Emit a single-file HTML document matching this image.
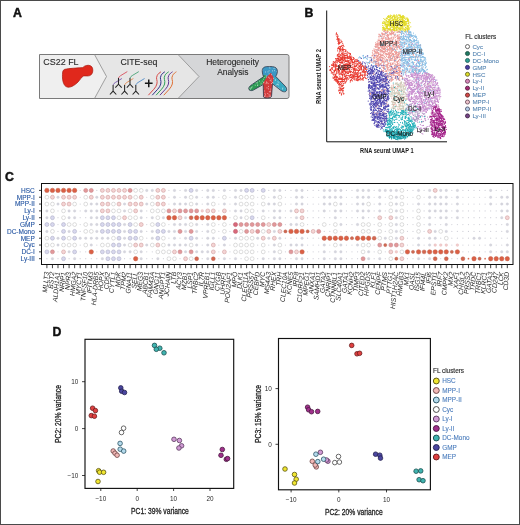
<!DOCTYPE html>
<html><head><meta charset="utf-8"><title>Figure</title>
<style>
html,body{margin:0;padding:0;background:#fff;}
body{width:520px;height:525px;overflow:hidden;}
svg{display:block;font-family:"Liberation Sans", sans-serif;filter:blur(0.3px);}
</style></head>
<body>
<svg width="520" height="525" viewBox="0 0 520 525">
<rect x="0.5" y="0.5" width="519" height="524" fill="none" stroke="#4a4a4a" stroke-width="1"/>
<text x="13.1" y="17" font-size="12.3" font-weight="bold" fill="#111" stroke="#111" stroke-width="0.45">A</text>
<text x="304.6" y="17.3" font-size="12.3" font-weight="bold" fill="#111" stroke="#111" stroke-width="0.45">B</text>
<text x="4.9" y="181.3" font-size="12.3" font-weight="bold" fill="#111" stroke="#111" stroke-width="0.45">C</text>
<text x="52.4" y="335.6" font-size="12.3" font-weight="bold" fill="#111" stroke="#111" stroke-width="0.45">D</text>
<path d="M39.5,54.5 L94.5,54.5 L106.5,76.5 L94.5,98.5 L39.5,98.5 Z" fill="#efefef" stroke="none"/>
<path d="M94.5,54.5 L178,54.5 L199,76.5 L178,98.5 L94.5,98.5 L106.5,76.5 Z" fill="#e6e6e6"/>
<path d="M178,54.5 L287,54.5 Q289,54.5 289,56.5 L289,96.5 Q289,98.5 287,98.5 L178,98.5 L199,76.5 Z" fill="#d5d6d8"/>
<path d="M39.5,54.5 L287,54.5 Q289,54.5 289,56.5 L289,96.5 Q289,98.5 287,98.5 L39.5,98.5 Z" fill="none" stroke="#7a7a7a" stroke-width="1"/>
<path d="M94.5,54.5 L106.5,76.5 L94.5,98.5 M178,54.5 L199,76.5 L178,98.5" fill="none" stroke="#8a8a8a" stroke-width="0.8"/>
<text x="43.3" y="65" font-size="8.95" fill="#2a2a2a" stroke="#2a2a2a" stroke-width="0.12">CS22 FL</text>
<text x="138.9" y="65.1" font-size="8.75" fill="#2a2a2a" stroke="#2a2a2a" stroke-width="0.12" text-anchor="middle">CITE-seq</text>
<text x="232.6" y="65.1" font-size="8.5" fill="#2a2a2a" stroke="#2a2a2a" stroke-width="0.12" text-anchor="middle">Heterogeneity</text>
<text x="232.8" y="75.3" font-size="8.4" fill="#2a2a2a" stroke="#2a2a2a" stroke-width="0.12" text-anchor="middle">Analysis</text>
<path d="M64.8,69.3 C69,68.4 77,68 82.7,67.6 C84,66.4 85,65.7 86.8,65.4 C89.5,64.9 92.3,66 92.7,68.8 C93.1,71.6 92.5,74.5 89.8,75.6 C87.5,76.4 85,75.6 83.5,76 C81.5,76.8 80.5,79.5 78,82 C75.5,84.5 71.5,87.5 68,87.2 C65,86.9 63.8,84.5 63,81.5 C62.3,78.5 62.3,75 62.7,72 C63,70.5 63.6,69.7 64.8,69.3 Z" fill="#e0281c" stroke="#a8180e" stroke-width="0.7"/>
<path d="M113.1,84.89999999999999 C113.69999999999999,83.69999999999999 114.3,83.1 115.3,82.5 L121.89999999999999,78.5" fill="none" stroke="#7050a8" stroke-width="0.95" opacity="0.9"/>
<path d="M109.89999999999999,94.5 L113.1,91.1 L116.3,94.5 M113.1,91.1 L113.1,84.89999999999999" fill="none" stroke="#262626" stroke-width="1.05"/>
<path d="M118.5,78.0 C119.1,76.8 119.7,76.2 120.7,75.60000000000001 L127.3,71.60000000000001" fill="none" stroke="#d84858" stroke-width="0.95" opacity="0.9"/>
<path d="M115.3,87.60000000000001 L118.5,84.2 L121.7,87.60000000000001 M118.5,84.2 L118.5,78.0" fill="none" stroke="#262626" stroke-width="1.05"/>
<path d="M124.6,84.89999999999999 C125.19999999999999,83.69999999999999 125.8,83.1 126.8,82.5 L133.4,78.5" fill="none" stroke="#e88848" stroke-width="0.95" opacity="0.9"/>
<path d="M121.39999999999999,94.5 L124.6,91.1 L127.8,94.5 M124.6,91.1 L124.6,84.89999999999999" fill="none" stroke="#262626" stroke-width="1.05"/>
<path d="M130,78.0 C130.6,76.8 131.2,76.2 132.2,75.60000000000001 L138.8,71.60000000000001" fill="none" stroke="#40a070" stroke-width="0.95" opacity="0.9"/>
<path d="M126.8,87.60000000000001 L130,84.2 L133.2,87.60000000000001 M130,84.2 L130,78.0" fill="none" stroke="#262626" stroke-width="1.05"/>
<path d="M135.8,84.89999999999999 C136.4,83.69999999999999 137.0,83.1 138.0,82.5 L144.60000000000002,78.5" fill="none" stroke="#4888c8" stroke-width="0.95" opacity="0.9"/>
<path d="M132.60000000000002,94.5 L135.8,91.1 L139.0,94.5 M135.8,91.1 L135.8,84.89999999999999" fill="none" stroke="#262626" stroke-width="1.05"/>
<path d="M144.9,83.3 L152.6,83.3 M148.75,79.6 L148.75,87.2" stroke="#161616" stroke-width="1.5"/>
<path d="M148.40,95.2 C152.40,90.5 155.90,88 156.90,84 C157.90,80 155.40,79 157.20,75.5 C158.20,73.5 159.90,72.5 161.00,71.8" fill="none" stroke="#d84a48" stroke-width="1.0"/>
<path d="M152.25,95.2 C156.25,90.5 159.75,88 160.75,84 C161.75,80 159.25,79 161.05,75.5 C162.05,73.5 163.75,72.5 164.85,71.8" fill="none" stroke="#32328a" stroke-width="1.0"/>
<path d="M156.10,95.2 C160.10,90.5 163.60,88 164.60,84 C165.60,80 163.10,79 164.90,75.5 C165.90,73.5 167.60,72.5 168.70,71.8" fill="none" stroke="#30a058" stroke-width="1.0"/>
<path d="M159.95,95.2 C163.95,90.5 167.45,88 168.45,84 C169.45,80 166.95,79 168.75,75.5 C169.75,73.5 171.45,72.5 172.55,71.8" fill="none" stroke="#603894" stroke-width="1.0"/>
<path d="M163.80,95.2 C167.80,90.5 171.30,88 172.30,84 C173.30,80 170.80,79 172.60,75.5 C173.60,73.5 175.30,72.5 176.40,71.8" fill="none" stroke="#e07034" stroke-width="1.0"/>
<clipPath id="ic"><path d="M262.3,72 C261.8,68 264,66.5 268,66.6 C272,66.4 276.5,66.4 277.2,70 C277.8,73 276.5,75 275.8,76.5 L285,86 C287.5,88.5 287,91.5 284.8,91.8 C283,92 281,90.8 279,89 L272.5,83.8 L271.5,96.5 C271,98.3 264,98.6 263.5,96.8 L263.2,84.5 L253.5,90 C250.5,91.5 248,90 249,87.5 C249.8,86 251,85.2 252.5,84.2 L263.5,76.8 C263,75.5 262.5,74 262.3,72 Z"/></clipPath>
<g clip-path="url(#ic)">
<rect x="246" y="64" width="44" height="36" fill="#3c98c4"/>
<path d="M246,78 L266,75 L268,84 L262,92 L246,96 Z" fill="#2c9a52"/>
<path d="M267,76.5 L271,72.8 L274,78.5 L272.8,84 L272.8,100 L262,100 L262.5,84 Z" fill="#d23a3a"/>
<path d="M274,77 L278,77 L290,88 L290,96 L272.8,84 Z" fill="#38a8c0"/>
<path d="M261.0,71.0h0M274.0,68.4h0M269.4,78.1h0M250.3,82.7h0M249.5,80.3h0M250.8,69.0h0M265.0,93.3h0M253.0,73.4h0M273.1,97.3h0M271.1,79.1h0M287.1,67.5h0M282.3,75.6h0M253.8,69.9h0M260.3,92.9h0M255.2,85.2h0M273.6,78.3h0M269.9,68.1h0M250.4,72.8h0M275.2,80.1h0M260.6,85.3h0M266.1,75.9h0M279.8,89.1h0M257.8,85.0h0M269.0,94.9h0M277.2,75.5h0M287.2,69.9h0M264.7,91.0h0M254.1,82.1h0M249.6,88.1h0M278.6,84.9h0M283.0,76.4h0M275.8,85.6h0M271.2,81.1h0M281.6,97.2h0M267.0,87.9h0M250.4,89.1h0M273.9,98.8h0M280.9,75.4h0M263.4,88.1h0M248.9,81.2h0M254.7,69.9h0M250.4,91.4h0M253.2,74.2h0M263.6,94.8h0M251.2,80.8h0M270.0,95.2h0M280.8,94.5h0M259.1,79.7h0M262.4,95.2h0M286.3,71.0h0M255.0,73.7h0M257.3,82.0h0M271.6,74.7h0M248.2,79.8h0M262.8,84.7h0M286.1,88.8h0M268.6,86.4h0M275.0,67.8h0M284.0,91.7h0M283.0,92.3h0M263.7,79.2h0M252.1,86.9h0M250.5,68.2h0M256.4,71.4h0M261.6,67.7h0M248.0,71.0h0M252.1,78.0h0M249.0,94.9h0M272.6,70.9h0M258.1,77.5h0M262.6,70.1h0M282.0,98.8h0M266.6,82.0h0M251.4,69.4h0M261.7,74.7h0M281.2,71.3h0M248.9,97.4h0M269.1,70.8h0M269.7,66.9h0M269.1,98.3h0M282.5,89.0h0M258.4,78.1h0M254.7,91.5h0M269.3,91.7h0M261.2,73.4h0M280.5,98.5h0M282.1,92.6h0M280.7,90.4h0M257.1,83.1h0M262.2,67.0h0M249.1,75.2h0M258.4,88.9h0M286.3,80.8h0M285.5,98.6h0M286.2,78.0h0M256.8,73.5h0M255.9,72.7h0M273.0,95.7h0M281.6,81.8h0M274.1,92.4h0M251.4,87.8h0M284.4,91.8h0M278.0,81.8h0M255.1,92.0h0M261.3,92.4h0M286.9,79.1h0M264.1,97.2h0M277.0,71.6h0M253.1,71.0h0M284.2,92.6h0M253.8,93.3h0M287.2,87.7h0M262.0,84.1h0M253.2,66.5h0M286.8,87.4h0M269.1,96.8h0M265.4,94.8h0M281.0,73.0h0M258.1,75.7h0M257.6,85.4h0M258.4,79.8h0M253.2,96.0h0M262.2,81.1h0M271.3,95.8h0M264.8,96.3h0M268.1,83.6h0M268.9,66.6h0M265.6,72.0h0M248.2,92.4h0M254.9,81.6h0M277.0,84.4h0M261.0,83.1h0M270.2,91.9h0M252.2,84.5h0M257.9,75.1h0M278.9,82.8h0M270.5,91.1h0M284.5,80.6h0M272.5,82.7h0M268.5,88.9h0M266.1,83.6h0M267.1,97.1h0M276.0,94.9h0M285.7,74.6h0M270.4,97.1h0M281.6,70.5h0M252.9,80.6h0M250.9,73.9h0M250.9,88.1h0M279.4,95.6h0M254.2,89.6h0M274.4,70.7h0M283.3,97.9h0M256.8,97.4h0M263.9,82.1h0M287.6,93.5h0M254.5,80.2h0M268.6,77.2h0M255.8,76.5h0M276.9,66.6h0M270.2,80.5h0M248.7,76.9h0M273.0,82.9h0M250.6,98.5h0M279.5,98.1h0M252.2,74.8h0M249.6,91.7h0M258.8,70.3h0M264.9,96.1h0M280.8,74.5h0M254.0,96.3h0M270.8,89.1h0M251.6,67.9h0M275.5,80.0h0M250.9,97.0h0M273.4,92.5h0M251.3,94.3h0M250.7,94.5h0M266.2,77.2h0M270.1,96.6h0M258.7,70.3h0M269.1,73.9h0M252.4,71.3h0M250.0,72.7h0M260.5,76.1h0M278.4,75.6h0M268.0,71.9h0M261.9,66.6h0M258.0,66.5h0M277.3,84.2h0M255.6,81.7h0M285.4,69.5h0M280.8,80.3h0M267.8,93.5h0M263.7,82.7h0M275.5,98.4h0M261.7,93.5h0M276.3,87.0h0M264.2,77.5h0M250.2,70.3h0M250.8,90.4h0M258.2,71.4h0M251.4,93.8h0M282.8,88.1h0M259.3,74.0h0M259.7,81.2h0M254.3,80.7h0M258.5,97.7h0M286.9,84.1h0M257.8,97.9h0M260.4,77.8h0M248.0,78.6h0M267.0,82.6h0M256.0,82.7h0M248.2,74.7h0M251.6,79.2h0M249.7,66.7h0M260.2,73.7h0M271.4,83.5h0M278.0,87.7h0" stroke="#ffffff" stroke-width="0.9" stroke-linecap="round" opacity="0.75"/>
</g>
<path d="M262.3,72 C261.8,68 264,66.5 268,66.6 C272,66.4 276.5,66.4 277.2,70 C277.8,73 276.5,75 275.8,76.5 L285,86 C287.5,88.5 287,91.5 284.8,91.8 C283,92 281,90.8 279,89 L272.5,83.8 L271.5,96.5 C271,98.3 264,98.6 263.5,96.8 L263.2,84.5 L253.5,90 C250.5,91.5 248,90 249,87.5 C249.8,86 251,85.2 252.5,84.2 L263.5,76.8 C263,75.5 262.5,74 262.3,72 Z" fill="none" stroke="#383c4c" stroke-width="0.8"/>
<path d="M326.7,10.5 L326.7,141.8 L447,141.8" fill="none" stroke="#111" stroke-width="1"/>
<text transform="translate(320.5,76.5) rotate(-90)" font-size="7.5" font-weight="bold" fill="#222" text-anchor="middle" textLength="55" lengthAdjust="spacingAndGlyphs">RNA seurat UMAP 2</text>
<text x="386.8" y="152.9" font-size="7.5" font-weight="bold" fill="#222" text-anchor="middle" textLength="53.5" lengthAdjust="spacingAndGlyphs">RNA seurat UMAP 1</text>
<path d="M344.9,53.7h0M363.1,71.2h0M334.0,65.9h0M350.1,71.7h0M358.9,79.9h0M358.4,71.5h0M344.8,57.9h0M340.7,92.0h0M357.3,60.5h0M351.0,58.3h0M337.0,39.4h0M353.9,77.0h0M348.1,75.6h0M344.0,54.1h0M339.6,78.4h0M364.3,72.8h0M340.3,62.5h0M343.7,49.4h0M337.4,80.4h0M351.1,56.2h0M335.7,76.9h0M341.2,93.4h0M343.5,45.3h0M352.0,67.2h0M361.4,67.3h0M340.0,89.7h0M336.5,71.2h0M342.8,52.5h0M342.1,78.8h0M340.3,73.2h0M339.7,46.6h0M352.6,74.9h0M362.4,72.0h0M339.6,92.5h0M345.2,57.8h0M357.8,74.0h0M355.0,80.1h0M359.4,69.9h0M343.3,45.1h0M357.7,61.3h0M344.6,81.8h0M354.1,62.9h0M359.5,76.1h0M365.8,66.2h0M359.6,66.7h0M345.4,77.2h0M339.1,79.2h0M343.7,72.0h0M340.3,49.4h0M338.5,81.9h0M338.5,42.1h0M354.6,73.1h0M337.1,60.9h0M363.6,67.5h0M363.7,70.3h0M363.3,70.8h0M342.8,69.5h0M346.3,68.6h0M352.2,75.6h0M339.7,79.4h0M334.0,72.4h0M361.8,63.4h0M338.6,67.2h0M352.5,80.8h0M339.2,41.2h0M336.4,62.1h0M360.8,72.6h0M360.5,62.8h0M338.3,47.5h0M361.3,66.8h0M344.6,70.4h0M341.2,78.3h0M349.0,66.4h0M348.3,64.9h0M344.9,58.9h0M337.3,55.0h0M349.9,60.2h0M346.6,67.0h0M344.9,69.9h0M356.9,69.8h0M344.1,68.3h0M348.9,61.5h0M352.1,63.8h0M349.0,65.0h0M347.0,72.2h0M345.0,83.3h0M361.2,69.5h0M351.7,59.3h0M346.4,72.1h0M339.0,57.2h0M349.7,57.5h0M349.0,68.2h0M343.8,74.0h0M342.3,48.3h0M341.5,57.9h0M357.6,77.7h0M354.4,61.9h0M340.7,67.2h0M341.4,83.7h0M335.7,74.4h0M337.8,71.8h0M340.5,60.7h0M337.0,39.4h0M366.0,71.7h0M355.0,72.1h0M351.4,58.3h0M365.9,68.1h0M339.7,56.7h0M335.7,80.6h0M337.7,60.5h0M347.0,69.7h0M330.2,69.5h0M340.1,65.3h0M353.3,73.2h0M357.2,64.6h0M341.4,94.9h0M347.8,73.5h0M334.9,79.3h0M365.3,72.9h0M335.9,79.4h0M338.7,82.4h0M335.5,61.0h0M343.7,64.0h0M344.1,57.6h0M353.4,69.1h0M360.1,64.0h0M338.9,90.0h0M359.7,65.9h0M354.8,61.5h0M337.9,69.0h0M342.2,48.2h0M345.4,73.1h0M357.5,63.8h0M340.1,50.2h0M361.4,67.9h0M336.9,36.6h0M349.4,58.6h0M355.0,75.8h0M344.3,74.0h0M333.4,61.6h0M352.6,67.2h0M340.4,88.5h0M343.0,56.4h0M348.2,62.9h0M366.0,74.9h0M354.7,78.3h0M360.7,75.4h0M343.3,69.4h0M352.3,62.3h0M342.8,85.5h0M335.7,76.2h0M361.1,66.4h0M354.5,68.4h0M363.2,78.5h0M351.2,59.5h0M358.8,76.6h0M356.4,76.7h0M335.5,65.2h0M342.4,61.0h0M345.2,57.3h0M353.7,75.8h0M349.2,64.6h0M354.2,69.8h0M352.9,78.1h0M336.5,79.1h0M337.5,77.6h0M352.0,76.8h0M337.9,69.9h0M363.7,66.9h0M348.2,73.6h0M334.2,70.5h0M347.1,57.4h0M343.6,54.0h0M339.8,59.1h0M341.0,58.2h0M344.3,79.2h0M339.1,56.2h0M343.9,55.6h0M347.4,77.8h0M341.5,59.5h0M352.7,61.7h0M355.0,77.1h0M353.5,71.2h0M337.2,81.5h0M361.4,69.7h0M340.0,77.6h0M338.6,59.5h0M337.6,50.8h0M333.8,64.8h0M347.0,73.2h0M363.3,69.2h0M339.5,56.6h0M357.3,79.8h0M349.8,62.7h0M338.0,54.9h0M363.1,80.2h0M344.5,55.8h0M338.4,79.2h0M342.6,79.7h0M345.4,65.4h0M356.4,78.8h0M360.2,76.1h0M350.6,58.7h0M343.8,79.5h0M343.8,57.6h0M344.5,74.6h0M345.0,49.5h0M334.3,80.1h0M340.8,40.0h0M347.1,61.5h0M336.7,64.8h0M360.0,75.3h0M354.4,68.1h0M347.7,64.3h0M338.9,43.6h0M332.0,65.2h0M344.6,76.3h0M334.1,67.1h0M333.3,64.7h0M351.2,79.1h0M343.4,79.4h0M334.0,77.8h0M343.8,87.7h0M365.6,69.3h0M340.5,57.3h0M348.2,79.5h0M342.7,53.3h0M338.2,81.3h0M359.1,79.2h0M339.7,62.4h0M340.8,90.2h0M346.0,57.9h0M350.5,57.2h0M342.7,53.7h0M337.5,82.8h0M344.4,79.1h0M348.4,72.1h0M362.2,65.9h0M350.8,71.2h0M339.3,60.6h0M337.1,70.0h0M337.5,35.0h0M350.9,74.2h0M332.3,73.0h0M351.5,79.7h0M340.4,62.9h0M346.1,53.6h0M361.3,63.6h0M353.8,72.1h0M355.2,74.4h0M335.7,79.5h0M344.4,64.8h0M346.4,81.2h0M350.7,59.4h0M338.7,68.4h0M341.2,69.6h0M341.9,78.0h0M338.7,38.8h0M339.5,48.3h0M345.8,50.7h0M344.4,58.7h0M348.0,78.3h0M333.3,62.2h0M336.1,76.9h0M334.3,71.5h0M342.5,71.1h0M334.1,78.0h0M335.6,69.3h0M365.3,68.2h0M352.7,62.5h0M345.0,67.4h0M342.7,43.6h0M341.2,74.7h0M356.8,76.0h0M333.8,75.1h0M338.8,81.3h0M350.3,77.3h0M336.6,60.3h0M334.5,71.5h0M347.8,61.8h0M342.8,58.6h0M365.0,73.0h0M340.1,64.7h0M343.3,81.7h0M353.8,77.2h0M332.2,67.4h0M336.7,81.8h0M339.7,73.8h0M346.3,78.5h0M351.3,61.9h0M358.9,68.4h0M337.5,77.7h0M343.2,93.1h0M346.8,80.5h0M356.2,78.5h0M349.5,65.3h0M362.6,75.7h0M342.9,58.0h0M344.2,61.0h0M342.1,71.4h0M342.4,57.3h0M339.2,52.1h0M348.2,62.7h0M340.9,86.0h0M358.7,65.9h0M341.7,58.7h0M341.9,41.5h0M350.5,57.3h0M346.5,68.8h0M355.4,72.3h0M344.6,64.8h0M342.9,77.2h0M350.5,61.9h0M354.7,68.0h0M357.2,75.5h0M344.0,71.4h0M349.6,55.1h0M340.2,84.5h0M357.6,74.5h0M336.3,58.6h0M340.4,82.5h0M338.9,60.7h0M332.4,72.8h0M341.5,46.5h0M339.9,76.3h0M353.0,68.2h0M339.8,90.6h0M334.6,77.4h0M342.3,54.7h0M360.9,72.7h0M345.5,51.2h0" stroke="#e8382e" stroke-width="1.2" stroke-linecap="round" fill="none"/>
<path d="M400.3,28.7h0M385.9,29.3h0M393.7,28.2h0M383.7,29.7h0M397.6,26.7h0M389.2,19.5h0M385.7,30.1h0M396.4,26.4h0M388.2,17.3h0M401.2,28.7h0M394.7,25.4h0M407.3,25.4h0M391.8,26.0h0M407.1,29.6h0M391.9,26.1h0M393.9,28.5h0M408.1,23.6h0M403.0,20.0h0M407.6,20.5h0M391.5,20.5h0M392.6,24.4h0M400.6,20.1h0M401.7,17.0h0M403.3,16.8h0M406.7,28.1h0M387.5,22.9h0M400.4,25.7h0M403.8,20.8h0M395.7,30.1h0M388.6,22.2h0M405.9,22.2h0M387.0,21.4h0M387.4,25.8h0M385.3,30.4h0M388.6,16.3h0M391.9,29.4h0M394.0,30.3h0M403.9,25.1h0M392.8,29.7h0M385.3,23.9h0M408.0,19.7h0M400.8,28.7h0M395.9,30.8h0M403.7,23.1h0M393.7,26.7h0M400.8,29.5h0M392.5,26.0h0M402.8,17.6h0M400.1,25.6h0M397.9,25.0h0M405.5,24.9h0M396.0,15.7h0M391.3,22.0h0M387.8,21.6h0M392.2,24.3h0M400.3,21.5h0M384.7,25.0h0M408.2,19.1h0M409.4,28.0h0M397.1,17.1h0M393.7,24.3h0M404.9,21.0h0M393.5,20.5h0M407.2,19.6h0M386.4,18.5h0M404.7,22.9h0M394.8,23.4h0M400.0,15.6h0M388.1,19.4h0M394.2,24.9h0M400.2,16.8h0M394.1,19.4h0M395.7,19.8h0M408.4,20.0h0M392.8,22.8h0M404.9,23.2h0M405.0,24.2h0M393.9,29.2h0M395.8,22.8h0M388.9,24.9h0M405.3,21.9h0M400.5,24.6h0M401.2,23.1h0M393.1,29.9h0M407.5,26.5h0M400.1,24.5h0M386.1,22.3h0M404.6,18.3h0M393.2,26.9h0M397.1,28.6h0M394.6,17.4h0M393.1,27.4h0M393.6,19.7h0M396.9,21.8h0M402.3,22.0h0M400.1,27.1h0M400.1,17.8h0M410.1,22.7h0M393.7,26.5h0M405.8,21.7h0M393.1,23.6h0M401.6,17.4h0M394.7,16.5h0M407.4,18.2h0M382.6,22.8h0M407.1,21.7h0M389.7,16.9h0M393.1,16.4h0M386.5,28.1h0M396.1,24.5h0M397.7,24.4h0M396.8,20.4h0M406.5,18.1h0M385.3,24.6h0M392.6,29.5h0M403.9,29.8h0M390.0,28.0h0M389.6,29.7h0M407.3,27.1h0M389.2,17.2h0M388.4,28.5h0M399.8,24.3h0M391.6,23.7h0M400.0,29.6h0M391.7,23.9h0M388.5,15.8h0M389.8,19.6h0M400.7,16.1h0M394.8,23.6h0M386.8,21.3h0M383.2,21.3h0M400.5,16.0h0M386.6,25.9h0M393.0,19.5h0M390.2,19.8h0M390.7,18.3h0M396.1,25.7h0M382.5,29.9h0M396.1,19.8h0M383.2,27.2h0M384.4,22.0h0M402.5,25.9h0M392.1,25.2h0M395.7,17.3h0M408.8,29.7h0M400.3,20.4h0M395.5,21.3h0M395.8,19.8h0M397.6,26.0h0M392.3,17.0h0M389.8,23.5h0M404.1,22.8h0M386.3,28.0h0M404.7,23.2h0M395.3,19.9h0M402.8,22.7h0M391.3,20.8h0M393.3,25.1h0M392.9,24.7h0M389.9,23.4h0M387.0,24.4h0M388.5,23.9h0M390.0,23.5h0M397.4,20.7h0M402.6,19.2h0M402.0,23.0h0M387.4,30.2h0M385.3,23.8h0M408.6,23.5h0M398.6,28.7h0M387.4,24.9h0M394.3,20.0h0M398.2,17.7h0M395.9,30.2h0M400.2,16.9h0M386.8,26.3h0M384.0,28.5h0M384.8,23.4h0M396.0,27.7h0" stroke="#e2da24" stroke-width="1.2" stroke-linecap="round" fill="none"/>
<path d="M397.9,73.1h0M375.4,46.8h0M389.5,61.1h0M400.7,65.7h0M397.8,78.0h0M378.1,65.4h0M390.4,66.4h0M390.0,59.0h0M385.8,37.6h0M404.9,66.9h0M406.4,47.1h0M416.1,36.4h0M410.8,65.0h0M419.7,65.1h0M408.7,58.5h0M400.4,48.8h0M415.6,69.7h0M407.5,50.5h0M420.7,45.1h0M416.8,65.5h0M402.1,58.0h0M407.2,54.9h0M403.1,42.9h0M423.2,64.4h0M409.6,69.0h0M409.5,50.6h0M406.2,32.8h0M401.5,34.4h0M408.9,31.9h0M412.8,38.6h0M411.6,59.0h0M424.4,70.3h0M408.6,38.3h0M418.5,47.5h0M409.1,36.7h0M400.3,55.7h0M407.8,41.7h0M422.5,50.0h0M405.3,54.2h0M418.2,51.5h0M400.7,70.9h0M406.6,34.1h0M401.2,63.8h0M426.7,69.9h0M425.7,72.3h0M409.3,65.6h0M413.7,45.1h0M409.0,45.7h0M413.1,72.6h0M405.3,51.0h0M414.6,60.3h0M413.9,39.5h0M407.9,53.4h0M408.0,72.0h0M422.1,61.5h0M409.6,47.6h0M410.1,39.4h0M408.4,53.6h0M415.9,36.7h0M419.9,63.2h0M408.8,54.1h0M425.5,65.2h0M405.6,54.9h0M420.5,47.6h0M425.1,64.4h0M410.3,32.0h0M413.4,53.2h0M405.7,42.8h0M412.3,36.3h0M411.9,44.4h0M424.6,65.1h0M413.2,71.4h0M401.7,36.5h0M405.0,60.0h0M401.8,65.9h0M416.7,65.9h0M421.2,59.6h0M401.5,30.8h0M406.7,43.3h0M413.6,57.3h0M405.4,31.9h0M409.1,59.5h0M401.8,60.9h0M406.6,38.9h0M407.9,63.8h0M415.1,65.2h0M416.9,42.0h0M401.4,44.7h0M404.6,44.6h0M407.0,43.0h0M413.3,71.6h0M409.5,36.9h0M402.2,31.4h0M409.4,71.8h0M407.1,39.9h0M420.2,57.8h0M401.3,42.7h0M408.5,48.5h0M403.2,73.1h0M402.8,58.7h0M418.7,71.6h0M408.8,60.5h0M402.6,44.1h0M421.8,54.0h0M399.9,48.9h0M413.7,40.6h0M417.8,59.4h0M418.5,70.8h0M410.8,53.2h0M421.6,68.0h0M406.6,67.6h0M414.8,68.3h0M408.0,40.8h0M403.1,71.2h0M401.0,38.0h0M406.4,53.0h0M402.8,42.4h0M404.4,55.3h0M411.6,40.5h0M402.5,38.6h0M417.8,47.6h0M401.3,51.9h0M404.3,63.2h0M411.7,53.0h0M416.5,39.9h0M416.5,56.1h0M414.3,41.5h0M411.7,46.1h0M409.0,55.7h0M412.2,56.5h0M402.1,31.4h0M407.9,54.0h0M407.7,61.5h0M415.9,47.8h0M399.5,44.4h0M418.9,62.0h0M422.2,63.0h0M409.4,70.9h0M417.0,38.6h0M411.1,49.1h0M423.0,53.4h0M416.1,45.5h0M408.7,34.7h0M405.3,60.5h0M407.4,62.0h0M423.4,54.1h0M410.3,47.7h0M404.5,42.4h0M418.3,66.0h0M408.6,45.8h0M412.3,71.5h0M419.2,55.8h0M419.7,70.6h0M414.8,60.3h0M405.0,69.8h0M420.1,71.8h0M425.3,68.0h0M404.5,52.2h0M420.6,46.8h0M401.6,37.1h0M406.3,63.9h0M419.8,50.5h0M410.7,56.1h0M410.3,49.3h0M416.1,42.9h0M406.2,41.5h0M412.9,68.3h0M412.0,50.0h0M421.1,54.9h0M403.4,62.6h0M418.1,45.3h0M403.0,38.5h0M401.6,52.3h0M403.8,64.6h0M409.0,45.5h0M424.8,71.0h0M408.4,37.4h0M406.9,68.0h0M418.7,56.6h0M412.0,54.5h0M413.9,72.3h0M401.4,51.8h0M424.0,59.1h0M417.0,40.5h0M420.6,60.9h0M422.9,70.2h0M409.5,65.7h0M416.4,56.1h0M421.9,67.7h0M406.5,54.6h0M423.4,61.1h0M410.0,31.6h0M410.5,39.6h0M419.3,45.7h0M423.0,56.8h0M418.7,73.6h0M419.5,64.4h0M408.2,64.8h0M403.3,70.1h0M420.3,59.7h0M420.5,44.7h0M419.1,54.3h0M421.8,61.9h0M413.3,45.8h0M409.1,39.4h0M401.3,60.7h0M420.2,61.7h0M401.8,52.6h0M406.4,44.0h0M420.2,48.6h0M408.5,62.6h0M415.7,40.6h0M401.9,33.5h0M404.9,69.5h0M425.4,71.9h0M414.7,53.4h0M414.1,36.2h0M410.6,57.6h0M413.5,64.1h0M406.2,31.3h0M410.1,57.6h0M405.3,59.1h0M402.2,32.7h0M408.3,66.5h0M417.0,60.6h0M409.0,45.9h0M417.6,48.1h0M399.3,31.6h0M421.9,57.2h0M419.4,71.3h0M401.6,72.1h0M402.6,60.8h0M413.9,44.8h0M399.6,31.7h0M403.9,37.9h0M422.4,54.5h0M405.4,36.4h0M412.1,65.3h0M413.1,67.5h0M400.4,59.8h0M401.0,43.6h0M404.1,70.3h0M426.2,62.5h0M418.3,56.1h0M401.2,32.0h0M417.8,61.9h0M407.4,61.2h0M406.6,39.6h0M418.8,56.7h0M407.0,57.6h0M407.5,69.8h0M409.0,43.5h0M404.0,51.3h0M410.8,57.2h0M419.6,66.2h0M417.2,69.2h0M406.6,36.8h0M425.5,63.8h0M402.9,48.0h0M402.1,55.3h0M418.6,45.6h0M401.6,54.0h0M403.6,38.1h0M421.1,48.3h0M427.1,72.4h0M431.1,106.1h0M406.4,90.0h0M420.7,108.2h0M430.6,90.5h0M416.4,79.0h0M438.5,87.6h0M429.8,87.5h0M430.9,91.1h0M429.4,74.4h0M431.5,101.3h0M418.7,79.8h0M419.7,80.6h0M426.5,96.8h0M415.2,73.6h0M406.3,78.7h0M432.2,76.8h0M360.6,57.7h0M364.7,67.0h0M373.4,59.0h0M360.3,57.4h0M358.8,57.9h0M363.3,55.7h0M361.5,64.0h0M371.5,64.6h0M375.8,63.3h0M366.1,62.0h0M368.8,62.7h0M368.8,69.2h0M373.4,62.0h0M365.1,57.5h0M361.0,63.9h0M367.1,66.9h0M367.5,64.1h0M373.7,66.0h0" stroke="#84bce4" stroke-width="1.2" stroke-linecap="round" fill="none"/>
<path d="M391.7,75.5h0M387.7,68.8h0M390.3,72.3h0M399.8,53.3h0M379.0,65.9h0M393.2,72.5h0M379.1,58.3h0M394.0,38.0h0M389.9,70.1h0M385.0,47.8h0M388.2,57.5h0M377.9,61.0h0M374.8,57.9h0M392.7,31.9h0M388.4,29.4h0M392.5,45.6h0M398.9,52.9h0M385.6,71.5h0M385.9,43.8h0M395.6,52.2h0M375.3,60.9h0M386.6,56.4h0M380.7,35.4h0M393.8,45.7h0M398.6,67.7h0M374.0,58.7h0M389.1,70.0h0M395.8,56.6h0M377.0,43.4h0M389.5,48.3h0M396.8,78.8h0M381.5,47.1h0M387.8,48.3h0M394.6,67.9h0M382.0,38.4h0M380.6,58.1h0M389.4,53.9h0M380.4,50.9h0M392.3,46.0h0M390.7,60.5h0M387.6,34.4h0M390.4,33.4h0M393.6,70.1h0M399.1,68.1h0M396.7,57.6h0M377.2,55.5h0M392.2,79.2h0M399.5,70.7h0M389.9,51.6h0M377.9,61.9h0M379.2,53.9h0M372.5,55.5h0M396.9,42.3h0M386.7,71.3h0M386.9,65.8h0M395.4,67.1h0M380.3,60.7h0M393.3,46.9h0M382.3,46.3h0M381.6,41.2h0M387.2,54.4h0M391.4,74.9h0M385.6,61.0h0M395.6,34.0h0M380.4,64.3h0M389.9,55.5h0M394.0,34.4h0M398.8,36.5h0M395.5,53.9h0M387.5,61.0h0M380.5,63.7h0M382.4,58.7h0M381.6,47.9h0M392.5,53.3h0M383.3,40.4h0M396.2,53.4h0M381.1,42.7h0M383.7,68.8h0M390.6,53.5h0M374.3,57.1h0M385.0,60.8h0M377.6,44.8h0M381.1,52.1h0M380.3,35.2h0M395.1,60.5h0M384.2,46.0h0M375.8,44.9h0M399.3,77.9h0M395.7,77.5h0M398.9,73.2h0M389.3,50.2h0M389.6,48.6h0M392.9,64.2h0M381.3,50.3h0M390.2,65.0h0M389.3,65.8h0M376.4,47.2h0M386.3,54.0h0M390.4,34.6h0M392.7,50.2h0M389.0,74.2h0M387.1,35.1h0M396.4,67.9h0M374.1,60.4h0M381.2,36.5h0M386.2,46.3h0M398.6,78.6h0M399.8,39.7h0M397.6,54.3h0M381.9,66.8h0M390.0,74.0h0M385.5,50.2h0M384.2,36.4h0M389.5,55.0h0M388.4,53.3h0M382.0,57.0h0M380.5,44.9h0M388.6,63.4h0M392.3,50.9h0M399.1,79.9h0M384.1,43.0h0M398.8,75.2h0M393.1,56.3h0M391.5,58.9h0M381.2,46.8h0M381.9,61.2h0M379.3,42.7h0M396.3,54.8h0M382.6,61.4h0M390.5,59.7h0M396.1,59.8h0M394.2,54.7h0M392.3,40.7h0M397.4,38.3h0M395.0,71.5h0M386.9,39.3h0M379.0,50.4h0M397.0,52.4h0M375.1,53.2h0M394.8,65.4h0M376.0,63.9h0M377.6,58.5h0M378.7,55.0h0M385.0,33.5h0M376.3,59.1h0M387.8,77.6h0M380.8,36.5h0M393.4,56.3h0M387.2,73.8h0M378.0,64.0h0M376.8,49.6h0M397.2,42.2h0M387.3,60.4h0M383.2,46.7h0M387.7,68.7h0M392.7,57.9h0M393.3,79.6h0M388.2,63.3h0M398.2,75.4h0M381.2,63.5h0M389.1,44.7h0M381.2,63.9h0M395.4,64.2h0M393.1,43.9h0M393.4,49.8h0M397.5,38.7h0M383.5,43.1h0M388.5,46.4h0M393.4,32.3h0M400.8,75.9h0M398.2,31.7h0M378.4,47.5h0M382.0,55.3h0M387.8,45.5h0M391.7,37.7h0M384.0,40.6h0M376.4,53.3h0M393.9,37.9h0M398.5,47.1h0M389.8,56.6h0M387.0,41.6h0M389.6,39.8h0M393.2,50.3h0M394.8,75.3h0M378.1,50.5h0M376.1,63.7h0M398.4,43.4h0M388.9,52.6h0M381.1,38.9h0M384.8,68.1h0M381.7,45.0h0M389.5,72.3h0M391.3,80.7h0M388.6,54.5h0M391.3,49.3h0M399.9,71.4h0M396.6,69.7h0M383.1,55.3h0M399.8,69.3h0M394.4,56.5h0M379.6,43.8h0M398.5,53.9h0M394.4,72.9h0M381.2,41.7h0M383.0,67.7h0M387.7,50.0h0M378.5,59.9h0M398.3,79.1h0M389.3,32.7h0M387.8,59.7h0M390.9,62.9h0M390.4,69.8h0M395.2,66.7h0M395.4,76.1h0M390.5,48.9h0M379.1,48.6h0M387.1,61.0h0M397.0,36.4h0M392.2,33.3h0M387.4,78.6h0M376.5,50.1h0M386.8,44.2h0M397.2,57.1h0M374.7,51.0h0M377.8,56.0h0M387.7,62.0h0M398.5,45.5h0M384.8,52.4h0M397.3,72.5h0M393.5,71.8h0M396.3,51.3h0M399.4,34.8h0M384.1,36.8h0M379.3,34.7h0M395.6,67.3h0M401.6,76.0h0M390.2,47.9h0M375.4,62.1h0M385.5,32.5h0M401.1,76.4h0M394.8,78.1h0M393.1,45.1h0M399.7,65.1h0M387.8,42.7h0M387.9,31.3h0M381.5,69.6h0M384.6,31.1h0M399.4,74.2h0M399.2,65.2h0M384.2,29.3h0M385.9,37.6h0M400.0,38.4h0M377.7,42.8h0M389.3,63.0h0M383.6,53.1h0M390.5,57.6h0M390.0,57.9h0M391.5,43.5h0M396.2,41.5h0M383.5,70.6h0M389.7,57.8h0M398.1,55.2h0M399.0,38.2h0M393.2,54.8h0M389.9,34.0h0M402.8,78.2h0M400.1,51.4h0M377.9,45.3h0M382.9,60.9h0M397.4,56.2h0M382.7,35.0h0M378.3,65.7h0M398.3,38.2h0M400.1,44.4h0M392.7,69.8h0M377.3,43.7h0M399.6,59.7h0M396.4,73.2h0M396.3,62.1h0M398.2,45.7h0M383.0,45.6h0M386.5,71.4h0M390.5,40.4h0M378.4,48.8h0M393.7,33.0h0M397.7,46.9h0M389.8,59.6h0M383.2,38.2h0M411.4,44.4h0M411.2,42.5h0M422.4,68.2h0M406.0,71.2h0M407.0,64.9h0M418.0,56.9h0M406.1,48.6h0M414.1,62.5h0M403.7,40.0h0M414.8,56.6h0M403.4,63.8h0M418.0,67.0h0M407.1,30.9h0M409.8,66.5h0M412.4,48.8h0M403.3,33.6h0M380.6,85.0h0M382.7,75.5h0M378.3,126.2h0M366.9,68.8h0M379.5,110.4h0M382.8,80.1h0M373.9,72.9h0M367.6,74.6h0M384.4,89.1h0M385.3,113.0h0M373.0,83.3h0M373.8,100.0h0M376.9,104.3h0M382.6,82.4h0M386.0,93.1h0M374.9,90.8h0M379.7,113.7h0M377.1,124.3h0M383.9,118.9h0M372.4,92.2h0M381.2,91.7h0M373.4,93.1h0M393.3,105.8h0M398.8,86.2h0M393.2,102.5h0M394.1,104.4h0M400.4,101.6h0M393.3,84.8h0M393.4,108.8h0M400.9,84.9h0M402.9,96.8h0M399.4,106.2h0M401.8,90.4h0M367.8,62.5h0M361.8,64.2h0M374.2,60.9h0" stroke="#ec9a96" stroke-width="1.2" stroke-linecap="round" fill="none"/>
<path d="M397.5,76.6h0M392.0,67.3h0M391.4,77.9h0M397.2,57.7h0M396.9,71.6h0M380.2,59.3h0M389.5,80.3h0M395.9,76.6h0M378.7,63.2h0M393.5,72.0h0M394.5,60.3h0M385.0,69.2h0M375.6,116.4h0M374.1,90.8h0M371.9,85.6h0M388.6,97.9h0M376.8,92.1h0M378.5,124.6h0M376.2,78.4h0M375.9,97.0h0M375.4,117.7h0M380.2,80.8h0M388.2,95.6h0M379.6,95.6h0M376.9,113.2h0M385.5,106.3h0M374.3,83.6h0M374.7,71.8h0M372.6,117.5h0M385.8,77.7h0M377.5,100.2h0M385.6,84.9h0M374.5,104.3h0M377.6,67.3h0M383.1,101.1h0M372.2,69.4h0M374.3,103.6h0M386.5,83.3h0M385.2,113.5h0M380.8,99.6h0M379.5,111.1h0M377.4,104.9h0M371.6,92.7h0M371.4,87.9h0M380.2,117.8h0M384.1,116.9h0M386.1,94.6h0M375.8,85.9h0M382.4,109.9h0M380.6,91.6h0M377.6,100.5h0M375.7,106.1h0M384.6,118.1h0M378.1,91.9h0M376.1,80.2h0M371.7,72.9h0M369.5,95.8h0M387.2,88.7h0M384.7,119.8h0M379.3,115.9h0M383.9,76.5h0M369.4,90.6h0M375.1,79.5h0M387.2,99.0h0M381.1,105.3h0M381.7,103.8h0M375.2,110.2h0M379.5,78.3h0M376.8,98.4h0M383.5,72.5h0M377.8,78.6h0M374.5,95.5h0M380.5,118.5h0M385.2,107.2h0M374.0,101.9h0M384.4,99.9h0M375.3,99.5h0M374.2,88.5h0M378.9,101.5h0M384.3,93.3h0M377.9,117.3h0M370.7,76.3h0M380.8,99.6h0M383.7,112.0h0M375.2,85.2h0M383.0,92.2h0M375.5,98.1h0M377.2,71.1h0M385.5,96.7h0M376.6,96.7h0M388.2,82.1h0M386.3,79.3h0M376.1,86.5h0M386.9,87.0h0M382.3,71.6h0M380.8,111.2h0M374.5,99.1h0M377.6,117.4h0M383.2,124.2h0M380.3,77.0h0M386.4,119.9h0M380.2,79.6h0M373.6,106.3h0M381.2,85.4h0M386.3,106.7h0M380.8,118.9h0M367.7,73.0h0M383.0,84.4h0M379.4,75.0h0M386.1,73.9h0M386.8,91.2h0M372.1,78.5h0M380.8,80.1h0M379.3,81.7h0M372.4,78.4h0M384.3,108.2h0M374.4,77.2h0M382.9,102.6h0M377.6,81.7h0M388.1,91.5h0M383.2,79.5h0M372.9,113.7h0M378.3,82.3h0M382.6,97.6h0M374.9,81.8h0M379.1,94.9h0M375.1,96.3h0M368.4,66.0h0M379.1,96.5h0M368.4,87.3h0M384.8,90.2h0M388.3,110.0h0M369.5,98.0h0M377.4,80.7h0M370.0,90.9h0M372.6,73.6h0M377.4,95.7h0M378.8,105.3h0M382.2,123.1h0M373.0,107.1h0M384.7,103.4h0M372.7,87.6h0M375.4,74.1h0M386.5,76.8h0M381.0,106.6h0M375.0,98.9h0M378.5,85.1h0M383.7,124.5h0M388.8,90.4h0M385.4,84.9h0M379.8,86.4h0M375.4,106.8h0M371.0,99.2h0M384.3,79.6h0M369.5,93.5h0M380.1,81.6h0M383.6,115.7h0M372.9,94.9h0M386.5,76.6h0M388.9,85.5h0M380.9,115.5h0M372.9,72.0h0M374.4,82.4h0M370.5,97.1h0M374.1,123.8h0M371.5,79.6h0M375.8,118.1h0M377.7,102.9h0M371.8,98.0h0M373.8,80.1h0M373.8,95.1h0M381.1,121.7h0M384.8,101.0h0M388.3,88.6h0M380.1,98.2h0M371.8,94.8h0M377.3,75.7h0M373.9,101.3h0M382.8,80.7h0M374.8,94.4h0M386.3,106.0h0M379.3,97.5h0M371.8,86.9h0M374.4,80.2h0M376.6,110.4h0M374.7,85.3h0M371.7,112.7h0M371.6,98.7h0M376.5,125.8h0M381.6,121.6h0M376.5,72.5h0M378.5,105.2h0M383.3,75.3h0M373.8,95.8h0M382.0,113.5h0M373.8,120.2h0M373.1,102.0h0M373.3,84.5h0M379.6,113.5h0M370.9,107.5h0M371.9,91.1h0M374.3,93.1h0M372.2,115.6h0M380.9,79.9h0M378.1,113.2h0M379.4,70.8h0M377.9,81.8h0M382.7,93.8h0M373.0,81.1h0M380.8,96.1h0M377.9,70.8h0M379.6,92.2h0M373.6,75.5h0M379.7,85.8h0M374.1,84.3h0M374.5,83.5h0M381.2,120.2h0M372.9,117.7h0M371.2,107.6h0M379.5,99.4h0M368.2,101.1h0M371.2,116.9h0M371.5,96.6h0M380.4,111.0h0M387.9,93.0h0M380.8,121.0h0M373.8,110.3h0M373.5,104.3h0M376.0,93.4h0M385.2,98.3h0M376.9,92.9h0M368.6,84.9h0M381.2,79.9h0M371.3,87.4h0M378.5,95.7h0M373.0,92.7h0M369.9,104.8h0M380.1,86.4h0M384.9,75.9h0M376.5,79.8h0M377.0,103.3h0M384.2,106.3h0M371.3,65.4h0M387.7,89.4h0M367.5,72.1h0M379.3,89.1h0M369.6,98.3h0M383.8,102.1h0M377.6,92.6h0M372.9,103.6h0M377.5,116.6h0M381.5,121.6h0M376.6,96.1h0M374.4,103.6h0M375.0,105.4h0M374.1,119.3h0M379.8,77.6h0M387.6,94.3h0M376.4,115.1h0M381.1,125.1h0M373.1,105.2h0M388.0,85.5h0M379.3,98.6h0M372.7,70.8h0M382.3,127.9h0M379.7,108.3h0M379.7,84.4h0M370.2,103.3h0M384.2,113.0h0M375.6,79.4h0M376.3,69.0h0M375.6,96.6h0M383.0,89.3h0M369.0,87.5h0M380.5,98.3h0M381.3,86.8h0M384.1,125.0h0M381.4,121.9h0M383.5,114.1h0M370.4,72.6h0M372.0,95.2h0M379.4,100.4h0M375.0,91.6h0M381.5,109.8h0M387.9,91.5h0M380.4,121.2h0M372.5,89.7h0M386.4,77.6h0M385.3,76.1h0M380.0,84.3h0M385.1,93.0h0M383.5,107.4h0M372.7,120.1h0M384.5,126.3h0M382.4,94.3h0M375.5,97.8h0M374.8,74.6h0M381.6,71.9h0M370.0,85.9h0M381.9,102.7h0M378.0,126.0h0M381.9,87.0h0M379.4,123.0h0M373.4,114.2h0M377.2,95.1h0M386.3,78.2h0M381.7,117.8h0M377.8,126.7h0M382.6,112.3h0M385.9,85.2h0M374.6,77.1h0M382.6,84.4h0M372.3,101.3h0M371.0,81.0h0M374.5,107.9h0M373.7,91.0h0M381.0,117.5h0M379.5,78.1h0M377.0,84.7h0M376.2,116.6h0M380.7,123.9h0M371.9,89.7h0M372.9,77.1h0M380.3,87.3h0M374.3,77.3h0M377.7,119.2h0M379.0,117.7h0M369.2,94.5h0M381.2,80.9h0M375.5,97.3h0M369.5,85.0h0M376.8,82.4h0M376.6,87.1h0M376.2,73.2h0M371.5,82.0h0M381.6,122.1h0M373.7,115.0h0M384.7,102.7h0M371.7,78.6h0M387.1,84.9h0M371.0,97.2h0M375.2,88.7h0M373.4,119.2h0M369.2,85.8h0M378.2,92.0h0M373.2,116.8h0M369.9,92.9h0M381.3,104.4h0M386.9,88.3h0M366.4,67.4h0M384.5,122.3h0M380.5,73.6h0M381.6,109.9h0M387.9,92.7h0M375.5,113.9h0M379.5,116.1h0M384.3,93.9h0M378.1,125.0h0M381.4,111.6h0M373.7,85.9h0M380.0,92.0h0M370.3,82.0h0M372.6,70.0h0M388.4,91.6h0M382.6,118.6h0M378.4,116.9h0M375.9,82.5h0M384.7,86.8h0M369.9,87.2h0M372.3,66.8h0M376.2,65.7h0M362.4,63.2h0M365.5,63.8h0M361.3,58.4h0" stroke="#4e46b0" stroke-width="1.2" stroke-linecap="round" fill="none"/>
<path d="M419.1,69.4h0M404.3,57.1h0M411.4,48.6h0M419.8,55.3h0M418.5,52.0h0M407.1,70.2h0M421.7,76.2h0M424.8,91.8h0M432.8,94.1h0M412.3,76.6h0M430.4,93.4h0M429.8,76.1h0M417.4,78.0h0M411.9,94.4h0M413.8,74.1h0M424.5,109.0h0M422.0,98.3h0M418.6,93.5h0M419.0,85.5h0M411.2,89.6h0M422.5,102.5h0M421.5,99.0h0M439.3,93.2h0M408.5,95.9h0M430.6,106.2h0M429.0,101.1h0M415.5,71.7h0M418.3,81.1h0M420.9,90.6h0M433.8,89.5h0M415.6,105.5h0M435.1,96.1h0M426.1,103.7h0M411.8,75.6h0M428.3,98.4h0M434.7,77.1h0M439.4,96.2h0M421.5,83.0h0M427.2,109.3h0M411.3,97.7h0M415.6,103.6h0M425.1,100.8h0M425.8,77.5h0M435.7,105.5h0M428.7,92.1h0M429.8,101.2h0M431.8,90.9h0M430.4,85.5h0M420.0,96.5h0M410.0,99.9h0M428.7,73.5h0M427.0,74.9h0M417.8,87.9h0M410.1,82.3h0M420.8,96.4h0M408.4,76.8h0M429.3,101.3h0M436.0,93.4h0M439.2,90.2h0M417.3,91.5h0M431.2,101.4h0M415.8,89.3h0M417.0,82.1h0M423.6,107.4h0M422.9,111.1h0M423.4,80.4h0M425.0,77.2h0M434.3,100.6h0M424.7,94.9h0M427.0,94.3h0M428.3,93.1h0M420.7,83.0h0M429.9,79.8h0M405.8,78.4h0M424.5,93.6h0M419.7,101.7h0M422.0,95.6h0M410.8,91.6h0M414.6,94.0h0M434.6,79.5h0M426.7,99.6h0M422.6,105.1h0M426.2,75.8h0M418.8,77.9h0M429.6,89.0h0M407.1,94.9h0M429.8,96.1h0M419.2,106.2h0M422.9,75.4h0M429.3,74.6h0M421.2,98.7h0M410.3,92.9h0M431.1,108.3h0M423.6,99.9h0M413.9,91.8h0M412.7,103.4h0M424.5,83.5h0M431.7,75.4h0M432.6,98.4h0M411.0,85.0h0M430.2,86.2h0M405.7,78.6h0M438.5,102.4h0M426.3,112.5h0M434.2,87.7h0M433.9,90.9h0M420.4,108.2h0M418.7,93.0h0M409.3,95.6h0M427.7,81.6h0M434.2,98.3h0M412.8,101.3h0M431.3,105.8h0M414.3,78.3h0M410.2,99.9h0M439.2,94.9h0M418.6,98.4h0M414.3,102.2h0M423.8,78.1h0M415.8,100.5h0M427.8,78.1h0M432.0,87.6h0M411.3,97.5h0M412.6,76.1h0M421.9,93.2h0M422.8,80.4h0M435.3,94.1h0M418.1,77.0h0M413.7,97.1h0M425.7,92.0h0M422.8,105.6h0M407.5,79.9h0M434.0,78.8h0M412.2,99.0h0M420.2,102.2h0M435.2,89.7h0M426.8,88.2h0M427.9,94.6h0M420.2,89.1h0M411.5,94.1h0M413.6,87.6h0M427.1,105.5h0M417.7,92.1h0M439.1,89.8h0M416.2,83.9h0M428.3,86.4h0M405.3,83.9h0M422.8,89.4h0M426.0,98.3h0M427.8,77.2h0M405.5,74.1h0M425.1,93.1h0M416.0,83.6h0M440.7,96.4h0M418.2,83.1h0M425.3,73.2h0M424.5,106.1h0M429.8,90.0h0M418.9,87.5h0M425.8,80.0h0M431.5,75.4h0M428.0,91.3h0M430.0,81.4h0M420.0,92.5h0M433.4,94.3h0M423.8,81.3h0M414.8,93.8h0M409.0,94.4h0M424.6,97.1h0M415.6,93.1h0M419.0,92.6h0M416.7,82.9h0M429.5,105.9h0M427.8,92.6h0M428.7,98.0h0M422.1,87.8h0M424.2,72.3h0M421.5,76.8h0M423.7,106.8h0M428.3,83.2h0M426.8,99.0h0M416.7,95.9h0M435.0,100.0h0M420.0,85.6h0M428.7,89.5h0M424.8,109.4h0M437.2,99.8h0M419.4,101.0h0M426.4,76.4h0M428.5,94.8h0M428.0,74.0h0M406.2,79.4h0M414.9,89.0h0M422.6,106.7h0M416.1,75.1h0M425.9,99.5h0M438.2,87.0h0M410.7,74.6h0M433.7,91.4h0M420.4,75.3h0M406.9,94.5h0M422.8,103.7h0M418.4,73.2h0M417.6,98.0h0M417.3,106.4h0M419.5,95.7h0M435.0,93.5h0M421.3,93.1h0M412.9,80.8h0M418.4,82.4h0M418.0,88.1h0M416.8,88.1h0M426.9,75.0h0M426.1,77.5h0M426.3,91.9h0M429.3,102.1h0M431.8,98.6h0M411.9,97.5h0M424.3,106.0h0M412.6,84.5h0M431.9,92.0h0M416.6,78.0h0M437.7,93.4h0M424.0,92.0h0M416.3,101.5h0M414.5,103.9h0M436.8,95.4h0M415.0,89.7h0M434.6,87.7h0M413.8,89.6h0M433.0,78.6h0M423.5,110.9h0M421.1,78.8h0M423.6,106.5h0M429.7,85.1h0M433.5,97.9h0M431.9,102.6h0M404.6,78.1h0M411.5,74.7h0M414.2,73.0h0M418.4,91.5h0M427.0,73.6h0M419.6,106.2h0M424.8,85.0h0M414.2,75.4h0M422.7,82.7h0M419.2,108.1h0M428.7,77.1h0M409.9,84.7h0M417.9,91.6h0M419.2,104.4h0M419.0,77.2h0M413.5,101.3h0M406.5,84.9h0M418.4,104.6h0M430.4,96.2h0M420.3,97.5h0M430.6,77.0h0M416.4,80.9h0M428.3,104.2h0M434.1,90.9h0M413.7,91.2h0M415.2,97.4h0M410.6,89.2h0M426.7,78.6h0M421.7,109.1h0M420.4,72.8h0M407.6,90.8h0M424.7,94.0h0M416.3,76.8h0M419.9,107.1h0M418.3,81.5h0M434.4,97.4h0M412.4,98.2h0M423.3,90.7h0M432.0,76.2h0M426.2,97.9h0M408.1,92.0h0M408.0,98.3h0M425.2,81.4h0M412.2,92.3h0M404.9,82.3h0M421.3,109.8h0M434.9,84.9h0M426.1,90.2h0M430.2,99.9h0M425.3,80.1h0M415.3,75.2h0M417.1,74.9h0M411.2,83.3h0M421.4,82.7h0M418.0,83.9h0M418.7,79.5h0M428.6,75.8h0M437.7,96.9h0M421.2,90.7h0M428.5,102.3h0M415.9,79.1h0M423.4,76.8h0M427.7,73.5h0M439.3,99.2h0M407.5,82.6h0M428.2,98.9h0M426.5,98.6h0M437.5,101.7h0M415.7,77.1h0M428.6,84.1h0M417.2,106.5h0M418.7,93.3h0M411.2,91.1h0M426.7,86.3h0M414.6,99.9h0M409.5,100.7h0M417.0,73.5h0M412.4,74.8h0M436.7,90.2h0M427.3,79.6h0M409.2,99.7h0M419.2,95.7h0M411.8,111.0h0M408.1,109.5h0M413.9,109.4h0M420.4,111.4h0M411.2,110.5h0M418.4,115.9h0M417.7,115.7h0M412.7,117.8h0M422.8,116.6h0M418.9,113.8h0M419.9,109.4h0M412.0,119.8h0M412.8,114.2h0M419.6,115.7h0M413.6,109.7h0M417.8,132.1h0M422.9,134.0h0M421.5,130.7h0" stroke="#c88cce" stroke-width="1.2" stroke-linecap="round" fill="none"/>
<path d="M404.2,97.2h0M402.8,102.3h0M397.4,95.4h0M399.1,104.0h0M392.1,102.0h0M403.2,94.3h0M401.2,96.7h0M393.4,99.0h0M402.4,90.7h0M405.1,96.4h0M403.9,98.5h0M396.8,83.7h0M394.8,102.8h0M403.3,99.9h0M399.0,88.1h0M403.9,94.6h0M404.6,92.0h0M405.2,108.1h0M401.6,91.6h0M399.6,85.1h0M397.0,89.0h0M401.9,106.2h0M402.0,88.1h0M405.7,87.4h0M396.7,92.9h0M395.2,102.5h0M394.3,98.8h0M400.0,89.9h0M399.3,95.2h0M404.6,85.9h0M403.3,96.8h0M395.6,103.1h0M401.1,95.9h0M401.1,98.6h0M393.4,90.4h0M396.7,88.1h0M392.9,93.6h0M391.1,94.5h0M403.6,106.8h0M398.0,99.2h0M399.6,92.3h0M391.7,90.0h0M404.0,94.3h0M399.5,105.8h0M400.2,108.3h0M403.5,86.7h0M404.4,97.0h0M392.0,104.6h0M393.6,86.4h0M396.5,106.5h0M401.4,96.7h0M393.5,84.8h0M391.9,88.4h0M395.6,92.9h0M395.9,100.5h0M391.8,87.9h0M394.4,91.6h0M395.1,93.7h0M392.9,106.9h0M405.2,105.2h0M397.1,89.5h0M391.5,93.0h0M405.2,89.4h0M401.5,86.1h0M404.2,92.6h0M398.2,106.9h0M397.7,93.4h0M399.3,99.8h0M393.8,98.5h0M403.7,91.3h0M394.0,96.4h0M395.0,107.1h0M403.7,93.0h0M390.8,93.9h0M393.9,99.1h0M400.7,94.4h0M403.2,98.9h0M403.8,106.2h0M401.0,100.6h0M400.8,87.5h0M402.7,85.0h0M395.6,97.3h0M392.9,103.4h0M394.0,97.2h0M391.1,87.7h0M402.9,86.7h0M407.0,93.9h0M401.5,83.2h0M399.7,93.7h0M401.4,108.9h0M405.5,88.5h0M398.4,94.3h0M403.1,101.9h0M397.8,92.0h0M395.8,106.2h0M402.8,100.6h0M425.2,96.0h0M408.1,89.3h0M421.5,89.5h0M433.0,87.1h0M432.5,76.7h0M422.0,90.6h0M432.9,96.6h0M415.1,73.2h0M416.4,86.5h0M427.6,74.5h0M422.3,91.3h0M426.2,80.7h0M432.2,89.7h0M414.7,96.3h0M420.3,91.6h0M426.2,75.8h0M388.9,117.3h0M412.4,128.7h0M392.0,135.2h0M407.0,122.4h0M391.8,122.0h0M398.6,132.9h0M402.8,114.9h0M388.4,113.8h0M403.9,114.9h0M405.1,125.5h0M396.2,139.4h0" stroke="#d0cab8" stroke-width="1.2" stroke-linecap="round" fill="none"/>
<path d="M395.2,106.4h0M405.7,100.2h0M402.0,94.1h0M396.4,100.4h0M394.2,95.5h0M398.3,84.8h0M401.2,91.2h0M407.2,110.1h0M408.6,105.3h0M420.5,116.7h0M419.6,122.0h0M409.9,111.7h0M416.6,117.3h0M395.4,115.8h0M404.1,136.2h0M398.1,136.8h0M393.8,128.5h0M391.6,118.7h0M386.6,127.6h0M401.4,132.3h0M401.8,128.4h0M388.8,127.0h0M390.3,112.4h0M406.5,133.5h0M409.0,130.1h0M411.8,129.5h0M394.4,116.3h0M389.3,137.2h0M405.7,129.9h0M403.2,126.6h0M399.5,133.3h0M405.7,110.9h0M392.5,120.1h0M409.4,127.0h0M402.4,110.6h0M392.5,124.5h0M412.4,123.7h0M399.6,116.2h0M398.0,112.2h0M387.7,124.6h0M398.6,138.5h0M405.4,112.8h0M386.8,129.7h0M405.3,130.0h0M410.7,129.1h0M403.7,112.6h0M409.7,129.1h0M398.5,112.7h0M404.1,120.5h0M398.5,126.9h0M390.2,127.1h0M409.9,120.2h0M394.3,120.4h0M406.1,112.9h0M392.7,112.4h0M401.8,132.9h0M396.5,131.1h0M407.9,127.2h0M387.7,127.8h0M391.2,136.6h0M391.7,128.6h0M388.3,120.6h0M393.9,115.6h0M392.5,124.1h0M407.7,120.5h0M396.1,115.8h0M389.7,126.4h0M414.1,125.9h0M394.0,136.4h0M391.0,135.0h0M410.1,120.4h0M394.5,131.9h0M388.2,131.1h0M405.4,137.7h0M409.3,132.5h0M391.5,133.9h0M387.6,122.6h0M403.6,137.7h0M406.8,117.3h0M397.3,130.0h0M401.5,132.8h0M407.1,125.9h0M413.8,129.3h0M396.1,139.1h0M392.8,112.8h0M409.6,126.9h0M391.4,137.5h0M400.2,131.4h0M411.8,126.7h0M386.2,131.8h0M391.7,129.9h0M390.8,118.6h0M411.0,121.0h0M384.0,131.6h0M386.8,131.4h0M385.9,131.1h0M394.3,132.9h0M397.0,128.3h0M391.5,137.1h0M390.4,124.5h0M405.3,132.5h0M389.3,133.0h0M398.9,132.9h0M392.6,118.4h0M394.1,126.3h0M403.8,129.3h0M398.4,115.4h0M396.7,126.7h0M389.1,112.3h0M411.8,130.3h0M393.7,127.1h0M406.6,108.4h0M405.5,131.6h0M410.4,121.4h0M402.6,110.4h0M394.5,130.4h0M387.9,132.7h0M397.8,137.9h0M389.9,137.4h0M397.5,129.6h0M410.4,131.4h0M408.7,122.2h0M396.3,114.8h0M394.1,136.7h0M389.5,117.0h0M390.2,111.7h0M389.1,133.5h0M404.3,130.1h0M395.2,119.5h0M415.2,124.9h0M409.1,121.3h0M410.0,129.7h0M388.0,120.8h0M404.0,113.0h0M392.4,127.9h0M399.3,137.9h0M412.6,121.2h0M394.8,114.2h0M393.7,138.1h0M394.7,134.3h0M391.0,122.8h0M400.9,118.0h0M393.2,114.4h0M408.5,122.5h0M411.6,131.5h0M408.4,127.0h0M394.5,137.8h0M412.8,125.2h0M396.6,134.8h0M401.2,119.2h0M400.1,137.8h0M406.2,123.9h0M409.7,118.9h0M392.3,123.9h0M411.8,129.1h0M388.3,123.7h0M406.0,130.6h0M386.5,132.2h0M408.8,127.7h0M404.4,134.9h0M411.4,120.7h0M388.0,119.8h0M394.1,132.4h0M389.8,123.7h0M412.0,127.1h0M388.8,113.7h0M397.6,130.5h0M403.8,110.9h0M395.0,116.1h0M389.6,115.4h0M386.9,115.7h0M407.0,123.2h0M385.1,130.8h0M398.1,136.7h0M394.2,130.2h0M393.7,137.6h0M395.0,137.0h0M406.8,128.4h0M390.8,125.6h0M405.4,118.3h0M404.2,111.7h0M396.1,117.5h0M405.2,133.2h0M408.8,127.7h0M413.2,128.5h0M395.4,115.3h0M397.9,112.6h0M411.4,129.1h0M393.8,137.3h0M408.8,130.6h0M388.7,109.2h0M407.5,129.7h0M409.3,123.3h0M407.3,133.2h0M408.7,127.6h0M391.4,135.8h0M404.6,121.5h0M405.6,109.6h0M390.6,111.9h0M402.8,130.4h0M407.0,137.6h0M407.5,114.6h0M397.3,122.6h0M389.8,129.0h0M393.6,127.9h0M409.5,133.5h0M389.0,137.1h0M394.6,122.3h0M405.5,118.1h0M405.2,125.6h0" stroke="#22b0ba" stroke-width="1.2" stroke-linecap="round" fill="none"/>
<path d="M412.3,111.7h0M419.2,109.2h0M415.6,111.6h0M416.0,112.6h0M415.8,119.3h0M408.8,112.7h0M421.0,115.9h0M415.8,112.5h0M413.7,118.1h0M409.6,104.8h0M418.1,118.4h0M418.5,108.9h0M416.3,110.1h0M427.5,117.0h0M415.6,107.6h0M419.8,110.6h0M422.4,113.2h0M424.7,113.6h0M411.6,105.5h0M414.2,106.9h0M412.6,110.6h0M415.0,116.5h0M417.7,111.9h0M416.7,118.3h0M420.8,109.2h0M417.7,116.8h0M413.4,115.4h0M425.7,120.6h0M419.3,113.1h0M410.9,110.6h0" stroke="#a898c0" stroke-width="1.2" stroke-linecap="round" fill="none"/>
<path d="M387.5,130.7h0M392.3,131.9h0M400.8,137.4h0M403.7,137.6h0M405.8,135.4h0M399.1,133.7h0M399.9,136.2h0M386.4,131.4h0M399.6,137.6h0M386.6,135.0h0M400.1,136.0h0M390.7,132.4h0M386.5,131.6h0M399.5,138.8h0M400.9,134.4h0M398.0,133.4h0M405.0,136.9h0M394.6,135.4h0M395.7,132.8h0M396.7,133.7h0M397.2,136.7h0M388.0,131.7h0M393.0,134.2h0M397.7,139.0h0M410.5,133.9h0M403.2,134.4h0M408.4,135.7h0M399.6,133.9h0M385.8,130.6h0M408.4,134.4h0M388.7,132.4h0M396.5,136.3h0M394.4,137.1h0M388.5,132.4h0M401.4,135.8h0M402.0,133.8h0M398.1,134.5h0M396.6,133.8h0M392.8,134.5h0M400.4,134.6h0M402.5,133.0h0M391.4,131.8h0M389.4,135.5h0M405.9,136.4h0M394.2,134.5h0M393.2,137.7h0M397.3,134.6h0" stroke="#0e939c" stroke-width="1.2" stroke-linecap="round" fill="none"/>
<path d="M417.1,127.1h0M419.3,128.4h0M425.4,129.4h0M420.7,128.2h0M426.2,127.4h0" stroke="#b878c4" stroke-width="1.2" stroke-linecap="round" fill="none"/>
<path d="M438.0,118.4h0M434.5,130.6h0M443.1,122.0h0M440.1,117.4h0M443.0,126.9h0M441.8,121.3h0M437.1,117.8h0M442.0,125.5h0M440.4,135.1h0M433.5,116.4h0M434.0,135.7h0M438.0,114.8h0M436.4,110.6h0M439.3,133.7h0M436.6,120.2h0M437.1,127.2h0M441.2,130.0h0M435.4,125.8h0M442.0,123.6h0M437.0,116.6h0M441.8,115.0h0M435.5,108.2h0M436.1,122.8h0M441.9,130.4h0M442.3,134.2h0M441.8,117.0h0M435.0,109.2h0M441.0,131.7h0M437.9,125.7h0M436.3,110.3h0M438.8,124.9h0M442.4,131.1h0M438.0,127.3h0M441.0,129.6h0M440.4,120.9h0M435.0,107.4h0M436.2,125.8h0M438.0,129.2h0M439.0,123.8h0M441.3,123.4h0M442.5,125.0h0M445.2,123.2h0M435.5,126.7h0M441.7,116.7h0M437.8,136.9h0M439.4,116.4h0M431.2,127.7h0M431.3,131.1h0M441.4,127.2h0M437.2,110.1h0M435.2,134.4h0M432.4,121.0h0M434.4,129.1h0M438.0,137.6h0M433.2,120.3h0M439.6,120.8h0M437.9,115.7h0M430.7,123.9h0M434.3,123.7h0M435.7,126.7h0M430.7,121.9h0M444.2,134.7h0M433.3,109.1h0M432.5,112.3h0M437.8,137.1h0M436.7,134.8h0M438.1,110.4h0M433.7,120.7h0M438.9,115.1h0M438.2,131.1h0M444.3,127.3h0M441.0,125.6h0M437.1,135.0h0M438.6,111.0h0M437.0,119.7h0M434.8,114.4h0M440.8,133.8h0M430.1,116.2h0M433.3,130.7h0M435.4,136.5h0M433.8,107.8h0M432.0,119.0h0M436.6,119.4h0M436.6,106.6h0M433.1,114.8h0M440.2,118.1h0M442.6,121.0h0M430.5,122.3h0M438.3,109.2h0M439.7,113.2h0M438.1,105.0h0M436.2,111.4h0M437.2,120.4h0M435.1,130.0h0M437.9,131.4h0M439.5,113.6h0M433.9,114.0h0M434.6,125.8h0M432.4,133.8h0M438.8,136.9h0M431.6,121.2h0M434.3,120.1h0M434.4,120.5h0M440.1,131.6h0M443.3,128.4h0M440.8,131.3h0M436.3,124.4h0M440.4,122.1h0M436.1,110.6h0M434.5,117.8h0M433.8,107.0h0M438.5,123.1h0M436.3,118.7h0M431.9,117.2h0M434.1,122.1h0M444.0,133.3h0M436.2,122.3h0M432.6,129.5h0M441.3,111.4h0M435.6,110.7h0M434.8,122.6h0M433.0,132.9h0M432.0,110.8h0M435.3,128.4h0M436.9,117.9h0M437.2,118.8h0M435.4,128.2h0M440.7,124.0h0M434.9,112.8h0M431.2,124.4h0M438.1,113.7h0M440.8,116.0h0M431.6,129.5h0M433.1,134.6h0M439.6,112.6h0M444.5,124.1h0M445.4,131.7h0M443.1,133.5h0M438.1,118.9h0M431.6,121.0h0M440.4,138.6h0M438.1,118.6h0M443.7,119.6h0M438.1,135.1h0M434.5,124.5h0M432.9,122.7h0M431.0,120.2h0M436.3,123.2h0M430.5,116.4h0M445.3,132.9h0M433.2,134.6h0M431.5,116.4h0M444.5,128.4h0M440.9,118.7h0M442.2,134.0h0M444.9,130.1h0M430.8,125.0h0M441.8,134.9h0M435.9,130.2h0M436.2,106.2h0M434.4,134.1h0M437.3,128.2h0M444.3,128.7h0M436.9,129.1h0" stroke="#a4228a" stroke-width="1.2" stroke-linecap="round" fill="none"/>
<path d="M347.4,57.3h0M354.8,75.9h0M348.9,62.4h0M338.4,70.2h0M361.4,64.4h0M343.4,60.2h0M365.0,67.3h0M347.3,55.8h0M349.1,72.2h0M348.2,68.0h0M349.2,69.9h0M339.7,48.6h0M359.3,79.3h0M337.8,82.2h0M337.5,58.0h0M340.8,55.2h0M340.0,49.8h0M366.9,69.4h0M352.4,72.5h0M329.6,66.6h0M334.6,62.3h0M339.0,40.7h0M363.9,71.6h0M337.5,58.2h0M331.5,68.2h0M344.8,70.1h0M349.3,53.4h0M333.9,65.9h0M353.6,57.5h0M343.1,81.1h0M351.8,74.7h0M351.6,60.2h0M354.3,64.1h0M339.8,43.3h0M345.9,50.0h0M350.5,54.7h0M360.5,77.9h0M355.5,71.8h0M331.7,71.0h0M340.2,78.3h0M345.7,82.3h0M356.8,65.0h0M338.9,53.7h0M351.0,80.2h0M353.6,62.5h0M336.9,73.4h0M332.0,68.1h0M359.4,73.0h0M347.1,51.6h0M343.7,49.4h0M347.1,64.1h0M346.8,67.3h0M341.6,94.3h0M356.1,73.4h0M342.1,54.0h0M354.9,61.6h0M339.5,93.2h0M342.3,79.8h0M343.1,73.0h0M345.5,81.9h0M342.9,75.1h0M337.9,79.8h0M353.5,59.3h0M340.7,54.5h0M338.1,36.2h0M340.2,59.5h0M335.7,65.2h0M336.6,80.8h0M352.6,64.7h0M353.2,76.6h0M347.4,66.2h0M339.6,84.2h0M362.8,78.1h0M335.5,68.6h0M333.5,65.2h0M338.9,59.2h0M346.5,64.8h0M365.4,71.5h0M351.6,74.8h0M350.3,65.8h0M341.2,81.6h0M342.2,74.5h0M360.6,64.5h0M351.6,58.1h0M352.0,57.2h0M335.2,69.0h0M342.4,71.6h0M352.3,72.5h0M348.1,57.9h0M343.3,49.2h0M336.2,77.5h0M342.0,79.4h0M343.4,64.8h0M341.8,57.2h0M361.2,68.4h0M346.2,76.0h0M362.3,71.3h0M346.3,65.1h0M341.3,41.0h0M338.2,48.4h0M343.9,46.5h0M341.8,62.9h0M342.9,68.6h0M351.6,71.5h0M339.9,74.5h0M342.0,59.6h0M364.2,68.3h0M334.0,65.2h0M362.2,65.8h0M364.6,76.8h0M346.4,60.9h0M341.1,51.8h0M342.1,82.1h0M337.7,66.1h0M364.7,68.5h0M349.2,69.7h0M336.1,34.8h0M331.0,69.3h0M357.7,75.3h0M335.4,75.4h0M343.7,81.5h0M335.2,79.3h0M338.0,39.8h0M353.6,68.1h0M349.5,63.4h0M363.8,66.2h0M337.8,58.9h0M346.4,55.7h0M330.3,70.4h0M355.5,66.7h0M359.0,68.8h0M345.4,75.8h0M340.5,47.6h0M364.9,66.7h0M342.4,62.4h0M353.0,62.3h0M334.2,74.2h0M342.9,85.2h0M335.5,66.7h0M337.5,58.9h0M339.4,70.6h0M353.3,75.8h0M339.0,78.7h0M333.2,78.3h0M345.5,64.3h0M340.0,55.8h0M343.1,74.0h0M344.3,79.4h0M340.6,48.9h0M357.1,76.2h0M343.0,57.3h0M340.5,84.7h0M334.6,76.3h0M342.6,69.9h0M361.3,67.0h0M342.3,45.6h0M356.9,73.2h0M336.7,72.7h0M353.9,79.5h0M366.8,78.6h0M337.0,66.0h0M346.5,77.9h0M342.5,79.9h0M360.6,67.2h0M341.2,73.0h0M348.3,73.4h0M336.2,59.7h0M357.8,80.7h0M365.2,72.9h0M352.2,76.8h0M335.2,63.9h0M354.4,69.5h0M339.1,83.5h0M358.9,67.2h0M346.6,75.7h0M338.7,61.3h0M349.6,69.4h0M355.0,68.5h0M336.9,76.7h0M342.2,66.5h0M353.2,77.8h0M365.0,68.4h0M333.9,70.8h0M356.8,66.0h0M336.3,66.1h0M336.0,81.2h0M350.4,53.8h0M342.1,72.3h0M330.4,70.6h0M349.7,76.2h0M364.0,66.4h0M356.8,80.4h0M337.3,68.7h0M342.5,81.5h0M342.1,65.5h0M344.5,55.7h0M345.2,51.7h0M347.0,65.3h0M343.9,66.1h0M358.7,77.3h0M356.7,72.8h0M335.9,69.8h0M346.2,58.2h0M364.4,68.6h0M345.5,76.4h0M341.8,81.4h0M364.9,71.3h0M354.0,66.0h0M335.4,75.7h0M350.3,80.5h0M335.9,69.5h0M342.9,72.6h0M366.8,71.8h0M356.2,68.8h0M339.7,42.6h0M337.3,38.1h0M332.8,74.0h0M363.6,77.5h0M362.1,74.4h0M354.8,60.1h0M338.4,58.5h0M354.0,75.9h0M344.4,75.1h0M358.9,76.4h0M345.7,61.2h0M341.5,73.0h0M338.7,71.0h0M337.8,80.9h0M341.9,86.5h0M365.5,75.1h0M336.3,73.0h0M348.7,52.9h0M354.5,66.6h0M356.0,66.2h0M341.5,89.8h0M356.2,61.6h0M340.7,79.3h0M339.0,46.8h0M350.1,64.8h0M354.2,58.6h0M336.7,79.2h0M353.1,64.0h0M338.6,84.7h0M339.3,39.0h0M353.8,68.4h0M355.8,69.4h0M359.1,63.5h0M336.0,79.2h0M333.0,77.1h0M359.1,76.3h0M335.7,67.6h0M354.5,70.1h0M355.1,74.1h0M346.6,61.6h0M350.5,53.5h0M361.1,69.8h0M362.5,76.2h0M348.6,58.4h0M336.8,66.6h0M340.9,50.5h0M342.7,50.3h0M347.1,68.3h0M364.8,72.7h0M337.3,80.3h0M332.0,65.3h0M351.6,67.4h0M365.4,75.0h0M349.9,70.1h0M357.7,70.2h0M339.2,66.8h0M339.2,66.2h0M359.1,62.4h0M358.8,79.2h0M343.2,83.5h0M338.6,42.0h0M348.9,64.6h0M341.5,79.5h0M337.7,39.1h0M353.4,70.0h0M340.6,62.5h0M352.0,61.1h0M338.0,54.5h0M336.0,79.5h0M339.3,70.9h0M347.9,56.7h0M349.2,76.1h0M353.9,76.3h0M335.4,70.5h0M343.7,67.5h0M343.3,90.3h0M341.6,53.3h0M359.4,66.0h0M350.3,81.9h0M358.8,76.7h0M354.5,61.0h0M356.9,63.5h0M340.4,79.2h0M342.3,90.3h0M343.8,70.6h0M336.5,32.9h0M342.1,63.5h0M334.8,70.7h0M335.6,61.8h0M341.4,62.1h0M364.9,75.0h0M360.6,74.8h0M344.3,55.9h0M356.2,65.2h0M345.0,78.4h0M357.6,72.7h0M339.9,67.1h0" stroke="#e8382e" stroke-width="1.2" stroke-linecap="round" fill="none"/>
<path d="M384.0,23.5h0M382.5,23.2h0M399.5,28.2h0M397.7,27.3h0M402.2,19.2h0M392.1,25.5h0M404.5,21.7h0M392.4,17.2h0M386.0,19.8h0M402.2,30.0h0M392.2,27.3h0M387.9,30.8h0M396.5,14.8h0M395.5,21.1h0M391.0,27.6h0M383.6,23.0h0M402.6,18.6h0M402.7,20.6h0M402.0,28.3h0M400.3,17.8h0M391.4,17.9h0M402.8,26.6h0M404.8,22.8h0M398.6,20.4h0M385.9,28.4h0M390.2,22.7h0M384.2,28.9h0M394.3,15.5h0M392.9,18.6h0M382.8,25.4h0M396.8,20.5h0M405.7,19.3h0M394.6,26.4h0M382.6,27.6h0M387.0,24.8h0M397.3,21.7h0M403.3,28.2h0M385.0,21.7h0M407.7,19.4h0M393.9,29.7h0M386.5,20.4h0M401.3,16.6h0M396.3,22.9h0M405.1,29.2h0M395.6,22.6h0M398.2,24.4h0M402.8,21.9h0M401.7,21.8h0M395.3,23.2h0M383.3,23.1h0M404.3,22.9h0M403.1,19.5h0M406.5,24.8h0M392.8,20.2h0M403.6,22.7h0M392.7,17.1h0M406.7,23.4h0M390.1,24.9h0M389.6,24.6h0M387.4,26.8h0M386.5,24.3h0M398.3,25.0h0M404.3,24.4h0M404.2,24.2h0M390.9,21.8h0M390.5,16.4h0M404.7,23.6h0M394.2,27.3h0M385.9,24.6h0M387.9,25.0h0M408.8,21.6h0M405.5,29.4h0M394.5,29.2h0M396.9,25.6h0M398.0,25.8h0M387.2,26.2h0M392.0,20.6h0M402.3,29.6h0M407.5,29.9h0M385.8,23.3h0M403.7,17.9h0M403.3,17.4h0M400.0,19.8h0M407.7,29.6h0M387.4,18.3h0M389.9,26.3h0M385.5,24.7h0M385.8,26.2h0M393.2,19.6h0M383.0,28.1h0M394.5,21.7h0M392.3,24.5h0M397.8,18.7h0M398.8,27.9h0M404.9,23.4h0M396.7,29.7h0M394.3,22.6h0M397.0,16.4h0M390.3,29.6h0M398.8,28.6h0M404.3,23.2h0M394.6,18.3h0M387.4,27.3h0M384.0,23.4h0M386.3,18.2h0M400.9,19.9h0M408.7,22.6h0M396.8,27.4h0M392.2,17.6h0M394.8,24.3h0M391.3,15.7h0M390.1,24.2h0M389.3,28.4h0M389.2,24.6h0M400.7,22.1h0M394.3,29.2h0M408.8,27.3h0M400.8,26.3h0M398.9,24.2h0M396.3,28.6h0M389.0,15.6h0M404.2,20.4h0M407.4,26.0h0M397.9,18.7h0M399.5,19.4h0M403.9,30.2h0M408.5,20.7h0M388.5,21.2h0M388.7,22.1h0M388.8,25.7h0M402.5,15.8h0M399.2,29.6h0M408.0,26.8h0M387.9,24.4h0M407.0,21.4h0M393.4,21.0h0M402.0,19.7h0M394.5,30.7h0M387.8,16.9h0M385.8,22.8h0M392.1,24.4h0M390.4,16.9h0M409.0,28.9h0M406.0,24.8h0M404.7,31.4h0M383.8,18.5h0M394.9,25.5h0M398.0,15.7h0M389.8,18.1h0M402.4,17.7h0M408.0,28.3h0M407.3,28.7h0M386.3,27.6h0M393.9,25.7h0M391.0,31.2h0M396.9,23.3h0M404.2,23.2h0M395.2,28.1h0M405.7,24.8h0M386.5,18.0h0M385.2,20.0h0M399.9,15.7h0" stroke="#e2da24" stroke-width="1.2" stroke-linecap="round" fill="none"/>
<path d="M391.4,55.7h0M391.3,34.9h0M395.0,49.7h0M386.9,32.9h0M391.1,55.4h0M383.4,48.6h0M393.0,77.0h0M387.8,62.8h0M394.9,49.3h0M385.0,53.8h0M390.3,53.6h0M396.9,47.0h0M395.4,60.6h0M385.5,50.0h0M385.7,33.1h0M384.0,31.3h0M393.0,50.4h0M381.9,62.4h0M391.4,51.7h0M385.7,38.3h0M387.9,34.8h0M384.8,44.2h0M387.7,36.8h0M390.5,70.4h0M396.9,41.3h0M374.3,50.2h0M387.6,64.8h0M397.0,32.2h0M395.9,53.8h0M375.7,46.1h0M396.9,46.6h0M378.4,64.4h0M391.0,55.9h0M386.4,33.2h0M382.7,57.6h0M384.8,48.5h0M393.6,56.1h0M397.9,52.7h0M384.4,62.0h0M382.2,47.0h0M400.4,37.1h0M393.6,49.4h0M400.5,72.3h0M383.7,49.1h0M388.9,53.0h0M398.4,42.3h0M386.9,35.9h0M386.2,61.0h0M392.3,42.7h0M397.1,56.4h0M388.2,71.0h0M381.8,57.3h0M371.9,55.8h0M398.9,46.7h0M392.2,54.4h0M378.7,59.2h0M402.9,78.7h0M397.5,37.8h0M390.0,81.1h0M375.7,49.3h0M388.1,77.0h0M377.9,53.6h0M385.2,32.3h0M401.0,45.9h0M392.2,77.9h0M388.6,46.1h0M392.3,50.8h0M390.4,40.0h0M387.8,75.5h0M398.5,60.6h0M387.0,38.9h0M391.4,30.7h0M391.2,71.9h0M383.3,65.0h0M389.1,34.8h0M395.6,61.1h0M391.5,32.9h0M386.0,39.1h0M386.4,43.9h0M386.1,51.6h0M391.0,58.8h0M375.8,55.3h0M390.5,56.5h0M398.1,47.1h0M377.6,65.5h0M397.2,49.2h0M388.3,38.8h0M379.3,64.8h0M386.1,70.4h0M388.7,67.5h0M376.7,44.8h0M387.4,60.6h0M381.0,49.3h0M379.6,44.3h0M389.7,45.8h0M390.4,41.7h0M376.9,51.1h0M382.3,50.4h0M377.2,41.3h0M382.6,71.1h0M395.4,40.7h0M396.2,55.3h0M374.1,51.1h0M396.2,56.8h0M399.6,48.3h0M388.5,35.1h0M390.8,53.0h0M392.0,39.2h0M392.3,68.3h0M394.4,46.0h0M378.8,62.8h0M378.9,48.1h0M398.8,42.4h0M373.2,55.0h0M382.6,52.0h0M387.6,66.8h0M380.3,49.6h0M382.6,48.8h0M381.7,33.2h0M374.7,62.0h0M374.0,61.5h0M398.9,68.5h0M388.3,37.9h0M385.0,51.0h0M397.4,73.4h0M397.9,63.8h0M386.3,46.5h0M397.9,67.8h0M398.8,37.4h0M383.4,53.8h0M392.3,74.5h0M398.4,75.1h0M382.3,60.1h0M389.7,73.6h0M395.7,50.9h0M390.2,49.9h0M378.4,44.1h0M396.9,57.3h0M381.2,40.9h0M373.5,57.3h0M391.7,42.0h0M388.3,39.7h0M395.3,43.1h0M390.6,56.7h0M388.4,49.7h0M394.4,61.4h0M383.2,62.2h0M394.1,69.9h0M383.6,44.3h0M388.6,55.9h0M389.5,46.8h0M378.5,54.2h0M395.1,42.2h0M397.2,41.6h0M377.2,49.6h0M377.0,61.6h0M385.2,34.9h0M394.9,52.2h0M391.7,60.5h0M392.7,64.2h0M377.4,52.2h0M390.4,63.4h0M385.1,43.1h0M392.2,70.5h0M382.7,47.1h0M388.4,37.9h0M383.7,64.6h0M398.8,67.8h0M396.9,65.2h0M391.5,69.3h0M394.1,49.1h0M392.8,41.1h0M388.1,68.0h0M398.0,56.7h0M398.4,72.6h0M371.7,58.2h0M397.4,35.9h0M383.1,48.9h0M377.9,55.8h0M390.9,47.7h0M373.8,61.2h0M391.5,34.8h0M376.3,52.4h0M376.3,57.4h0M381.6,45.5h0M378.9,36.5h0M399.9,32.4h0M390.9,72.4h0M387.2,59.7h0M389.0,40.0h0M396.3,30.5h0M384.1,34.8h0M384.5,56.7h0M380.0,49.9h0M387.8,53.0h0M396.0,43.6h0M376.6,44.1h0M377.8,46.4h0M389.1,79.2h0M387.6,36.5h0M381.5,55.4h0M395.5,39.8h0M390.2,41.0h0M393.4,60.0h0M398.6,65.3h0M397.1,58.5h0M380.5,60.2h0M392.1,58.5h0M370.2,60.3h0M391.0,38.4h0M375.9,61.4h0M389.7,55.7h0M391.3,68.0h0M395.9,77.4h0M384.5,42.1h0M398.3,35.1h0M379.8,54.5h0M378.7,40.2h0M399.4,72.7h0M380.7,36.4h0M378.4,52.6h0M397.1,47.2h0M374.0,48.9h0M383.5,68.5h0M385.7,32.7h0M397.3,44.0h0M393.0,63.0h0M375.6,42.8h0M379.6,40.2h0M396.9,64.5h0M376.0,56.6h0M391.1,64.4h0M394.4,51.6h0M390.8,43.3h0M393.5,32.7h0M399.5,47.7h0M389.3,60.5h0M395.0,72.1h0M394.2,71.1h0M398.8,38.4h0M399.7,54.2h0M381.0,51.5h0M396.2,46.7h0M387.6,46.1h0M399.4,75.9h0M385.6,48.5h0M394.1,36.2h0M382.0,36.3h0M381.4,50.6h0M394.7,57.3h0M390.0,33.4h0M390.2,65.3h0M398.2,41.9h0M398.5,57.5h0M381.7,41.7h0M376.9,63.6h0M381.1,46.7h0M391.8,67.8h0M382.8,47.7h0M379.6,60.1h0M399.7,67.6h0M375.0,46.3h0M398.5,60.4h0M398.5,65.4h0M381.9,54.5h0M384.9,51.6h0M397.1,40.1h0M382.5,45.4h0M387.5,54.4h0M389.4,38.6h0M380.7,43.4h0M401.2,49.6h0M380.5,46.5h0M399.2,52.2h0M397.6,65.1h0M386.4,76.0h0M377.2,57.1h0M394.8,60.6h0M375.2,52.3h0M399.7,57.1h0M395.1,43.6h0M393.3,62.9h0M391.4,50.9h0M391.3,65.1h0M399.9,65.3h0M382.2,70.6h0M399.2,46.3h0M377.8,59.0h0M375.4,64.8h0M391.6,48.6h0M401.7,73.3h0M379.3,40.6h0M399.7,40.4h0M377.3,56.6h0M376.9,59.1h0M375.6,64.3h0M382.9,40.6h0M393.8,46.2h0M380.3,56.3h0M397.6,62.7h0M393.9,42.8h0M380.6,55.7h0M402.6,77.6h0M397.4,35.0h0M384.8,51.7h0M400.6,49.6h0M414.0,49.4h0M402.4,69.6h0M421.6,65.1h0M422.3,62.0h0M417.1,57.5h0M418.2,70.2h0M415.1,68.1h0M406.4,51.6h0M407.3,53.6h0M416.6,72.4h0M415.9,68.2h0M411.5,45.4h0M381.9,122.9h0M381.0,113.5h0M383.0,101.4h0M387.1,82.3h0M374.1,93.6h0M377.5,94.8h0M381.1,90.1h0M377.7,105.6h0M384.2,94.1h0M381.1,91.0h0M382.3,93.9h0M377.1,113.0h0M370.6,94.1h0M372.3,114.0h0M376.8,87.8h0M369.0,81.4h0M386.9,102.3h0M381.4,93.2h0M397.5,90.7h0M400.8,103.3h0M391.9,85.9h0M397.6,86.3h0M397.0,97.4h0M403.7,99.3h0M395.4,88.6h0M399.6,98.4h0M397.9,108.8h0M396.5,105.0h0" stroke="#ec9a96" stroke-width="1.2" stroke-linecap="round" fill="none"/>
<path d="M392.2,72.9h0M383.4,67.8h0M374.8,55.7h0M402.4,79.0h0M381.2,60.6h0M401.4,73.6h0M395.0,72.6h0M395.8,69.0h0M393.8,71.5h0M389.1,76.1h0M396.7,71.2h0M393.0,68.5h0M371.6,101.5h0M377.8,94.5h0M369.5,70.3h0M376.8,77.3h0M368.4,79.7h0M376.2,106.7h0M383.2,98.7h0M388.2,104.9h0M377.4,76.4h0M369.0,76.8h0M378.6,72.1h0M377.7,88.2h0M374.5,69.4h0M383.1,81.2h0M372.2,101.5h0M385.9,121.7h0M380.6,71.6h0M371.1,101.1h0M385.0,92.6h0M373.8,93.1h0M389.0,93.8h0M386.5,83.2h0M380.0,76.0h0M385.1,123.4h0M373.5,107.0h0M381.4,72.8h0M376.3,100.5h0M382.8,95.5h0M366.5,67.1h0M381.4,102.6h0M384.9,90.8h0M381.7,109.6h0M388.3,96.6h0M377.4,123.0h0M388.9,105.9h0M386.7,79.7h0M385.7,82.0h0M373.7,78.0h0M378.8,117.6h0M382.1,86.3h0M373.1,97.8h0M384.7,110.2h0M381.3,93.4h0M372.4,85.1h0M379.7,86.6h0M371.0,74.0h0M388.8,85.9h0M371.0,77.6h0M374.9,121.4h0M384.0,120.4h0M380.0,83.5h0M371.9,103.2h0M383.2,86.1h0M371.2,109.2h0M381.5,104.1h0M373.5,85.9h0M382.0,89.7h0M375.7,75.9h0M379.6,71.3h0M375.7,117.8h0M378.4,78.8h0M381.3,111.4h0M381.3,84.8h0M384.7,104.5h0M387.5,97.7h0M384.7,122.7h0M385.7,106.0h0M373.1,76.0h0M371.4,69.3h0M386.7,100.5h0M382.6,76.0h0M372.1,113.7h0M372.5,96.5h0M379.5,118.6h0M374.8,105.6h0M386.0,81.1h0M387.4,105.9h0M378.8,119.3h0M380.1,126.3h0M385.6,124.2h0M380.2,74.4h0M373.8,114.7h0M376.6,79.7h0M386.1,103.3h0M370.9,104.6h0M387.9,99.2h0M384.9,94.6h0M388.7,111.0h0M376.5,102.1h0M386.1,118.7h0M386.4,88.2h0M376.5,67.3h0M386.6,121.0h0M376.1,126.1h0M387.0,99.5h0M370.7,79.1h0M376.0,77.2h0M371.4,79.3h0M383.3,113.7h0M371.7,82.4h0M370.3,77.4h0M370.9,69.4h0M380.7,71.9h0M371.9,110.1h0M377.8,121.7h0M369.4,104.0h0M375.3,87.2h0M386.2,116.5h0M366.5,70.5h0M368.6,70.7h0M382.5,114.7h0M387.2,96.7h0M376.5,85.0h0M378.5,116.2h0M382.7,102.2h0M374.5,85.4h0M383.9,118.2h0M383.6,114.4h0M386.3,93.2h0M370.8,71.3h0M379.2,80.4h0M377.0,113.8h0M380.2,101.2h0M371.9,71.2h0M368.8,73.4h0M388.1,104.3h0M388.2,96.1h0M372.3,67.5h0M375.5,100.1h0M376.9,117.5h0M373.0,79.6h0M375.1,83.6h0M383.9,97.3h0M374.6,99.7h0M370.2,88.1h0M379.8,108.7h0M382.8,79.0h0M379.3,122.6h0M380.1,119.0h0M380.2,76.0h0M375.1,89.6h0M382.3,73.1h0M383.6,96.8h0M379.6,82.1h0M382.5,85.3h0M377.7,99.0h0M387.2,120.3h0M371.3,98.3h0M375.9,116.6h0M373.7,66.9h0M370.2,78.8h0M368.5,79.7h0M381.2,92.5h0M375.1,100.1h0M384.0,96.3h0M381.8,123.5h0M369.4,84.4h0M368.8,87.1h0M380.3,100.1h0M383.7,107.8h0M382.6,87.1h0M385.3,116.6h0M378.1,73.5h0M386.2,104.0h0M384.0,84.2h0M378.6,121.3h0M372.3,86.8h0M384.9,122.7h0M387.4,97.4h0M380.9,114.8h0M372.9,111.5h0M386.5,115.2h0M388.4,81.6h0M376.9,97.9h0M375.0,88.2h0M379.5,68.6h0M380.4,104.0h0M386.0,77.6h0M378.1,78.3h0M377.9,77.0h0M379.1,77.1h0M380.0,75.1h0M374.1,118.5h0M371.9,69.9h0M388.3,106.3h0M383.2,86.6h0M372.6,93.7h0M374.5,86.7h0M388.6,93.3h0M383.9,81.8h0M377.5,125.4h0M373.4,83.4h0M377.9,124.9h0M376.5,73.4h0M373.1,93.3h0M384.3,99.5h0M374.4,88.6h0M385.0,114.0h0M384.7,108.4h0M376.0,95.5h0M388.6,99.8h0M371.4,106.7h0M379.6,77.3h0M377.3,108.5h0M386.9,76.2h0M370.2,108.1h0M369.6,92.0h0M372.7,76.4h0M382.2,121.3h0M388.7,85.1h0M381.0,100.1h0M377.3,75.1h0M376.7,126.7h0M386.7,117.1h0M370.9,99.8h0M376.7,105.0h0M377.0,101.9h0M373.2,120.4h0M379.5,118.9h0M378.4,108.4h0M378.5,88.4h0M378.8,122.2h0M378.2,108.4h0M377.0,118.8h0M372.7,83.0h0M369.4,86.1h0M370.7,95.8h0M375.1,110.3h0M380.2,68.2h0M385.0,92.4h0M380.4,101.9h0M382.4,94.0h0M383.0,91.5h0M378.1,88.4h0M368.6,87.0h0M383.8,87.4h0M383.0,124.2h0M385.0,81.2h0M378.9,111.8h0M381.4,85.4h0M373.8,103.8h0M380.4,117.2h0M381.0,73.8h0M389.0,82.7h0M377.0,72.3h0M374.9,125.5h0M368.7,85.8h0M374.5,104.3h0M373.5,71.1h0M371.4,86.7h0M372.2,86.5h0M369.5,84.6h0M379.5,76.0h0M381.8,92.3h0M386.8,100.4h0M382.8,76.1h0M374.7,116.4h0M377.8,108.1h0M377.6,118.5h0M387.9,109.2h0M378.4,99.5h0M370.6,105.1h0M387.8,90.0h0M380.2,77.8h0M367.7,77.2h0M372.4,105.3h0M380.4,72.1h0M379.5,117.0h0M373.2,73.2h0M388.2,112.2h0M382.5,94.6h0M381.4,74.6h0M378.7,70.6h0M381.5,106.1h0M388.0,97.7h0M373.0,89.4h0M373.2,83.1h0M382.6,115.0h0M381.1,72.3h0M373.8,114.1h0M375.4,116.3h0M369.9,72.0h0M373.0,112.2h0M369.9,85.3h0M388.3,85.1h0M381.2,106.3h0M379.9,115.1h0M375.5,85.6h0M384.3,93.4h0M373.8,76.5h0M383.8,78.7h0M373.4,110.5h0M387.7,106.3h0M375.6,90.8h0M385.0,77.9h0M373.4,104.5h0M374.1,93.8h0M385.9,81.2h0M385.9,87.0h0M384.2,119.1h0M378.5,96.7h0M379.4,122.5h0M382.2,101.2h0M378.9,125.2h0M370.8,92.0h0M373.2,78.4h0M387.0,118.3h0M384.1,74.2h0M381.6,94.7h0M384.4,76.3h0M379.3,102.2h0M371.9,96.2h0M371.3,101.9h0M375.3,86.7h0M378.2,102.9h0M369.4,74.8h0M379.5,77.8h0M382.5,109.7h0M381.0,85.1h0M375.7,109.2h0M377.8,81.8h0M365.1,65.8h0M370.1,57.6h0" stroke="#4e46b0" stroke-width="1.2" stroke-linecap="round" fill="none"/>
<path d="M392.3,41.9h0M393.5,75.1h0M394.1,49.4h0M391.9,70.6h0M395.1,34.5h0M389.6,72.4h0M380.4,35.3h0M396.5,67.6h0M399.4,80.3h0M386.7,49.5h0M395.3,60.4h0M384.8,68.4h0M393.1,41.4h0M385.4,66.2h0M384.3,62.8h0M381.5,37.0h0M396.6,65.4h0M390.3,79.8h0M385.8,33.5h0M422.0,69.9h0M403.6,74.8h0M416.7,71.2h0M412.1,44.2h0M415.4,35.0h0M412.2,71.9h0M415.7,54.6h0M415.5,70.1h0M404.1,58.7h0M405.1,31.9h0M418.2,62.9h0M411.1,35.6h0M404.6,60.1h0M414.6,51.5h0M423.4,69.3h0M414.4,51.4h0M409.4,61.1h0M422.6,69.3h0M424.1,70.5h0M411.3,67.8h0M414.1,40.3h0M413.2,63.1h0M420.9,68.8h0M413.4,64.1h0M421.9,65.9h0M412.6,69.9h0M406.9,61.8h0M400.6,44.9h0M421.8,57.6h0M420.6,57.2h0M419.3,63.8h0M401.6,65.9h0M421.6,52.6h0M402.6,31.3h0M416.6,63.4h0M415.3,57.7h0M405.9,60.2h0M404.3,57.3h0M402.1,52.9h0M419.2,55.5h0M406.9,53.8h0M417.3,42.1h0M422.5,73.4h0M402.4,55.8h0M414.9,43.1h0M402.1,72.1h0M417.4,45.6h0M407.7,34.5h0M414.2,48.8h0M403.6,36.5h0M406.1,72.9h0M409.5,44.4h0M423.6,71.6h0M416.0,66.8h0M404.4,38.4h0M414.6,36.2h0M422.8,52.5h0M422.7,61.3h0M410.6,73.0h0M411.9,54.3h0M419.5,66.2h0M410.8,36.9h0M414.8,47.1h0M403.4,37.3h0M422.8,56.4h0M408.3,48.0h0M402.2,45.5h0M417.4,46.5h0M421.3,53.1h0M403.9,55.5h0M410.9,52.1h0M409.0,39.8h0M408.9,57.8h0M420.3,53.6h0M416.7,63.8h0M404.7,39.6h0M402.8,31.5h0M410.9,63.0h0M423.7,70.0h0M406.2,37.1h0M406.5,61.9h0M413.0,59.3h0M423.6,57.1h0M409.7,41.2h0M413.5,71.0h0M411.3,34.1h0M420.1,47.8h0M411.8,36.3h0M418.7,69.8h0M420.4,52.5h0M408.3,30.8h0M418.7,42.6h0M404.9,41.9h0M404.7,59.7h0M401.4,59.2h0M407.2,47.8h0M409.8,61.5h0M409.3,36.4h0M412.4,70.3h0M419.4,45.2h0M422.5,63.2h0M417.5,59.8h0M402.5,63.9h0M405.9,44.0h0M413.7,57.2h0M418.6,66.5h0M408.6,33.5h0M413.0,62.2h0M410.5,32.0h0M407.8,37.3h0M411.7,46.2h0M407.7,70.2h0M409.1,35.6h0M409.3,53.7h0M403.1,43.1h0M409.6,47.6h0M405.5,49.4h0M416.0,56.7h0M410.6,34.4h0M416.2,47.4h0M409.2,63.7h0M402.4,67.0h0M410.3,52.9h0M401.5,33.7h0M411.8,48.1h0M409.2,72.0h0M418.6,62.3h0M407.9,47.9h0M402.0,59.6h0M417.8,58.9h0M408.1,54.9h0M401.2,31.1h0M411.7,35.1h0M401.6,39.4h0M412.2,56.7h0M408.5,44.5h0M415.7,70.6h0M410.9,35.5h0M414.8,52.9h0M424.0,62.5h0M402.6,55.3h0M414.6,48.7h0M402.5,70.7h0M423.0,61.2h0M409.7,57.6h0M408.8,41.9h0M416.8,70.5h0M412.9,67.5h0M404.5,34.0h0M407.7,53.7h0M407.2,63.5h0M404.6,68.2h0M416.1,55.3h0M425.8,59.8h0M410.2,50.1h0M407.1,62.7h0M411.1,68.5h0M403.2,37.2h0M405.6,39.8h0M404.9,71.0h0M404.7,59.5h0M409.8,51.8h0M410.1,45.6h0M411.1,46.8h0M406.1,57.5h0M414.6,46.0h0M417.0,45.3h0M413.8,69.1h0M406.8,63.5h0M404.3,55.4h0M410.8,68.1h0M421.5,70.8h0M403.5,35.3h0M405.4,44.0h0M415.7,37.2h0M424.5,71.3h0M407.5,52.2h0M415.3,51.5h0M415.0,59.7h0M405.8,40.0h0M410.5,53.3h0M412.9,57.2h0M407.3,69.3h0M404.5,53.2h0M405.6,60.1h0M409.0,64.0h0M414.4,39.5h0M412.2,50.6h0M419.7,63.6h0M403.0,60.1h0M415.0,40.6h0M404.3,46.5h0M417.0,69.1h0M410.2,46.8h0M418.5,41.1h0M411.9,57.1h0M416.1,66.7h0M406.6,52.3h0M400.6,32.7h0M409.4,41.1h0M405.0,65.8h0M420.1,70.7h0M405.1,48.6h0M409.4,54.8h0M408.4,38.5h0M409.7,49.5h0M414.5,70.3h0M416.2,50.9h0M401.1,52.2h0M415.1,59.7h0M411.5,44.1h0M409.7,54.6h0M419.2,70.7h0M410.6,66.2h0M407.0,40.6h0M400.7,41.5h0M402.4,39.9h0M402.2,64.0h0M420.7,59.2h0M416.0,55.0h0M418.2,72.3h0M420.2,71.7h0M402.1,50.8h0M398.7,32.1h0M415.2,50.0h0M425.4,57.9h0M403.5,50.1h0M403.9,62.9h0M403.6,65.1h0M404.4,65.3h0M414.2,40.9h0M415.7,67.1h0M409.1,34.7h0M409.0,32.3h0M413.4,64.5h0M408.6,50.6h0M416.3,40.4h0M403.1,49.5h0M411.4,46.5h0M422.6,69.4h0M425.0,58.5h0M415.9,59.6h0M426.2,63.5h0M413.9,52.4h0M409.0,34.8h0M401.8,66.3h0M411.9,62.5h0M417.3,52.1h0M406.7,59.6h0M410.2,39.9h0M417.2,91.6h0M425.9,109.4h0M413.9,89.3h0M418.8,89.0h0M412.2,89.8h0M421.9,93.0h0M414.9,86.6h0M407.4,88.3h0M418.5,78.1h0M419.6,84.6h0M417.3,103.6h0M430.4,99.6h0M408.6,85.0h0M429.5,78.4h0M432.8,90.2h0M417.7,78.8h0M435.5,85.8h0M363.8,57.5h0M374.6,65.6h0M362.5,64.7h0M359.5,56.9h0M367.0,62.7h0M363.6,58.5h0M363.1,56.1h0M369.7,61.5h0M373.9,63.1h0M368.0,57.3h0M367.2,55.8h0" stroke="#84bce4" stroke-width="1.2" stroke-linecap="round" fill="none"/>
<path d="M403.1,52.5h0M421.3,54.1h0M408.1,59.6h0M416.2,64.4h0M408.5,52.4h0M416.6,60.6h0M416.7,44.0h0M418.8,61.2h0M416.9,44.3h0M413.6,66.8h0M407.6,49.0h0M419.9,98.2h0M408.6,94.4h0M407.8,83.6h0M413.7,89.7h0M430.3,76.6h0M436.7,90.4h0M434.2,102.0h0M408.9,96.4h0M432.4,79.1h0M419.0,96.9h0M421.9,96.6h0M424.0,104.4h0M409.6,93.8h0M424.6,103.5h0M418.0,107.9h0M415.5,96.6h0M433.9,79.0h0M409.4,91.7h0M435.2,95.2h0M410.8,76.5h0M416.1,96.7h0M412.9,77.3h0M424.3,92.2h0M418.0,83.9h0M411.4,99.6h0M412.8,92.5h0M428.4,97.5h0M415.9,102.2h0M432.8,108.5h0M425.5,103.3h0M422.6,93.4h0M436.3,96.4h0M428.3,99.2h0M422.0,85.5h0M412.0,74.0h0M416.8,79.3h0M432.6,104.4h0M427.1,84.8h0M425.7,73.6h0M426.8,87.5h0M417.7,85.3h0M414.4,99.3h0M421.5,103.4h0M431.2,90.6h0M413.4,102.1h0M429.9,95.5h0M427.1,81.0h0M419.9,94.6h0M418.3,92.2h0M425.2,75.9h0M435.4,103.0h0M409.1,81.0h0M407.3,78.7h0M421.0,100.4h0M429.0,107.1h0M427.2,97.3h0M434.4,87.8h0M427.6,90.6h0M435.5,104.5h0M440.5,92.1h0M433.0,89.8h0M405.8,92.8h0M426.5,108.5h0M424.3,95.2h0M420.7,92.6h0M424.9,76.1h0M424.3,109.6h0M439.4,90.5h0M424.4,74.9h0M426.9,104.7h0M426.1,98.8h0M436.9,90.0h0M415.4,103.2h0M419.9,77.1h0M427.1,108.5h0M410.8,80.2h0M430.9,80.3h0M438.2,93.2h0M429.3,97.8h0M427.5,101.5h0M428.3,99.2h0M424.8,94.8h0M421.8,77.3h0M426.2,109.3h0M430.1,98.2h0M421.0,89.0h0M433.0,75.8h0M435.6,82.0h0M416.5,95.5h0M423.1,78.6h0M439.1,87.8h0M424.1,93.3h0M433.1,92.6h0M429.3,103.8h0M429.7,97.8h0M425.6,109.2h0M430.2,107.0h0M421.4,79.2h0M425.9,87.5h0M425.8,89.2h0M418.7,84.2h0M417.5,74.9h0M427.7,77.1h0M425.8,109.4h0M430.8,80.9h0M417.9,106.9h0M413.4,92.1h0M418.3,81.6h0M411.7,76.5h0M433.9,92.9h0M431.6,108.8h0M407.7,96.0h0M430.0,104.5h0M407.7,88.9h0M420.0,87.8h0M417.0,74.5h0M424.7,96.6h0M413.9,75.3h0M423.0,102.3h0M438.6,90.0h0M438.0,93.2h0M426.9,96.8h0M428.1,100.0h0M421.2,83.7h0M418.0,77.0h0M429.7,96.7h0M437.5,100.2h0M409.6,99.4h0M424.6,105.9h0M415.0,85.1h0M421.2,108.1h0M434.9,101.7h0M414.0,90.2h0M422.7,101.9h0M429.7,104.2h0M426.6,73.4h0M407.0,84.7h0M414.5,85.2h0M422.5,74.9h0M425.8,106.7h0M406.7,76.7h0M437.5,91.4h0M431.2,81.2h0M412.1,89.6h0M418.0,87.4h0M423.6,108.5h0M436.1,105.9h0M418.9,93.8h0M425.3,103.2h0M426.0,73.7h0M427.9,107.7h0M430.9,98.3h0M434.6,90.3h0M425.8,81.9h0M428.8,99.5h0M431.7,79.1h0M419.1,74.0h0M424.8,71.0h0M422.8,102.3h0M412.7,93.8h0M424.7,110.9h0M431.5,107.0h0M433.6,103.6h0M411.6,90.1h0M422.4,105.1h0M426.3,77.1h0M424.2,101.7h0M414.9,81.6h0M431.4,109.4h0M413.1,87.3h0M428.2,102.2h0M436.7,101.6h0M435.9,80.2h0M419.1,80.1h0M431.9,98.6h0M408.4,93.0h0M433.4,80.1h0M420.1,77.8h0M412.7,91.5h0M408.2,97.2h0M429.0,75.5h0M420.0,104.5h0M435.8,82.5h0M411.4,97.5h0M406.1,75.0h0M433.1,80.9h0M409.7,93.0h0M425.2,103.3h0M418.4,84.4h0M409.6,83.2h0M409.4,85.1h0M414.6,103.4h0M423.1,102.5h0M418.9,106.6h0M423.9,79.1h0M419.3,92.9h0M415.1,86.0h0M437.1,88.2h0M425.5,108.5h0M437.4,90.4h0M434.5,77.1h0M418.1,79.2h0M414.2,82.7h0M428.4,74.0h0M419.9,107.4h0M417.7,99.6h0M430.9,100.0h0M431.7,98.1h0M427.4,87.7h0M412.8,83.4h0M421.4,88.0h0M417.7,88.2h0M435.1,90.8h0M426.0,77.1h0M434.5,96.6h0M432.4,101.0h0M415.4,103.6h0M426.9,76.9h0M429.2,82.0h0M419.8,73.3h0M429.3,94.2h0M417.4,92.3h0M437.6,82.7h0M431.3,102.0h0M429.6,79.3h0M416.8,86.0h0M424.0,105.1h0M431.8,92.9h0M419.8,105.0h0M422.8,89.6h0M416.5,73.5h0M432.7,100.9h0M416.8,99.0h0M417.4,75.9h0M408.7,98.0h0M434.5,105.5h0M435.4,101.7h0M431.2,87.5h0M414.3,99.5h0M438.5,88.1h0M437.7,90.9h0M426.0,72.9h0M409.0,83.6h0M419.9,93.0h0M427.6,83.6h0M431.6,105.6h0M431.0,83.2h0M411.7,97.4h0M426.3,79.2h0M433.7,77.5h0M437.7,101.1h0M409.1,95.5h0M429.9,101.1h0M416.1,93.3h0M428.5,86.4h0M425.3,100.3h0M436.0,98.2h0M421.0,95.4h0M412.0,88.0h0M427.5,95.5h0M429.9,78.2h0M428.0,77.7h0M419.9,108.1h0M430.9,85.1h0M427.2,110.5h0M430.6,86.8h0M406.1,85.9h0M429.6,82.4h0M411.2,72.9h0M412.9,90.9h0M411.1,83.5h0M436.4,84.2h0M419.8,85.0h0M430.6,89.7h0M429.9,81.7h0M421.8,93.1h0M429.0,86.7h0M413.3,81.6h0M438.1,89.2h0M414.6,72.6h0M437.1,99.3h0M416.3,98.0h0M416.2,88.7h0M408.9,98.3h0M428.8,104.9h0M426.0,112.2h0M420.7,88.5h0M428.2,105.6h0M437.6,83.4h0M421.4,104.2h0M416.0,79.9h0M439.2,91.9h0M432.2,98.7h0M439.0,88.4h0M410.6,101.4h0M420.8,102.2h0M435.7,87.8h0M409.3,88.5h0M428.1,87.8h0M404.5,80.4h0M428.8,85.5h0M410.8,85.4h0M409.9,87.0h0M419.8,106.5h0M408.9,86.9h0M419.0,108.0h0M429.4,83.0h0M428.7,108.8h0M419.3,96.1h0M425.6,107.5h0M429.1,90.6h0M411.6,93.1h0M428.0,108.1h0M434.1,91.1h0M406.1,81.8h0M418.9,90.8h0M421.3,119.3h0M418.7,115.5h0M422.0,121.4h0M410.1,112.6h0M418.4,116.9h0M411.3,104.8h0M408.2,114.3h0M406.8,109.5h0M412.4,112.8h0M411.5,112.1h0M424.8,115.0h0M418.4,118.7h0M414.0,104.9h0M410.9,106.3h0M413.8,118.1h0M411.8,109.2h0M417.0,121.5h0M415.2,119.4h0M422.0,111.0h0M423.1,113.6h0M420.4,111.3h0M424.6,130.7h0M420.0,131.5h0" stroke="#c88cce" stroke-width="1.2" stroke-linecap="round" fill="none"/>
<path d="M399.0,83.9h0M399.3,86.2h0M398.7,106.0h0M406.7,103.3h0M394.9,103.2h0M397.1,88.2h0M404.5,97.9h0M397.8,102.1h0M400.7,105.9h0M392.2,90.4h0M395.4,86.8h0M399.9,106.8h0M404.5,88.9h0M391.5,94.8h0M403.7,91.2h0M393.6,107.1h0M403.9,89.2h0M393.3,100.7h0M399.5,85.8h0M400.4,101.0h0M401.6,81.8h0M397.1,106.7h0M403.3,101.1h0M396.3,101.4h0M397.8,84.7h0M405.7,93.5h0M406.2,96.2h0M406.9,98.0h0M399.3,96.4h0M402.2,98.6h0M403.6,98.6h0M391.1,89.1h0M403.4,109.6h0M401.2,99.7h0M407.3,98.9h0M397.3,82.9h0M393.2,88.9h0M401.5,101.2h0M402.6,94.9h0M401.6,102.7h0M395.4,99.5h0M396.4,92.1h0M393.8,98.1h0M399.8,108.3h0M395.2,87.8h0M401.6,82.4h0M404.7,103.2h0M402.2,101.3h0M401.7,100.5h0M396.0,96.3h0M400.1,86.8h0M394.2,108.3h0M400.7,83.7h0M401.4,89.7h0M392.9,101.5h0M402.0,89.6h0M395.4,109.5h0M400.9,82.2h0M401.2,96.7h0M402.7,101.0h0M400.7,105.3h0M392.7,102.0h0M397.1,110.0h0M394.5,102.3h0M399.0,104.0h0M403.3,107.5h0M400.2,86.4h0M396.0,82.9h0M397.6,95.3h0M406.4,99.7h0M404.0,99.1h0M400.5,95.7h0M392.8,94.3h0M401.8,108.6h0M403.3,108.4h0M394.7,93.3h0M394.7,92.3h0M392.7,92.6h0M398.8,104.1h0M401.3,102.2h0M402.9,84.7h0M393.0,102.5h0M392.9,96.1h0M402.8,100.0h0M403.0,109.8h0M397.4,84.4h0M392.1,87.9h0M393.3,104.5h0M403.6,82.9h0M402.8,108.1h0M391.4,89.2h0M399.3,99.2h0M400.8,88.2h0M400.0,102.1h0M395.1,106.9h0M401.5,102.5h0M400.0,90.8h0M393.1,95.2h0M398.7,87.0h0M403.3,85.8h0M394.0,88.0h0M404.2,90.9h0M399.1,93.1h0M404.4,98.7h0M400.4,101.7h0M400.0,90.4h0M396.2,92.2h0M396.0,93.6h0M403.6,91.9h0M402.9,107.0h0M401.1,86.2h0M393.3,99.4h0M397.5,97.9h0M434.4,102.4h0M429.0,83.7h0M421.9,81.2h0M425.9,87.8h0M434.0,92.6h0M405.2,80.7h0M408.7,77.0h0M426.3,107.4h0M388.2,115.0h0M402.9,135.5h0M406.4,111.0h0M407.7,128.2h0M405.1,126.2h0M405.3,125.5h0M404.8,121.7h0M402.8,129.2h0M405.4,109.5h0M404.7,129.7h0M387.0,134.8h0M393.6,138.5h0" stroke="#d0cab8" stroke-width="1.2" stroke-linecap="round" fill="none"/>
<path d="M393.7,108.5h0M402.4,98.6h0M390.7,91.7h0M403.2,106.3h0M420.3,117.0h0M412.8,111.6h0M415.8,106.1h0M416.2,116.8h0M417.4,108.7h0M421.6,121.7h0M412.8,111.4h0M414.1,119.7h0M389.8,116.9h0M400.3,129.4h0M398.5,134.4h0M406.1,113.6h0M408.4,120.0h0M409.8,129.5h0M404.7,122.3h0M391.0,112.3h0M409.8,134.9h0M411.8,123.0h0M397.1,128.0h0M389.7,114.8h0M407.5,131.1h0M412.0,119.6h0M391.1,126.5h0M405.5,136.3h0M399.4,134.3h0M414.2,127.6h0M393.7,137.5h0M392.9,133.5h0M388.4,127.6h0M394.8,113.4h0M410.1,133.5h0M389.2,119.8h0M412.0,130.3h0M404.6,122.2h0M389.5,121.6h0M409.5,126.4h0M391.1,120.9h0M387.8,118.5h0M392.5,117.4h0M392.7,124.5h0M395.7,115.2h0M399.3,115.5h0M395.5,110.4h0M405.3,112.4h0M405.2,136.0h0M405.3,117.8h0M402.5,122.3h0M406.4,126.1h0M413.7,123.0h0M410.7,126.8h0M392.2,130.8h0M401.7,133.9h0M416.4,127.8h0M396.8,113.9h0M389.2,118.6h0M409.0,117.2h0M404.0,138.1h0M397.3,115.0h0M405.9,129.7h0M392.9,136.7h0M388.6,130.5h0M414.1,125.8h0M387.7,127.5h0M392.7,122.9h0M389.9,120.4h0M402.9,129.6h0M394.8,122.5h0M404.9,114.1h0M401.7,110.4h0M388.3,135.6h0M389.7,115.2h0M402.7,123.5h0M389.7,127.6h0M401.4,119.7h0M393.2,117.1h0M407.0,120.4h0M408.7,118.3h0M410.1,130.4h0M390.0,114.1h0M388.0,124.7h0M397.0,113.8h0M391.7,133.9h0M401.8,112.9h0M405.3,121.8h0M392.4,134.3h0M399.3,131.4h0M396.8,134.0h0M390.4,126.8h0M397.1,138.9h0M407.1,136.1h0M403.5,114.4h0M404.7,122.0h0M387.7,122.5h0M385.3,129.9h0M400.6,114.7h0M388.8,130.8h0M395.0,126.9h0M408.0,124.3h0M383.3,129.9h0M392.9,136.7h0M410.4,124.6h0M402.3,111.9h0M386.8,129.9h0M407.0,112.2h0M399.1,115.5h0M394.0,138.6h0M391.5,109.9h0M400.5,122.6h0M406.5,134.5h0M413.1,123.7h0M410.3,120.3h0M401.0,135.8h0M408.2,118.0h0M412.2,128.0h0M401.4,113.4h0M411.6,127.1h0M388.1,120.4h0M391.0,118.5h0M413.0,126.6h0M395.9,131.1h0M399.8,138.2h0M410.0,133.9h0M396.3,130.9h0M388.5,130.7h0M415.1,127.8h0M415.3,125.7h0M393.9,111.6h0M399.7,124.8h0M394.1,122.5h0M389.0,136.8h0M405.9,109.0h0M401.4,134.5h0M391.9,118.4h0M394.9,136.5h0M409.7,126.6h0M395.7,127.7h0M385.8,127.6h0M390.6,136.9h0M397.7,130.4h0M409.0,131.4h0M404.7,121.0h0M391.5,122.9h0M401.5,130.6h0M397.3,138.8h0M401.1,127.4h0M405.1,114.4h0M413.2,123.5h0M406.3,127.2h0M412.9,130.2h0M394.8,117.4h0M413.5,126.3h0M403.9,133.6h0M386.7,130.0h0M402.5,135.6h0M407.5,129.5h0M402.4,126.6h0M390.7,118.5h0M405.6,130.2h0M393.0,117.2h0M413.0,132.8h0M413.0,125.0h0M408.8,124.4h0M390.7,130.2h0M397.7,130.3h0M400.6,130.2h0M390.2,130.1h0M409.8,128.2h0M407.0,123.0h0M411.7,121.8h0M387.1,133.9h0M403.4,132.4h0M403.6,126.3h0M409.9,133.3h0M385.6,131.3h0M399.1,120.5h0M399.2,128.5h0M388.1,122.1h0M405.8,138.1h0M397.6,138.3h0M407.4,125.4h0M389.5,128.0h0M406.7,126.7h0M414.0,124.6h0M402.4,117.9h0M405.6,136.0h0M401.7,136.4h0M396.4,112.2h0M406.8,123.4h0M390.1,121.8h0M392.1,130.5h0M391.9,114.5h0M411.8,121.8h0M403.0,132.1h0M408.1,118.6h0M403.2,112.6h0M413.8,124.8h0M398.5,124.0h0M397.0,119.0h0M408.5,134.5h0M402.6,114.0h0M391.5,125.5h0M386.6,134.6h0M406.1,122.1h0M389.8,113.2h0M390.5,123.0h0M405.7,126.3h0M386.0,127.7h0M400.0,132.2h0" stroke="#22b0ba" stroke-width="1.2" stroke-linecap="round" fill="none"/>
<path d="M415.8,120.6h0M409.4,115.5h0M411.3,105.1h0M420.9,112.0h0M415.4,107.3h0M414.1,111.9h0M415.6,109.3h0M417.8,122.3h0M410.3,104.2h0M416.4,117.3h0M415.0,115.1h0M417.8,115.9h0M425.2,116.3h0M417.0,118.0h0M419.0,119.6h0M417.8,112.9h0M407.9,105.7h0M425.0,118.3h0M418.1,113.9h0M409.6,104.9h0M415.0,114.0h0M416.9,118.7h0M414.5,110.0h0M412.2,112.8h0M421.7,122.6h0M406.5,108.3h0M416.1,105.9h0M416.4,119.2h0M423.5,121.4h0M410.8,113.5h0M415.0,120.0h0M415.9,110.2h0M411.1,106.1h0M417.5,114.3h0M416.8,117.7h0M418.2,110.9h0M422.9,121.7h0" stroke="#a898c0" stroke-width="1.2" stroke-linecap="round" fill="none"/>
<path d="M399.9,132.5h0M410.6,132.3h0M406.4,132.3h0M397.9,139.7h0M389.7,136.3h0M387.5,131.4h0M388.9,130.7h0M391.7,137.3h0M388.4,135.4h0M398.9,137.0h0M401.5,138.3h0M394.9,133.7h0M386.4,132.3h0M390.5,132.2h0M389.6,138.2h0M405.5,134.1h0M406.1,132.9h0M391.9,134.4h0M410.7,130.6h0M409.9,133.5h0M400.6,138.6h0M398.8,133.9h0M398.9,137.4h0M390.6,133.3h0M397.6,136.9h0M393.4,134.8h0M395.0,134.2h0M398.8,136.1h0M393.9,135.1h0M408.7,135.1h0M402.9,136.2h0M391.0,136.3h0M397.0,134.2h0M387.8,133.2h0M399.8,133.6h0M407.5,136.4h0M397.6,132.6h0M391.2,132.3h0M402.4,136.1h0M397.9,136.5h0M393.5,135.3h0M391.0,134.5h0M393.7,137.1h0M412.1,131.4h0M389.6,137.4h0M403.2,137.0h0" stroke="#0e939c" stroke-width="1.2" stroke-linecap="round" fill="none"/>
<path d="M420.3,124.6h0M423.4,128.4h0M429.1,126.3h0M422.2,125.6h0M418.2,126.6h0" stroke="#b878c4" stroke-width="1.2" stroke-linecap="round" fill="none"/>
<path d="M444.8,131.9h0M444.3,132.7h0M436.3,129.7h0M440.8,117.0h0M435.8,136.4h0M441.5,119.8h0M432.6,128.8h0M431.4,124.8h0M437.2,133.2h0M441.4,121.7h0M433.5,123.0h0M434.4,115.9h0M445.6,127.1h0M433.9,122.7h0M431.5,134.0h0M433.4,116.1h0M432.1,134.8h0M442.4,127.2h0M439.2,136.3h0M445.5,125.7h0M440.3,117.2h0M438.7,124.6h0M434.4,106.9h0M434.0,125.9h0M440.8,125.6h0M436.7,119.4h0M434.5,133.9h0M443.5,132.3h0M432.2,126.0h0M442.5,136.4h0M442.5,130.3h0M445.0,130.6h0M441.6,119.6h0M432.4,125.6h0M431.7,125.8h0M436.6,104.9h0M440.7,129.8h0M441.3,118.5h0M436.8,106.8h0M441.1,124.8h0M441.5,115.8h0M440.9,114.6h0M444.7,128.7h0M444.0,122.0h0M442.3,135.1h0M433.5,108.6h0M436.6,134.5h0M439.7,130.9h0M435.9,109.6h0M437.9,135.6h0M439.6,117.5h0M432.3,112.5h0M442.5,120.6h0M434.6,125.6h0M432.6,130.7h0M439.9,135.4h0M434.5,132.3h0M433.6,133.9h0M440.4,121.7h0M431.1,119.5h0M440.5,115.0h0M436.0,130.0h0M445.5,122.4h0M436.1,128.9h0M437.8,112.1h0M439.4,117.7h0M441.9,136.3h0M434.1,129.0h0M444.3,131.8h0M436.3,115.2h0M445.2,126.3h0M438.0,109.4h0M440.1,121.0h0M435.1,116.4h0M433.2,125.0h0M445.2,126.4h0M432.2,112.2h0M437.4,118.6h0M442.7,124.5h0M435.7,122.3h0M438.7,118.0h0M440.1,118.5h0M437.1,132.6h0M443.1,116.3h0M439.3,109.7h0M442.8,122.9h0M442.7,117.5h0M436.9,122.2h0M442.7,123.9h0M435.2,124.0h0M435.6,111.0h0M436.0,133.8h0M438.6,121.3h0M431.9,116.4h0M432.3,130.8h0M434.2,122.6h0M433.2,116.4h0M431.8,131.7h0M438.6,126.9h0M437.2,133.5h0M441.8,118.6h0M438.6,133.1h0M438.6,134.1h0M437.3,132.2h0M438.8,109.1h0M436.7,122.2h0M440.6,114.8h0M433.5,109.0h0M438.7,121.3h0M436.0,116.2h0M442.4,135.5h0M444.3,135.9h0M441.2,123.9h0M437.0,131.0h0M434.1,137.5h0M431.0,116.9h0M441.4,133.8h0M431.8,127.3h0M439.5,129.6h0M441.7,136.4h0M443.1,126.5h0M445.1,127.8h0M432.8,124.5h0M436.9,130.8h0M439.1,119.6h0M439.3,117.2h0M440.1,134.3h0M441.5,115.3h0M437.4,110.7h0M438.5,123.4h0M436.4,133.1h0M440.5,137.4h0M432.7,110.4h0M432.9,136.5h0M444.4,127.7h0M439.7,110.8h0M443.7,133.1h0M432.9,124.5h0M437.3,109.9h0M435.4,107.8h0M440.6,123.9h0M442.2,115.6h0M443.2,121.9h0M439.5,111.6h0M438.4,116.1h0M440.9,134.4h0M431.4,119.5h0M440.2,121.5h0M441.2,117.3h0M441.9,131.0h0M440.1,111.7h0M438.8,110.5h0M437.0,121.7h0M438.5,114.7h0M430.2,122.1h0M438.3,110.0h0M443.0,118.7h0M440.4,124.3h0M436.9,113.6h0M445.3,121.3h0M435.3,106.7h0" stroke="#a4228a" stroke-width="1.2" stroke-linecap="round" fill="none"/>
<path d="M358.2,73.7h0M355.5,76.6h0M347.2,52.7h0M342.9,85.6h0M365.0,77.4h0M337.7,48.9h0M345.0,66.4h0M339.5,49.3h0M350.5,75.4h0M342.2,61.8h0M342.4,59.2h0M343.6,83.8h0M337.3,56.0h0M343.5,50.1h0M360.4,78.3h0M342.0,55.7h0M330.4,69.4h0M333.4,63.7h0M338.0,58.7h0M360.5,74.0h0M340.0,81.6h0M339.3,70.3h0M341.9,45.3h0M344.6,67.4h0M344.8,57.7h0M332.8,72.6h0M347.6,60.8h0M349.1,56.8h0M338.0,69.4h0M357.8,61.6h0M338.4,40.2h0M350.8,59.8h0M345.8,78.2h0M339.2,72.8h0M342.4,59.8h0M336.2,65.2h0M362.6,65.5h0M337.6,61.9h0M345.7,79.1h0M358.8,77.4h0M345.3,61.3h0M349.3,77.9h0M337.0,76.6h0M340.9,58.3h0M337.8,83.5h0M345.6,72.5h0M336.3,76.2h0M344.2,59.4h0M342.6,62.7h0M355.8,70.1h0M337.0,34.4h0M341.0,60.3h0M332.4,68.8h0M360.8,68.8h0M352.0,77.8h0M343.6,70.9h0M362.2,66.0h0M336.2,77.6h0M345.1,65.7h0M358.2,76.0h0M338.8,42.3h0M337.5,36.9h0M330.0,70.3h0M342.0,74.2h0M339.7,62.3h0M340.8,59.2h0M333.8,66.6h0M341.7,49.3h0M346.8,79.4h0M358.6,62.0h0M355.7,66.4h0M343.8,67.7h0M364.2,74.5h0M349.2,65.2h0M348.5,68.7h0M342.0,88.7h0M340.4,87.9h0M338.8,44.6h0M363.2,70.3h0M342.6,75.1h0M345.2,73.9h0M364.6,75.2h0M341.7,89.0h0M337.1,77.1h0M334.0,77.9h0M333.7,64.0h0M363.2,72.4h0M340.3,42.3h0M360.8,79.9h0M348.7,64.9h0M343.2,88.4h0M356.1,61.7h0M343.2,69.9h0M339.0,39.3h0M348.4,68.7h0M350.5,77.5h0M357.1,59.3h0M363.7,67.8h0M336.7,68.8h0M363.1,71.6h0M351.1,58.9h0M338.9,48.3h0M364.7,69.9h0M341.8,79.4h0M331.3,73.0h0M352.8,78.6h0M331.9,64.5h0M359.2,63.3h0M339.8,60.8h0M338.8,69.9h0M339.2,54.2h0M342.4,89.1h0M342.4,88.5h0M362.9,79.2h0M345.2,68.1h0M354.9,73.8h0M362.1,78.3h0M339.2,71.7h0M338.7,71.9h0M349.4,71.0h0M347.8,72.0h0M343.7,54.7h0M344.8,69.2h0M365.6,78.3h0M350.5,63.7h0M345.2,63.9h0M354.9,79.5h0M346.8,69.7h0M344.4,65.7h0M346.8,63.5h0M364.8,68.2h0M339.9,83.8h0M358.5,70.6h0M364.6,67.6h0M358.2,64.2h0M342.7,91.9h0M349.0,67.2h0M351.4,77.3h0M360.3,62.1h0M343.5,94.0h0M358.3,73.8h0M352.5,59.5h0M339.4,85.9h0M355.5,59.9h0M364.1,75.2h0M350.1,75.0h0M335.2,69.8h0M342.7,56.9h0M341.8,42.2h0M350.8,74.6h0M359.9,69.8h0M335.7,74.4h0M340.2,47.0h0M349.3,71.3h0M346.7,75.1h0M357.4,78.3h0M343.5,88.6h0M351.1,65.5h0M346.4,69.0h0M338.7,73.1h0M338.8,56.6h0M339.0,74.8h0M347.8,71.3h0M343.7,51.9h0M355.1,70.5h0M344.3,70.2h0M367.6,73.6h0M341.2,89.7h0M340.3,81.5h0M354.4,69.1h0M338.8,61.0h0M344.2,62.3h0M365.2,66.4h0M347.2,54.1h0M336.3,33.5h0M357.7,67.6h0M353.3,74.8h0M338.7,70.4h0M335.8,79.2h0M337.1,63.0h0M338.1,43.5h0M342.1,51.1h0M346.4,65.4h0M354.7,65.6h0M337.9,56.1h0M339.1,60.1h0M345.9,60.0h0M364.5,70.1h0M338.2,38.6h0M342.6,78.5h0M341.6,62.0h0M345.2,60.5h0M334.4,62.0h0M340.8,78.5h0M347.3,77.6h0M342.6,49.6h0M336.2,80.0h0M346.1,72.2h0M356.5,74.3h0M347.8,56.9h0M348.2,64.2h0M345.8,55.6h0M345.8,71.4h0M335.6,58.6h0M361.1,79.4h0M351.2,76.8h0M347.1,54.7h0M342.9,58.6h0M342.9,85.3h0M352.1,60.9h0M360.5,65.5h0M352.1,59.9h0M357.9,74.2h0M346.3,67.9h0M340.0,84.2h0M342.9,91.7h0M347.5,64.7h0M354.3,66.4h0M360.6,73.6h0M339.4,88.0h0M339.5,43.4h0M335.2,64.3h0M345.6,67.2h0M333.0,63.5h0M357.3,77.9h0M342.3,49.6h0M355.2,63.7h0M363.2,69.8h0M347.5,55.0h0M339.7,64.7h0M338.7,90.8h0M353.7,76.7h0M343.4,81.5h0M351.8,69.3h0M340.7,60.4h0M339.0,87.5h0M338.1,81.9h0M343.2,60.3h0M356.6,65.5h0M348.2,65.0h0M333.7,74.1h0M354.1,74.9h0M350.7,80.7h0M342.7,47.4h0M346.7,75.1h0M348.8,60.7h0M348.1,61.3h0M339.3,67.9h0M356.8,79.6h0M341.9,70.8h0M344.6,80.6h0M335.1,62.9h0M341.3,73.9h0M333.3,65.0h0M339.3,83.7h0M361.3,68.7h0M345.5,55.7h0M353.5,58.1h0M358.8,77.4h0M361.7,75.3h0M342.1,86.6h0M347.5,57.2h0M339.8,51.2h0M359.1,70.4h0M347.9,57.4h0M344.1,49.6h0M349.6,56.8h0M338.8,69.6h0M358.0,72.4h0M346.9,66.0h0M339.0,58.1h0M349.3,71.8h0M357.0,70.3h0M340.2,68.1h0M358.9,62.1h0M345.8,61.5h0M349.3,56.3h0M338.5,39.9h0M343.8,60.8h0M350.3,66.6h0M359.7,69.9h0M338.4,78.2h0M342.0,80.1h0M350.4,57.0h0M342.1,55.1h0M357.5,76.4h0M340.7,46.4h0M337.7,41.0h0M358.1,79.6h0M348.9,75.6h0M358.6,79.8h0M342.0,67.4h0M356.8,59.6h0M362.3,79.1h0M339.0,48.6h0M350.1,67.9h0M345.1,60.0h0M338.6,48.2h0M347.6,58.7h0M335.3,70.2h0M356.0,61.9h0M344.9,71.7h0M342.6,77.0h0M342.5,75.7h0M357.0,60.6h0M340.0,65.5h0M331.4,71.8h0M338.6,43.0h0M344.6,55.8h0M332.6,69.3h0M343.9,93.7h0M332.2,65.3h0M337.7,37.9h0M347.1,75.6h0M337.8,54.9h0M341.8,88.2h0M341.3,71.0h0M347.7,60.4h0M357.6,77.0h0M341.5,85.2h0M345.5,68.8h0M350.6,72.4h0" stroke="#e8382e" stroke-width="1.2" stroke-linecap="round" fill="none"/>
<path d="M402.4,18.3h0M392.4,22.8h0M399.3,22.2h0M385.1,28.9h0M404.3,29.3h0M391.4,22.9h0M393.2,15.3h0M384.4,29.8h0M389.6,22.7h0M404.0,24.9h0M405.8,18.0h0M389.5,24.8h0M394.2,25.7h0M407.0,28.9h0M402.7,27.2h0M405.0,21.3h0M408.9,25.4h0M395.9,22.7h0M392.2,20.4h0M402.0,26.7h0M405.9,28.1h0M395.7,23.2h0M393.8,28.9h0M406.4,21.8h0M384.4,29.5h0M393.1,22.9h0M405.1,25.0h0M399.3,29.1h0M390.1,19.9h0M398.1,21.9h0M393.2,28.5h0M400.8,30.5h0M403.3,16.2h0M391.9,18.8h0M387.6,28.7h0M402.3,26.8h0M399.9,14.7h0M404.6,16.8h0M393.9,28.1h0M400.2,29.3h0M397.2,18.5h0M403.6,21.9h0M394.9,22.1h0M401.5,26.9h0M401.8,23.7h0M390.8,30.2h0M403.6,23.3h0M400.0,15.7h0M399.4,15.5h0M386.1,26.0h0M403.3,15.7h0M394.8,16.6h0M384.9,28.1h0M403.3,17.7h0M405.6,30.4h0M387.1,26.2h0M392.8,25.3h0M389.4,25.0h0M387.5,28.7h0M407.5,31.1h0M402.2,28.6h0M394.4,24.1h0M390.4,28.1h0M392.3,23.1h0M397.5,18.6h0M397.0,23.6h0M396.1,27.6h0M391.4,25.9h0M394.1,14.9h0M402.1,22.3h0M395.8,19.8h0M394.9,27.9h0M384.7,19.5h0M389.2,23.6h0M400.7,17.0h0M402.6,24.7h0M407.3,21.0h0M383.2,28.4h0M405.7,27.3h0M405.4,24.1h0M394.9,16.2h0M401.2,16.5h0M403.4,15.9h0M402.0,19.5h0M402.6,16.4h0M398.4,14.8h0M397.4,19.4h0M404.1,28.8h0M390.4,28.8h0M389.6,21.0h0M404.7,22.7h0M401.1,18.7h0M396.9,29.4h0M396.6,19.0h0M393.2,24.6h0M387.9,25.7h0M401.4,26.2h0M407.2,26.3h0M386.8,27.9h0M403.0,21.5h0M387.8,16.4h0M393.9,28.3h0M390.2,25.6h0M390.4,15.2h0M383.7,27.2h0M389.0,29.9h0M387.6,25.1h0M383.9,27.4h0M388.9,20.7h0M410.8,26.8h0M397.1,23.5h0M393.9,24.9h0M403.1,20.5h0M390.0,29.6h0M389.6,20.3h0M399.9,22.2h0M398.7,31.2h0M389.3,22.0h0M393.1,16.7h0M394.8,22.3h0M409.0,24.9h0M395.1,18.4h0M408.9,29.1h0M396.8,17.0h0M392.3,25.5h0M407.6,26.5h0M398.0,23.1h0M401.9,27.3h0M405.9,23.9h0M402.3,20.2h0M404.4,25.7h0M386.7,26.6h0M398.6,24.0h0M405.4,27.3h0M397.4,19.5h0M408.6,26.1h0M393.2,16.5h0M400.8,22.8h0M394.1,30.3h0M387.6,25.8h0M403.9,17.3h0M397.8,27.1h0M384.7,22.5h0M400.1,27.5h0M404.2,22.9h0M404.1,25.9h0M394.8,22.8h0M397.4,30.0h0M396.9,30.3h0M408.5,26.1h0M403.2,23.6h0M403.6,21.7h0M399.1,17.9h0" stroke="#e2da24" stroke-width="1.2" stroke-linecap="round" fill="none"/>
<path d="M378.5,45.1h0M399.8,59.2h0M381.2,57.1h0M396.3,43.9h0M387.4,51.5h0M380.4,54.2h0M379.0,41.1h0M396.3,66.3h0M398.4,38.7h0M399.5,37.1h0M376.1,64.2h0M383.4,51.3h0M392.6,63.3h0M385.4,57.7h0M396.0,43.6h0M372.7,55.7h0M399.9,62.1h0M396.8,48.8h0M391.2,81.1h0M396.8,70.3h0M397.3,61.8h0M393.1,44.1h0M390.6,68.8h0M385.8,61.9h0M379.5,57.7h0M395.4,47.2h0M390.3,78.8h0M376.5,55.2h0M378.0,56.8h0M395.9,53.4h0M389.1,76.7h0M398.5,68.4h0M387.2,66.4h0M394.7,58.2h0M389.6,47.2h0M392.2,42.3h0M388.7,56.7h0M381.5,57.6h0M395.4,72.9h0M378.3,66.2h0M399.9,42.8h0M383.7,65.3h0M388.8,38.2h0M396.5,52.3h0M394.2,75.1h0M380.5,54.5h0M388.5,35.5h0M394.2,49.0h0M390.3,38.0h0M381.2,40.9h0M392.2,79.2h0M379.0,34.2h0M383.8,61.2h0M383.3,55.8h0M387.4,49.6h0M388.1,41.4h0M390.8,69.8h0M396.1,47.3h0M394.5,35.3h0M394.9,58.4h0M371.3,60.4h0M394.7,65.8h0M378.6,60.7h0M381.0,36.0h0M381.3,50.5h0M386.8,67.8h0M384.2,48.7h0M389.8,52.7h0M381.2,40.8h0M391.2,79.2h0M389.9,73.3h0M387.9,39.6h0M393.9,42.4h0M394.7,59.4h0M395.4,71.1h0M385.5,61.3h0M383.1,33.6h0M398.8,38.5h0M392.2,80.5h0M392.7,54.2h0M377.8,47.6h0M384.9,43.0h0M384.5,46.8h0M392.0,40.9h0M390.6,64.5h0M398.5,54.4h0M378.3,47.3h0M389.1,69.3h0M398.8,55.9h0M382.0,34.1h0M393.2,33.4h0M382.5,51.7h0M382.4,38.1h0M398.6,70.6h0M377.2,60.9h0M399.1,69.8h0M376.5,59.7h0M400.2,32.5h0M379.5,56.9h0M383.7,37.1h0M392.5,30.9h0M399.1,30.8h0M383.6,68.1h0M383.0,41.6h0M392.3,53.7h0M388.1,49.6h0M376.7,46.6h0M383.7,34.5h0M398.0,61.3h0M397.6,73.8h0M397.0,45.6h0M392.1,47.7h0M395.0,43.6h0M391.7,52.6h0M387.5,73.7h0M382.2,33.1h0M391.5,31.8h0M393.5,37.9h0M388.7,58.1h0M401.1,75.6h0M383.9,67.4h0M384.0,71.6h0M394.2,66.9h0M399.8,38.1h0M374.7,51.4h0M380.8,53.9h0M386.5,53.7h0M378.1,49.6h0M384.2,44.0h0M395.8,64.9h0M392.4,57.0h0M393.6,53.9h0M400.9,76.4h0M393.1,33.9h0M387.1,42.4h0M392.1,33.7h0M399.4,37.2h0M391.1,49.9h0M398.9,72.5h0M391.3,58.5h0M374.9,53.8h0M381.9,41.0h0M384.3,68.4h0M392.5,63.4h0M395.8,58.9h0M384.6,49.7h0M381.3,36.3h0M379.6,44.8h0M396.2,43.0h0M393.7,56.0h0M380.9,41.7h0M398.9,66.9h0M383.8,58.8h0M384.1,46.8h0M385.8,64.9h0M392.6,49.3h0M385.3,54.8h0M370.9,62.0h0M383.9,38.5h0M387.3,35.3h0M388.8,57.8h0M379.9,47.4h0M377.5,44.7h0M382.6,39.7h0M379.0,48.7h0M378.7,44.8h0M383.5,48.4h0M391.8,55.6h0M378.1,48.8h0M383.1,48.3h0M377.3,59.6h0M396.2,73.2h0M387.6,64.4h0M393.3,53.8h0M378.0,40.0h0M392.0,48.3h0M380.8,46.0h0M375.3,52.2h0M398.2,54.9h0M396.9,65.2h0M392.0,37.0h0M394.7,31.9h0M383.5,61.7h0M377.9,63.7h0M387.9,64.4h0M380.2,56.5h0M400.2,71.2h0M390.1,41.4h0M392.2,67.1h0M398.9,63.5h0M385.0,47.5h0M382.5,54.9h0M398.6,40.0h0M387.2,50.7h0M371.4,61.3h0M394.9,67.7h0M390.0,66.9h0M400.9,75.0h0M400.5,60.5h0M393.0,39.4h0M378.1,47.1h0M394.5,59.4h0M384.0,49.4h0M373.9,54.2h0M374.1,56.8h0M394.7,63.0h0M384.1,67.2h0M390.8,43.9h0M395.4,37.5h0M378.9,40.4h0M399.4,46.2h0M386.4,66.1h0M383.6,66.9h0M394.4,42.7h0M383.0,45.7h0M383.3,52.1h0M382.5,34.7h0M392.1,69.1h0M395.3,71.2h0M386.9,35.3h0M390.0,44.0h0M377.0,45.7h0M388.3,37.4h0M386.9,42.7h0M386.8,64.6h0M396.6,53.1h0M379.1,36.2h0M385.6,53.3h0M383.9,51.7h0M389.9,52.8h0M394.1,57.5h0M387.8,31.6h0M390.7,53.0h0M389.9,74.6h0M394.5,48.2h0M387.3,32.4h0M397.6,32.1h0M390.9,74.4h0M397.4,77.4h0M392.2,58.3h0M384.2,30.4h0M388.1,76.9h0M389.9,42.9h0M379.1,47.9h0M384.4,34.2h0M391.2,33.2h0M380.7,57.7h0M389.7,49.8h0M392.9,72.4h0M402.2,79.0h0M372.8,50.5h0M380.0,52.0h0M377.4,51.8h0M390.9,34.3h0M399.5,80.2h0M384.1,65.9h0M391.1,75.8h0M392.1,33.0h0M377.4,60.0h0M385.2,45.9h0M375.5,47.1h0M387.4,47.3h0M387.1,73.0h0M389.4,48.2h0M385.0,48.3h0M392.4,58.4h0M395.5,47.0h0M391.5,55.0h0M400.1,32.0h0M397.9,69.8h0M397.8,41.1h0M399.5,71.5h0M401.4,52.7h0M378.5,54.9h0M387.8,70.0h0M378.9,64.0h0M396.0,51.9h0M401.0,71.3h0M397.3,32.1h0M386.8,31.0h0M398.5,55.4h0M384.0,51.3h0M381.7,41.6h0M379.0,43.5h0M392.4,53.5h0M391.5,41.2h0M388.8,56.8h0M393.1,75.3h0M387.3,67.7h0M381.9,48.0h0M390.0,57.5h0M383.7,52.0h0M378.5,43.0h0M391.1,48.6h0M381.1,55.5h0M382.2,60.7h0M401.1,71.8h0M386.4,59.0h0M393.2,53.8h0M400.9,46.5h0M392.3,59.9h0M393.5,74.3h0M393.6,54.9h0M398.2,61.5h0M377.6,56.2h0M395.7,35.8h0M383.4,58.1h0M385.6,39.8h0M383.9,63.0h0M372.4,52.2h0M382.0,59.4h0M386.2,59.6h0M382.3,34.2h0M379.0,37.9h0M396.2,75.7h0M387.5,69.7h0M386.7,54.9h0M383.3,49.0h0M399.2,75.2h0M384.5,59.1h0M378.4,53.7h0M396.7,41.8h0M384.5,42.1h0M390.4,47.1h0M383.8,64.1h0M400.0,57.1h0M375.8,51.0h0M375.6,44.4h0M388.1,57.6h0M387.9,65.5h0M397.6,43.2h0M393.7,68.8h0M378.4,58.2h0M385.9,31.1h0M396.4,79.9h0M378.2,64.2h0M372.6,53.8h0M387.6,34.5h0M381.7,65.7h0M392.7,48.5h0M388.5,37.7h0M384.7,40.8h0M385.3,48.3h0M397.1,61.8h0M378.8,40.3h0M400.0,80.1h0M381.1,51.3h0M383.0,61.7h0M377.8,53.0h0M397.4,63.5h0M388.3,36.9h0M386.8,47.6h0M383.9,31.1h0M389.6,54.4h0M409.3,71.2h0M400.5,68.6h0M414.0,47.7h0M402.1,47.5h0M404.5,43.2h0M413.3,55.2h0M407.7,32.0h0M415.3,70.7h0M410.1,42.1h0M405.4,72.5h0M409.9,66.4h0M420.3,45.3h0M413.5,54.3h0M410.8,51.9h0M416.2,53.3h0M410.3,37.1h0M409.8,58.2h0M407.5,46.1h0M403.0,54.6h0M415.9,56.7h0M409.3,33.8h0M405.9,49.1h0M418.6,60.4h0M383.2,105.5h0M376.4,83.1h0M386.2,98.5h0M385.5,75.6h0M370.3,93.4h0M382.3,90.4h0M383.4,111.8h0M383.6,80.6h0M385.2,79.8h0M377.1,95.5h0M377.2,115.4h0M383.7,118.5h0M376.3,107.1h0M374.7,112.6h0M387.2,104.4h0M369.8,93.8h0M380.6,109.7h0M385.2,82.1h0M385.4,89.6h0M384.8,92.3h0M376.9,103.4h0M381.0,71.4h0M373.7,74.2h0M385.0,91.9h0M377.2,113.6h0M404.9,85.0h0M393.6,87.3h0M397.0,101.2h0M391.8,98.1h0M392.4,89.0h0M393.8,104.9h0M399.1,94.4h0M391.6,88.0h0M395.6,88.2h0M406.0,98.8h0M400.2,109.7h0M370.6,69.1h0M371.7,58.3h0M372.2,62.6h0M369.5,63.4h0" stroke="#ec9a96" stroke-width="1.2" stroke-linecap="round" fill="none"/>
<path d="M393.7,73.1h0M395.6,78.1h0M379.9,65.1h0M397.6,77.0h0M384.0,65.5h0M398.1,78.9h0M391.4,66.5h0M391.2,73.4h0M371.6,59.7h0M382.0,65.3h0M402.0,76.1h0M400.3,65.0h0M397.2,66.6h0M394.9,68.6h0M387.9,75.9h0M390.8,76.5h0M392.4,72.8h0M377.0,91.7h0M377.6,104.6h0M385.9,109.7h0M383.0,88.5h0M385.3,106.0h0M370.9,106.5h0M379.6,112.8h0M387.6,83.6h0M387.0,106.8h0M385.3,84.0h0M376.5,69.4h0M374.5,122.7h0M371.4,70.4h0M374.1,84.1h0M379.2,77.5h0M383.9,90.9h0M375.1,90.3h0M379.7,78.9h0M372.3,119.5h0M376.6,114.7h0M381.9,93.7h0M376.7,121.1h0M379.3,95.0h0M369.2,89.9h0M372.1,97.1h0M380.8,111.5h0M368.5,82.1h0M373.5,83.9h0M381.7,71.0h0M384.1,116.4h0M372.2,99.0h0M379.4,106.2h0M376.2,101.7h0M371.2,103.0h0M370.4,79.6h0M372.7,92.4h0M386.8,111.1h0M385.4,118.3h0M375.4,102.6h0M376.3,103.0h0M370.7,76.7h0M386.0,119.0h0M376.7,96.4h0M374.7,116.9h0M385.8,94.0h0M372.3,68.6h0M382.2,78.3h0M371.0,110.3h0M385.3,78.3h0M373.0,65.8h0M376.1,97.8h0M370.1,98.6h0M379.0,99.5h0M378.9,127.4h0M380.4,113.2h0M368.6,88.6h0M370.8,67.2h0M377.4,104.0h0M385.3,124.8h0M386.5,90.1h0M374.4,117.8h0M378.3,74.2h0M378.3,76.7h0M373.0,71.5h0M383.6,108.3h0M375.1,94.5h0M385.9,83.2h0M370.5,68.6h0M377.4,111.9h0M377.8,99.8h0M371.8,93.8h0M376.8,88.9h0M374.3,114.8h0M378.8,92.8h0M368.9,82.0h0M379.6,99.3h0M374.7,82.3h0M385.5,86.4h0M374.1,114.1h0M374.0,89.0h0M384.9,114.1h0M377.6,84.7h0M376.1,93.0h0M373.9,111.2h0M377.1,125.8h0M380.1,91.6h0M382.3,76.8h0M387.8,90.7h0M378.3,114.0h0M374.0,115.7h0M375.7,95.7h0M384.1,125.2h0M369.9,78.0h0M384.7,120.7h0M368.7,66.1h0M381.4,71.6h0M381.3,123.1h0M379.2,76.8h0M377.0,77.0h0M385.7,78.8h0M382.9,118.9h0M377.4,69.8h0M387.3,98.2h0M385.4,108.6h0M376.6,92.4h0M374.7,69.0h0M369.5,73.3h0M385.4,95.8h0M381.4,75.7h0M383.3,93.1h0M388.0,106.4h0M373.4,90.2h0M370.8,73.8h0M381.5,79.5h0M376.2,80.1h0M372.6,114.5h0M382.3,97.6h0M374.1,89.8h0M379.8,120.7h0M376.1,113.0h0M379.2,114.4h0M376.7,82.3h0M379.6,91.4h0M384.6,87.3h0M375.2,103.7h0M387.8,111.6h0M371.5,83.4h0M375.6,66.1h0M379.5,114.1h0M376.7,105.9h0M386.3,87.3h0M389.3,91.3h0M382.1,86.5h0M384.3,121.1h0M385.1,74.8h0M380.6,94.9h0M385.2,80.3h0M386.1,79.7h0M385.0,86.6h0M375.8,84.9h0M369.9,95.9h0M368.0,67.8h0M372.0,120.5h0M385.1,87.5h0M375.0,99.9h0M379.6,93.3h0M372.5,79.8h0M385.0,94.4h0M381.7,103.5h0M385.4,100.4h0M372.1,83.5h0M373.7,109.2h0M378.0,122.6h0M381.9,74.0h0M375.6,120.3h0M383.4,103.6h0M367.8,71.8h0M381.0,79.9h0M385.1,120.9h0M369.3,73.0h0M380.6,101.9h0M384.6,93.3h0M377.4,126.9h0M381.1,105.0h0M374.3,82.0h0M383.8,98.7h0M376.0,122.0h0M385.8,100.8h0M376.7,103.5h0M375.9,84.2h0M372.3,92.8h0M371.0,73.2h0M378.8,96.0h0M377.3,104.5h0M380.9,109.4h0M373.7,92.0h0M381.9,128.3h0M377.6,93.0h0M372.9,82.1h0M381.6,98.4h0M380.9,103.9h0M384.2,86.0h0M383.3,90.0h0M380.1,101.3h0M383.7,126.4h0M370.4,103.0h0M383.5,91.9h0M376.3,78.8h0M371.2,109.5h0M375.5,94.9h0M386.7,87.0h0M383.7,116.2h0M380.7,83.5h0M370.0,73.3h0M382.7,85.4h0M371.4,109.9h0M374.6,77.8h0M375.5,86.1h0M368.2,91.2h0M386.0,83.6h0M374.6,119.2h0M376.4,78.9h0M385.2,81.0h0M370.8,88.4h0M373.6,119.3h0M379.0,107.8h0M375.1,70.0h0M370.3,88.5h0M371.8,77.4h0M386.8,80.8h0M371.3,104.5h0M370.1,73.7h0M380.2,87.9h0M376.3,124.6h0M383.9,90.8h0M373.1,97.2h0M383.6,85.8h0M377.6,115.0h0M374.1,120.3h0M379.0,106.5h0M373.8,109.9h0M382.6,101.3h0M373.7,106.7h0M369.3,68.6h0M375.1,103.6h0M383.8,115.3h0M380.7,129.1h0M380.0,103.3h0M372.8,88.4h0M382.8,118.7h0M382.1,96.9h0M381.7,72.6h0M385.2,103.7h0M375.9,122.2h0M383.7,118.4h0M386.5,100.3h0M387.4,79.7h0M375.4,103.4h0M370.6,69.8h0M370.9,69.8h0M371.5,75.2h0M367.5,75.4h0M379.3,93.2h0M374.2,123.5h0M383.9,109.8h0M379.6,84.9h0M380.1,78.5h0M374.3,114.2h0M389.0,98.4h0M381.5,78.0h0M380.6,108.5h0M382.0,120.5h0M368.8,74.2h0M379.1,74.4h0M376.6,95.2h0M374.9,117.1h0M379.1,96.9h0M373.4,80.4h0M371.2,108.0h0M380.5,86.3h0M383.2,104.3h0M386.9,101.5h0M386.1,117.3h0M376.7,78.2h0M375.9,104.7h0M377.2,127.2h0M373.4,101.9h0M373.6,98.8h0M381.3,115.9h0M378.4,110.3h0M369.3,85.9h0M383.2,104.7h0M386.7,99.8h0M382.2,117.9h0M385.5,77.0h0M375.6,102.2h0M374.3,78.5h0M382.2,126.4h0M377.3,96.2h0M383.1,123.3h0M373.1,95.0h0M387.8,89.9h0M379.5,87.9h0M381.9,85.7h0M385.1,116.0h0M377.1,101.9h0M389.6,87.7h0M374.2,120.6h0M377.6,87.8h0M377.9,74.8h0M383.8,78.6h0M378.5,124.6h0M379.0,125.5h0M379.5,115.0h0M371.2,83.5h0M376.2,92.8h0M381.1,115.4h0M382.5,115.7h0M380.7,113.9h0M378.1,95.5h0M385.9,73.6h0M370.5,113.5h0M374.1,114.1h0M383.4,80.1h0M384.3,94.5h0M370.6,109.6h0M374.3,92.3h0M385.8,98.1h0M372.1,71.7h0M381.9,82.7h0M378.6,109.8h0M382.9,79.9h0M387.2,94.7h0M381.0,113.8h0M382.1,74.9h0M385.9,107.2h0M378.4,103.3h0M383.7,100.8h0M373.7,70.7h0M384.5,81.7h0M373.4,112.7h0M374.4,90.1h0M381.4,127.4h0M387.9,109.5h0M382.0,96.6h0M388.4,106.1h0M373.8,85.1h0M368.6,71.5h0M378.9,122.6h0M384.7,87.0h0M383.6,100.9h0M382.6,115.4h0M371.8,97.3h0M384.2,97.5h0M374.0,93.7h0M374.6,108.0h0M378.7,89.5h0M378.1,84.3h0M377.9,111.7h0M369.4,81.5h0M383.7,107.4h0M386.5,113.5h0M370.1,85.9h0M384.1,91.6h0M381.2,105.8h0M382.3,124.1h0M372.2,72.7h0M365.8,56.8h0M376.1,66.4h0M364.6,62.8h0M373.5,66.7h0M358.4,60.5h0M367.7,55.8h0M376.0,61.9h0M374.2,68.7h0M371.3,60.4h0M362.9,61.9h0M367.6,56.0h0" stroke="#4e46b0" stroke-width="1.2" stroke-linecap="round" fill="none"/>
<path d="M398.9,51.8h0M391.1,45.8h0M379.4,67.8h0M393.4,56.3h0M397.4,47.1h0M395.6,50.2h0M377.9,50.1h0M391.0,58.5h0M397.7,77.9h0M381.5,45.1h0M388.7,73.6h0M388.5,77.1h0M395.0,65.7h0M392.5,48.9h0M382.0,45.4h0M400.4,46.8h0M402.9,79.6h0M383.5,44.7h0M393.3,69.5h0M386.9,60.6h0M402.0,36.2h0M415.2,66.7h0M410.7,33.0h0M401.9,53.8h0M405.2,55.8h0M422.9,53.5h0M416.3,37.3h0M416.3,65.6h0M413.7,37.6h0M424.0,71.7h0M410.4,40.4h0M412.8,70.7h0M400.4,38.4h0M415.8,70.0h0M401.6,48.7h0M417.3,51.9h0M410.3,40.0h0M424.7,70.7h0M400.3,60.0h0M413.3,35.3h0M408.0,48.1h0M400.5,55.5h0M408.1,57.6h0M405.2,36.2h0M408.8,71.9h0M402.4,50.4h0M403.9,41.0h0M414.2,65.9h0M414.5,41.0h0M415.9,36.4h0M402.1,52.1h0M427.4,69.3h0M424.0,71.7h0M407.1,50.4h0M411.8,51.0h0M412.3,62.4h0M422.0,60.3h0M401.9,45.1h0M409.5,60.3h0M423.3,66.9h0M416.6,68.6h0M418.1,43.0h0M420.2,49.9h0M408.3,59.0h0M400.5,67.6h0M417.2,50.8h0M424.9,59.9h0M410.1,57.3h0M417.9,46.9h0M408.1,53.9h0M407.4,36.1h0M409.1,64.2h0M408.8,34.6h0M422.0,65.7h0M417.7,57.3h0M402.5,70.1h0M421.6,61.2h0M403.2,74.2h0M425.6,63.0h0M414.3,41.5h0M415.9,56.8h0M409.8,57.0h0M400.3,36.3h0M421.0,48.7h0M411.8,41.0h0M419.2,52.4h0M418.1,49.6h0M403.5,57.5h0M406.9,49.2h0M405.7,57.5h0M418.0,47.8h0M405.1,48.9h0M403.8,45.9h0M415.4,57.2h0M415.4,58.9h0M409.7,32.3h0M411.2,56.7h0M405.3,63.2h0M408.6,53.4h0M401.7,58.8h0M407.9,62.0h0M413.5,33.1h0M401.1,57.2h0M421.1,51.5h0M402.1,39.9h0M410.3,35.4h0M406.5,48.2h0M402.3,55.1h0M410.2,57.4h0M418.6,51.3h0M410.9,32.2h0M423.2,72.0h0M411.1,52.6h0M408.2,65.5h0M424.9,63.7h0M403.3,39.4h0M412.7,35.7h0M403.7,52.6h0M420.5,55.9h0M418.6,44.1h0M425.6,67.3h0M402.7,58.2h0M411.7,58.9h0M422.0,61.1h0M409.4,46.9h0M422.5,68.9h0M420.2,65.7h0M412.4,69.4h0M406.9,64.7h0M421.4,71.0h0M411.0,59.9h0M423.5,69.8h0M405.3,61.5h0M403.4,53.2h0M411.9,71.6h0M406.3,71.3h0M413.3,63.1h0M417.8,73.3h0M404.6,62.6h0M404.3,44.4h0M416.6,54.0h0M411.9,57.2h0M415.0,68.9h0M412.0,46.9h0M424.7,59.8h0M417.8,49.4h0M412.7,41.8h0M412.4,48.2h0M414.1,44.6h0M421.2,69.1h0M422.8,64.7h0M403.1,42.9h0M418.8,66.8h0M401.1,53.3h0M403.9,67.6h0M403.4,37.0h0M413.6,57.2h0M402.1,56.7h0M412.9,63.8h0M417.4,62.1h0M402.7,47.2h0M403.6,33.2h0M402.1,62.0h0M405.0,61.7h0M406.9,68.4h0M403.5,47.8h0M412.9,41.7h0M409.5,34.5h0M411.2,44.4h0M414.0,41.9h0M416.8,65.6h0M419.1,46.9h0M415.7,60.5h0M413.9,69.3h0M418.6,63.5h0M424.2,71.7h0M400.0,41.9h0M417.1,54.8h0M400.9,42.2h0M412.8,48.0h0M400.2,39.1h0M412.7,66.3h0M410.2,72.3h0M420.3,45.8h0M404.3,46.0h0M403.4,60.6h0M421.2,54.9h0M415.8,44.0h0M424.6,57.4h0M415.7,50.7h0M404.2,72.0h0M408.8,30.5h0M417.8,48.2h0M408.8,47.1h0M420.0,63.3h0M408.6,32.1h0M422.4,64.0h0M423.2,57.0h0M408.8,51.5h0M410.0,52.5h0M411.4,42.2h0M412.3,61.3h0M423.9,60.5h0M419.3,61.9h0M415.8,56.7h0M406.5,69.2h0M403.9,51.9h0M419.6,69.5h0M412.3,62.3h0M402.6,65.2h0M426.2,66.7h0M405.7,52.3h0M404.1,72.7h0M417.2,46.5h0M409.9,35.2h0M409.7,36.6h0M425.6,61.3h0M411.5,66.7h0M406.4,48.6h0M401.5,54.4h0M408.4,44.6h0M407.6,48.1h0M417.4,66.2h0M415.5,44.2h0M417.7,42.9h0M410.5,39.9h0M418.8,56.0h0M415.9,47.0h0M411.3,67.1h0M405.5,39.6h0M405.4,68.8h0M416.7,72.7h0M410.2,42.9h0M422.4,56.6h0M420.3,51.3h0M405.7,53.1h0M407.6,52.2h0M407.2,62.4h0M406.2,39.7h0M405.3,54.0h0M411.9,70.1h0M407.8,68.9h0M405.0,36.4h0M411.1,46.4h0M407.5,65.9h0M419.4,55.2h0M419.8,48.2h0M410.9,66.1h0M422.9,81.4h0M424.3,102.7h0M423.6,91.6h0M429.3,108.8h0M427.3,81.6h0M421.5,85.1h0M427.2,101.8h0M425.8,89.5h0M416.4,82.2h0M413.5,79.0h0M409.0,94.9h0M428.6,81.6h0M424.9,99.6h0M435.7,80.2h0M370.1,60.1h0M371.4,57.9h0M365.5,57.3h0M373.7,67.3h0M368.6,62.7h0M375.0,61.4h0M363.2,55.3h0M369.6,62.2h0M365.2,57.7h0M359.4,61.2h0M364.1,68.0h0M372.1,60.8h0M364.1,57.6h0M364.7,66.6h0M366.7,58.6h0M367.4,59.2h0" stroke="#84bce4" stroke-width="1.2" stroke-linecap="round" fill="none"/>
<path d="M403.6,66.3h0M412.6,43.6h0M405.8,35.1h0M410.9,69.9h0M408.5,63.8h0M414.1,66.4h0M405.4,54.5h0M416.4,67.9h0M412.7,67.2h0M409.2,59.6h0M401.8,46.5h0M421.3,76.7h0M432.5,103.6h0M418.1,98.8h0M419.6,85.1h0M414.4,91.3h0M435.1,99.8h0M419.3,86.0h0M438.2,88.8h0M411.5,88.3h0M425.9,79.7h0M432.3,88.4h0M418.5,102.1h0M434.6,87.1h0M435.5,103.8h0M420.6,108.2h0M413.5,77.2h0M420.5,88.5h0M433.7,84.7h0M412.1,76.1h0M410.5,82.5h0M428.2,91.6h0M423.7,84.5h0M411.1,98.2h0M433.8,91.5h0M412.4,91.2h0M428.5,74.2h0M430.1,75.7h0M428.9,88.7h0M431.4,97.6h0M436.9,80.0h0M424.6,83.6h0M416.3,98.0h0M409.4,95.7h0M432.0,77.3h0M436.2,90.8h0M410.3,87.6h0M411.5,96.3h0M420.1,94.3h0M417.5,106.1h0M427.9,83.5h0M414.5,85.8h0M427.4,78.5h0M438.5,95.8h0M433.4,87.7h0M427.6,93.9h0M427.6,78.9h0M425.2,97.6h0M416.1,80.2h0M438.1,88.1h0M437.0,83.6h0M422.8,109.0h0M414.8,77.3h0M436.9,99.2h0M433.8,102.0h0M419.7,94.0h0M417.4,96.9h0M420.8,98.3h0M430.3,77.4h0M425.6,81.7h0M430.3,86.3h0M408.0,75.6h0M410.0,91.3h0M434.7,103.0h0M407.7,88.6h0M422.1,101.5h0M435.7,98.1h0M435.8,97.2h0M414.5,95.8h0M436.1,93.2h0M417.6,74.8h0M437.5,101.5h0M430.3,87.7h0M421.3,101.2h0M427.1,76.7h0M411.5,98.9h0M411.4,85.4h0M409.8,85.2h0M415.6,98.9h0M425.3,87.8h0M416.9,77.7h0M425.8,106.0h0M436.1,90.3h0M418.9,104.4h0M412.1,93.2h0M422.9,76.2h0M429.1,105.0h0M425.6,101.2h0M423.7,110.7h0M411.6,93.0h0M427.4,89.3h0M426.9,109.4h0M426.1,89.8h0M404.6,79.5h0M427.9,100.9h0M438.0,95.8h0M437.1,84.8h0M419.0,96.9h0M427.9,83.3h0M435.7,104.2h0M415.5,74.6h0M407.4,81.0h0M432.4,93.2h0M438.1,85.6h0M409.0,97.8h0M427.3,88.7h0M440.2,90.2h0M433.8,85.2h0M438.3,95.6h0M430.9,105.2h0M408.6,86.9h0M421.3,107.2h0M426.3,90.5h0M419.3,83.0h0M412.5,90.4h0M408.9,80.2h0M424.4,92.5h0M440.2,94.0h0M430.2,104.6h0M411.3,97.7h0M416.1,95.6h0M426.5,102.4h0M424.2,84.8h0M429.3,108.6h0M410.0,99.5h0M412.9,73.9h0M431.2,80.8h0M411.1,89.2h0M435.1,83.3h0M420.2,75.7h0M433.0,81.7h0M422.5,92.1h0M434.7,92.0h0M424.3,96.3h0M421.9,75.2h0M419.9,89.6h0M409.6,84.1h0M421.7,108.7h0M422.9,81.4h0M407.7,80.4h0M423.3,100.5h0M429.1,74.5h0M427.5,81.1h0M407.0,94.6h0M429.3,91.4h0M417.6,77.7h0M409.4,87.7h0M417.3,75.8h0M425.8,99.3h0M434.7,92.9h0M432.8,106.6h0M425.0,86.0h0M414.3,89.0h0M411.5,75.8h0M419.6,89.4h0M433.2,105.7h0M438.6,101.1h0M432.7,83.1h0M405.9,82.1h0M422.3,96.8h0M426.8,94.9h0M420.3,86.0h0M411.4,93.5h0M432.0,97.5h0M430.4,74.5h0M435.2,94.3h0M425.1,91.1h0M436.3,93.2h0M405.0,83.7h0M431.2,108.2h0M424.2,95.7h0M425.6,82.9h0M420.1,91.3h0M415.9,81.1h0M424.4,86.6h0M427.2,93.5h0M407.4,82.3h0M417.6,85.6h0M411.3,91.8h0M412.3,101.7h0M427.6,91.6h0M432.3,84.7h0M426.8,92.8h0M426.3,111.7h0M428.3,78.0h0M414.6,86.6h0M431.6,107.0h0M421.5,92.4h0M406.9,96.3h0M405.3,80.8h0M435.3,85.6h0M417.6,89.2h0M417.3,84.6h0M432.5,89.0h0M408.7,82.7h0M417.1,96.9h0M425.6,78.8h0M423.1,107.3h0M435.9,91.9h0M424.2,79.1h0M431.0,76.7h0M421.8,100.1h0M418.9,86.4h0M410.4,87.9h0M421.1,79.4h0M415.7,73.4h0M418.5,74.9h0M414.8,101.2h0M426.2,98.7h0M416.9,98.0h0M431.5,86.9h0M424.5,75.4h0M434.9,93.9h0M428.0,85.0h0M421.8,102.1h0M424.0,95.0h0M426.7,102.9h0M408.8,81.1h0M416.8,87.1h0M429.8,86.1h0M431.8,78.9h0M418.6,91.7h0M421.5,100.1h0M433.7,85.0h0M432.6,102.7h0M433.4,82.8h0M423.0,75.0h0M418.3,85.8h0M426.2,103.6h0M422.6,94.1h0M406.7,81.2h0M420.0,104.2h0M431.5,79.6h0M409.4,80.1h0M439.9,97.8h0M433.9,96.1h0M423.8,107.2h0M423.5,88.0h0M433.0,79.6h0M434.3,81.6h0M408.1,88.0h0M412.7,85.6h0M435.3,96.5h0M427.9,77.1h0M407.1,78.9h0M410.0,94.6h0M414.7,73.9h0M424.1,109.2h0M409.7,85.9h0M423.6,99.6h0M416.1,88.0h0M416.4,77.3h0M417.9,86.5h0M433.7,89.5h0M406.3,75.6h0M409.1,83.8h0M431.8,75.2h0M428.8,73.9h0M419.2,75.7h0M429.2,102.6h0M432.2,74.7h0M439.9,89.0h0M427.6,84.7h0M431.8,100.3h0M435.4,81.5h0M427.9,81.7h0M420.1,99.4h0M408.2,99.2h0M430.1,90.0h0M417.8,90.6h0M422.4,107.3h0M425.1,78.4h0M427.3,110.5h0M417.9,104.3h0M427.3,86.3h0M420.4,93.9h0M437.3,98.9h0M411.4,82.4h0M432.8,85.4h0M407.4,84.3h0M436.3,84.7h0M417.0,83.4h0M435.5,101.0h0M425.5,81.1h0M417.1,101.7h0M421.0,86.8h0M437.6,92.0h0M414.8,79.8h0M412.1,81.1h0M409.6,77.3h0M424.0,77.8h0M433.5,97.1h0M425.2,110.9h0M414.3,91.3h0M426.3,74.7h0M412.7,89.8h0M421.8,99.4h0M425.2,85.4h0M413.5,99.2h0M405.8,82.8h0M426.8,74.7h0M426.2,96.8h0M407.7,84.4h0M419.7,85.7h0M408.9,75.6h0M409.1,100.2h0M433.2,91.4h0M422.7,87.3h0M437.0,98.2h0M408.6,85.2h0M409.1,100.5h0M416.6,77.9h0M431.6,105.4h0M411.8,84.4h0M419.9,78.3h0M424.3,73.1h0M415.7,80.1h0M410.2,109.5h0M428.3,119.2h0M410.0,104.4h0M409.0,112.3h0M424.9,118.4h0M413.2,118.4h0M407.7,104.5h0M425.1,119.6h0M408.4,114.1h0M425.3,120.3h0M416.3,111.7h0M410.1,108.3h0M413.5,118.5h0M424.3,128.2h0M423.5,125.4h0M420.6,131.5h0M430.0,125.2h0" stroke="#c88cce" stroke-width="1.2" stroke-linecap="round" fill="none"/>
<path d="M394.1,96.5h0M399.7,96.3h0M394.6,94.2h0M389.9,90.0h0M397.6,102.6h0M392.5,104.4h0M396.1,88.6h0M391.3,92.8h0M404.0,86.3h0M394.9,108.4h0M391.6,101.5h0M397.7,97.3h0M392.9,108.0h0M390.3,87.6h0M397.4,88.2h0M391.2,87.2h0M398.3,93.7h0M399.4,96.6h0M399.5,93.8h0M402.5,105.0h0M402.0,106.0h0M394.6,90.3h0M394.0,99.7h0M393.4,99.6h0M403.9,86.5h0M396.4,83.3h0M395.4,104.1h0M397.1,95.7h0M402.8,103.5h0M399.4,104.7h0M399.7,96.9h0M401.8,92.2h0M398.7,92.1h0M392.4,91.3h0M400.3,99.3h0M394.9,88.8h0M400.6,84.9h0M398.9,93.5h0M403.3,103.1h0M393.6,105.3h0M403.5,106.7h0M403.5,92.2h0M403.4,88.9h0M405.0,103.3h0M398.6,91.1h0M393.9,100.7h0M392.2,101.2h0M400.1,83.2h0M396.9,84.9h0M399.6,108.0h0M395.2,97.4h0M402.3,103.6h0M393.7,92.9h0M404.6,103.9h0M393.1,87.4h0M400.6,104.9h0M396.9,97.8h0M401.4,87.1h0M394.2,93.0h0M399.3,85.5h0M397.9,95.1h0M389.3,94.7h0M390.1,96.0h0M402.9,98.6h0M406.2,98.8h0M400.8,82.9h0M404.4,83.5h0M405.2,94.8h0M400.5,109.2h0M395.1,93.9h0M398.1,92.8h0M395.3,84.2h0M395.5,83.7h0M402.0,94.2h0M393.1,108.5h0M403.4,87.7h0M393.0,107.0h0M391.3,108.1h0M401.0,83.9h0M404.2,98.1h0M398.1,84.8h0M400.5,101.6h0M395.4,86.6h0M403.5,108.2h0M401.5,96.5h0M390.6,96.1h0M391.2,96.3h0M401.8,108.4h0M398.6,109.7h0M425.8,97.1h0M432.5,89.4h0M414.7,78.4h0M427.7,73.9h0M406.2,82.7h0M439.2,96.9h0M428.3,103.1h0M424.9,84.7h0M428.7,84.7h0M431.5,82.7h0M404.5,110.2h0M394.1,114.1h0M400.0,132.3h0M411.9,126.5h0M388.7,135.2h0" stroke="#d0cab8" stroke-width="1.2" stroke-linecap="round" fill="none"/>
<path d="M394.5,87.4h0M394.9,98.3h0M399.1,90.2h0M404.4,102.1h0M393.3,83.0h0M399.4,102.0h0M414.1,111.5h0M406.9,104.7h0M409.2,109.1h0M424.4,116.6h0M405.7,110.6h0M413.8,127.2h0M396.7,129.9h0M409.2,119.0h0M409.9,131.9h0M411.6,118.0h0M395.4,129.4h0M389.0,136.2h0M405.4,130.0h0M386.4,127.3h0M404.2,130.3h0M399.8,134.0h0M395.6,131.9h0M401.9,111.4h0M402.5,134.3h0M396.3,111.7h0M406.5,114.8h0M401.9,134.0h0M405.2,118.6h0M395.9,137.5h0M403.8,112.1h0M391.9,121.5h0M412.6,129.8h0M387.8,135.6h0M409.5,134.8h0M390.4,129.2h0M390.5,120.6h0M402.5,119.3h0M399.2,129.7h0M400.3,133.8h0M402.0,125.8h0M398.1,115.6h0M393.1,110.4h0M404.0,134.3h0M398.5,129.8h0M387.7,125.7h0M408.5,120.1h0M396.7,129.0h0M400.7,134.0h0M405.5,130.7h0M389.6,124.5h0M408.4,129.1h0M410.5,125.2h0M394.9,117.0h0M398.0,133.3h0M393.2,134.4h0M407.8,133.5h0M399.0,117.4h0M402.4,126.8h0M409.3,132.1h0M395.5,138.9h0M397.5,134.7h0M388.7,135.2h0M403.2,127.5h0M389.4,130.1h0M404.5,136.1h0M410.7,126.7h0M390.2,111.6h0M411.0,129.1h0M393.2,134.3h0M392.3,132.2h0M410.9,116.7h0M393.0,119.4h0M397.2,130.2h0M405.2,116.4h0M387.9,124.3h0M392.0,130.4h0M405.7,131.5h0M390.3,134.2h0M399.6,136.8h0M386.0,123.9h0M391.8,114.8h0M391.2,113.4h0M411.9,126.4h0M393.4,134.6h0M387.0,131.8h0M410.4,125.2h0M397.8,129.1h0M408.4,114.4h0M387.6,124.0h0M407.5,130.6h0M411.1,131.3h0M387.7,121.5h0M392.9,133.7h0M408.8,131.1h0M401.0,138.7h0M409.5,126.5h0M397.1,137.5h0M392.0,134.4h0M402.7,138.5h0M391.1,136.5h0M399.9,133.9h0M394.4,136.2h0M394.7,113.3h0M408.1,124.9h0M399.7,134.6h0M390.9,115.2h0M388.7,134.0h0M410.4,126.0h0M408.0,129.1h0M405.5,116.9h0M407.4,125.3h0M388.9,124.5h0M393.3,132.0h0M398.9,125.1h0M397.5,131.6h0M388.6,132.7h0M408.5,125.7h0M404.8,123.6h0M409.8,121.4h0M402.4,113.4h0M400.3,134.2h0M402.1,117.7h0M406.1,115.9h0M393.6,127.8h0M407.6,125.0h0M405.5,125.8h0M391.7,121.4h0M394.0,114.0h0M391.3,111.4h0M407.4,124.8h0M401.0,113.1h0M396.3,119.2h0M393.6,131.7h0M393.6,138.3h0M411.1,128.9h0M401.1,112.4h0M410.1,128.0h0M406.9,131.0h0M406.6,128.8h0M401.5,132.2h0M389.8,119.6h0M402.9,129.9h0M390.5,111.0h0M408.4,133.8h0M409.0,134.8h0M385.5,129.4h0M401.9,127.2h0M414.1,122.5h0M398.9,129.1h0M393.5,116.5h0M395.7,115.8h0M402.0,114.8h0M389.9,111.9h0M406.1,128.4h0M409.5,124.9h0M406.0,124.0h0M393.4,111.9h0M393.2,127.2h0M387.7,132.2h0M410.4,131.2h0M400.0,112.6h0M388.8,135.6h0M410.4,133.9h0M401.0,139.1h0M396.2,111.5h0M407.8,130.1h0M394.2,134.9h0M405.0,117.8h0M415.2,126.5h0M404.2,124.6h0M398.8,129.1h0M389.8,120.8h0M394.6,130.3h0M405.9,125.2h0M389.8,119.7h0M390.5,131.7h0M396.7,115.0h0M412.7,127.0h0M396.9,134.7h0M389.6,122.8h0M404.2,136.3h0M387.4,133.7h0M408.7,128.0h0M392.4,129.9h0M400.2,135.0h0M402.7,116.7h0M397.1,132.2h0M388.7,123.6h0M392.8,131.5h0M403.6,110.7h0M403.7,133.1h0M392.5,113.1h0M389.2,130.8h0M404.7,136.8h0M414.6,123.2h0M412.5,124.2h0M400.5,136.7h0M404.0,132.5h0M412.1,133.2h0M389.0,126.4h0M397.0,134.6h0M394.5,138.5h0M389.5,132.0h0M403.8,131.6h0M402.9,136.0h0M402.0,132.7h0M414.2,125.8h0M403.1,111.7h0M402.5,134.2h0" stroke="#22b0ba" stroke-width="1.2" stroke-linecap="round" fill="none"/>
<path d="M409.4,113.9h0M409.2,107.2h0M417.2,114.0h0M413.5,119.1h0M414.6,120.6h0M418.3,109.2h0M419.6,117.1h0M408.9,105.8h0M418.2,118.4h0M416.4,117.1h0M411.5,103.8h0M410.3,101.2h0M408.0,107.8h0M414.5,119.9h0M422.0,115.5h0M410.0,114.0h0M423.6,114.2h0M417.5,119.8h0M407.1,107.0h0M413.9,105.5h0M415.2,121.3h0M419.5,109.9h0M414.1,110.4h0M417.4,120.3h0M415.3,116.1h0" stroke="#a898c0" stroke-width="1.2" stroke-linecap="round" fill="none"/>
<path d="M394.9,138.0h0M392.0,135.6h0M405.5,135.4h0M402.0,137.9h0M391.6,134.9h0M387.2,136.3h0M409.3,131.5h0M409.4,133.2h0M387.2,130.4h0M399.5,133.8h0M397.6,133.8h0M389.8,136.4h0M394.7,135.8h0M408.9,134.1h0M402.1,135.1h0M395.8,135.0h0M397.2,137.5h0M407.5,133.5h0M392.6,135.5h0M393.6,136.7h0M411.2,132.0h0M404.6,139.0h0M395.7,133.3h0M396.0,136.5h0M393.0,135.7h0M406.9,134.0h0M391.1,135.8h0M399.1,132.6h0M387.0,132.3h0M400.2,134.4h0M388.9,133.2h0M403.3,136.2h0M395.2,135.9h0M396.2,139.3h0M397.7,133.2h0M390.4,131.9h0M411.2,131.8h0M393.2,137.0h0M391.6,138.9h0M405.7,134.0h0M396.5,132.3h0M393.4,132.7h0M407.2,134.3h0M401.8,133.7h0M404.5,136.1h0M409.3,135.7h0M405.2,137.8h0M396.5,132.1h0M402.2,137.1h0M393.9,136.5h0M400.1,138.3h0M395.2,136.0h0M397.1,134.6h0M391.7,138.2h0" stroke="#0e939c" stroke-width="1.2" stroke-linecap="round" fill="none"/>
<path d="M422.0,133.5h0M427.2,126.6h0M421.1,128.1h0M424.1,131.2h0" stroke="#b878c4" stroke-width="1.2" stroke-linecap="round" fill="none"/>
<path d="M439.6,125.0h0M437.6,108.8h0M436.7,120.4h0M442.1,126.9h0M433.5,112.1h0M436.0,136.0h0M435.5,135.5h0M432.1,131.9h0M443.3,118.2h0M433.6,136.6h0M432.6,131.8h0M432.1,113.8h0M439.9,113.2h0M439.9,128.2h0M436.9,107.7h0M439.2,124.5h0M431.0,128.7h0M444.7,119.6h0M442.9,128.6h0M434.4,127.4h0M432.6,126.6h0M444.6,132.2h0M442.4,133.3h0M432.0,118.7h0M433.2,120.8h0M435.2,106.9h0M441.1,115.0h0M439.9,111.2h0M433.2,121.3h0M441.3,120.0h0M444.5,123.2h0M443.2,130.5h0M443.1,127.0h0M437.9,136.3h0M444.6,133.9h0M442.0,120.2h0M438.7,119.9h0M441.0,136.6h0M433.3,121.9h0M438.1,112.3h0M438.6,109.0h0M436.5,128.5h0M441.8,124.8h0M436.4,127.6h0M443.2,136.2h0M438.5,123.6h0M434.9,131.1h0M432.3,111.9h0M434.3,135.3h0M439.1,123.4h0M443.7,128.0h0M445.4,132.6h0M431.4,123.1h0M439.1,135.1h0M434.2,116.9h0M440.1,113.2h0M434.4,116.7h0M439.0,127.4h0M441.0,121.6h0M429.8,117.2h0M435.6,127.9h0M439.5,108.8h0M433.8,126.8h0M443.0,120.7h0M440.6,114.1h0M439.4,119.2h0M441.5,132.4h0M437.4,124.3h0M438.2,131.3h0M430.6,119.6h0M432.6,134.4h0M438.2,111.8h0M436.2,118.1h0M443.8,126.7h0M437.6,119.2h0M444.0,118.4h0M437.8,128.8h0M436.0,126.5h0M433.7,122.2h0M436.5,118.7h0M445.9,127.3h0M434.3,130.3h0M432.1,120.0h0M439.9,122.4h0M436.0,109.4h0M438.7,106.9h0M437.8,110.1h0M431.9,118.8h0M439.3,117.2h0M435.8,120.5h0M432.9,106.6h0M437.4,131.3h0M431.9,114.2h0M436.3,133.3h0M443.4,129.3h0M438.9,135.2h0M437.7,119.4h0M443.9,124.1h0M436.4,123.5h0M431.5,123.0h0M437.8,122.6h0M432.0,123.1h0M444.5,131.9h0M432.4,132.8h0M439.6,109.1h0M440.1,114.7h0M443.1,134.4h0M434.4,133.2h0M443.7,126.0h0M438.4,125.2h0M439.3,116.2h0M436.5,132.2h0M431.2,113.0h0M442.1,120.6h0M438.0,118.1h0M439.4,125.7h0M433.7,127.0h0M433.1,136.1h0M434.1,116.1h0M432.2,118.5h0M434.7,126.9h0M435.3,126.4h0M436.2,132.8h0M445.1,134.2h0M439.7,137.6h0M433.0,120.9h0M440.8,138.5h0M436.8,124.2h0M437.6,109.7h0M439.6,123.4h0M435.8,118.6h0M438.4,113.9h0M433.9,135.2h0M437.0,128.4h0M432.9,113.6h0M436.0,120.2h0M435.5,127.1h0M442.6,131.1h0M440.0,133.4h0M434.2,127.8h0M431.9,128.7h0M438.7,120.2h0M444.0,128.2h0M441.1,121.4h0M436.9,119.4h0M432.9,115.6h0M439.1,108.6h0M438.4,109.3h0M435.0,107.2h0M436.4,112.3h0M437.2,120.3h0M436.4,135.4h0M440.5,129.7h0M439.9,120.9h0M436.9,123.2h0M435.2,113.6h0M443.6,121.7h0M440.0,109.7h0M444.4,127.1h0M443.2,136.7h0M440.4,135.3h0M435.4,119.1h0M436.8,110.9h0M440.3,114.0h0M438.3,123.5h0M442.6,116.6h0M443.9,119.4h0M444.8,129.7h0M439.5,118.9h0M439.8,114.6h0M434.3,121.6h0M435.6,114.8h0M432.4,122.8h0M435.8,109.1h0M441.1,109.8h0M446.4,129.5h0M433.2,132.8h0M437.5,113.4h0M438.4,126.3h0M438.8,113.5h0M445.4,132.4h0" stroke="#a4228a" stroke-width="1.2" stroke-linecap="round" fill="none"/>
<text x="396.5" y="26.3" font-size="6.3" fill="#1c1c1c" stroke="#1c1c1c" stroke-width="0.12" text-anchor="middle">HSC</text>
<text x="388.3" y="45.8" font-size="6.3" fill="#1c1c1c" stroke="#1c1c1c" stroke-width="0.12" text-anchor="middle">MPP-I</text>
<text x="412.3" y="53.5" font-size="6.3" fill="#1c1c1c" stroke="#1c1c1c" stroke-width="0.12" text-anchor="middle">MPP-II</text>
<text x="344.5" y="69.8" font-size="6.3" fill="#1c1c1c" stroke="#1c1c1c" stroke-width="0.12" text-anchor="middle">MEP</text>
<text x="379.5" y="98.5" font-size="6.3" fill="#1c1c1c" stroke="#1c1c1c" stroke-width="0.12" text-anchor="middle">GMP</text>
<text x="398.7" y="101" font-size="6.3" fill="#1c1c1c" stroke="#1c1c1c" stroke-width="0.12" text-anchor="middle">Cyc</text>
<text x="429.5" y="95.5" font-size="6.3" fill="#1c1c1c" stroke="#1c1c1c" stroke-width="0.12" text-anchor="middle">Ly-I</text>
<text x="414.5" y="110.8" font-size="6.3" fill="#1c1c1c" stroke="#1c1c1c" stroke-width="0.12" text-anchor="middle">DC-I</text>
<text x="399.5" y="136.3" font-size="6.3" fill="#1c1c1c" stroke="#1c1c1c" stroke-width="0.12" text-anchor="middle">DC-Mono</text>
<text x="422.8" y="131.5" font-size="5.6" fill="#1c1c1c" stroke="#1c1c1c" stroke-width="0.12" text-anchor="middle">Ly-III</text>
<text x="440" y="131.3" font-size="5.6" fill="#1c1c1c" stroke="#1c1c1c" stroke-width="0.12" text-anchor="middle">Ly-II</text>
<text x="465.2" y="39.4" font-size="6.4" fill="#2e2e2e" stroke="#2e2e2e" stroke-width="0.15">FL clusters</text>
<circle cx="467.5" cy="46.6" r="2.05" fill="#ffffff" stroke="#444" stroke-width="0.8"/>
<text x="472.4" y="48.8" font-size="6.2" fill="#5a88b4" stroke="#5a88b4" stroke-width="0.1">Cyc</text>
<circle cx="467.5" cy="53.53" r="2.05" fill="#1f7a62" stroke="#1a4a40" stroke-width="0.8"/>
<text x="472.4" y="55.73" font-size="6.2" fill="#5a88b4" stroke="#5a88b4" stroke-width="0.1">DC-I</text>
<circle cx="467.5" cy="60.46" r="2.05" fill="#2f9f92" stroke="#1a5a55" stroke-width="0.8"/>
<text x="472.4" y="62.66" font-size="6.2" fill="#5a88b4" stroke="#5a88b4" stroke-width="0.1">DC-Mono</text>
<circle cx="467.5" cy="67.39" r="2.05" fill="#4a3fa2" stroke="#2a2460" stroke-width="0.8"/>
<text x="472.4" y="69.59" font-size="6.2" fill="#5a88b4" stroke="#5a88b4" stroke-width="0.1">GMP</text>
<circle cx="467.5" cy="74.32" r="2.05" fill="#dcdc28" stroke="#555520" stroke-width="0.8"/>
<text x="472.4" y="76.52" font-size="6.2" fill="#5a88b4" stroke="#5a88b4" stroke-width="0.1">HSC</text>
<circle cx="467.5" cy="81.25" r="2.05" fill="#d488b8" stroke="#603050" stroke-width="0.8"/>
<text x="472.4" y="83.45" font-size="6.2" fill="#5a88b4" stroke="#5a88b4" stroke-width="0.1">Ly-I</text>
<circle cx="467.5" cy="88.18" r="2.05" fill="#a42a74" stroke="#501838" stroke-width="0.8"/>
<text x="472.4" y="90.38" font-size="6.2" fill="#5a88b4" stroke="#5a88b4" stroke-width="0.1">Ly-II</text>
<circle cx="467.5" cy="95.11" r="2.05" fill="#d24848" stroke="#602020" stroke-width="0.8"/>
<text x="472.4" y="97.31" font-size="6.2" fill="#5a88b4" stroke="#5a88b4" stroke-width="0.1">MEP</text>
<circle cx="467.5" cy="102.04" r="2.05" fill="#ecc4cc" stroke="#604050" stroke-width="0.8"/>
<text x="472.4" y="104.24" font-size="6.2" fill="#5a88b4" stroke="#5a88b4" stroke-width="0.1">MPP-I</text>
<circle cx="467.5" cy="108.97" r="2.05" fill="#b4cce8" stroke="#404860" stroke-width="0.8"/>
<text x="472.4" y="111.17" font-size="6.2" fill="#5a88b4" stroke="#5a88b4" stroke-width="0.1">MPP-II</text>
<circle cx="467.5" cy="115.9" r="2.05" fill="#744486" stroke="#3a2040" stroke-width="0.8"/>
<text x="472.4" y="118.1" font-size="6.2" fill="#5a88b4" stroke="#5a88b4" stroke-width="0.1">Ly-III</text>
<rect x="41.5" y="183.5" width="471.5" height="81" fill="none" stroke="#111" stroke-width="1"/>
<line x1="39" y1="190.4" x2="41.5" y2="190.4" stroke="#111" stroke-width="0.8"/>
<text x="34.8" y="192.7" font-size="6.5" fill="#2656a2" stroke="#2656a2" stroke-width="0.12" text-anchor="end">HSC</text>
<line x1="39" y1="197.23" x2="41.5" y2="197.23" stroke="#111" stroke-width="0.8"/>
<text x="34.8" y="199.53" font-size="6.5" fill="#2656a2" stroke="#2656a2" stroke-width="0.12" text-anchor="end">MPP-I</text>
<line x1="39" y1="204.06" x2="41.5" y2="204.06" stroke="#111" stroke-width="0.8"/>
<text x="34.8" y="206.36" font-size="6.5" fill="#2656a2" stroke="#2656a2" stroke-width="0.12" text-anchor="end">MPP-II</text>
<line x1="39" y1="210.89" x2="41.5" y2="210.89" stroke="#111" stroke-width="0.8"/>
<text x="34.8" y="213.19" font-size="6.5" fill="#2656a2" stroke="#2656a2" stroke-width="0.12" text-anchor="end">Ly-I</text>
<line x1="39" y1="217.72" x2="41.5" y2="217.72" stroke="#111" stroke-width="0.8"/>
<text x="34.8" y="220.02" font-size="6.5" fill="#2656a2" stroke="#2656a2" stroke-width="0.12" text-anchor="end">Ly-II</text>
<line x1="39" y1="224.55" x2="41.5" y2="224.55" stroke="#111" stroke-width="0.8"/>
<text x="34.8" y="226.85" font-size="6.5" fill="#2656a2" stroke="#2656a2" stroke-width="0.12" text-anchor="end">GMP</text>
<line x1="39" y1="231.38" x2="41.5" y2="231.38" stroke="#111" stroke-width="0.8"/>
<text x="34.8" y="233.68" font-size="6.5" fill="#2656a2" stroke="#2656a2" stroke-width="0.12" text-anchor="end">DC-Mono</text>
<line x1="39" y1="238.21" x2="41.5" y2="238.21" stroke="#111" stroke-width="0.8"/>
<text x="34.8" y="240.51" font-size="6.5" fill="#2656a2" stroke="#2656a2" stroke-width="0.12" text-anchor="end">MEP</text>
<line x1="39" y1="245.04" x2="41.5" y2="245.04" stroke="#111" stroke-width="0.8"/>
<text x="34.8" y="247.34" font-size="6.5" fill="#2656a2" stroke="#2656a2" stroke-width="0.12" text-anchor="end">Cyc</text>
<line x1="39" y1="251.87" x2="41.5" y2="251.87" stroke="#111" stroke-width="0.8"/>
<text x="34.8" y="254.17" font-size="6.5" fill="#2656a2" stroke="#2656a2" stroke-width="0.12" text-anchor="end">DC-I</text>
<line x1="39" y1="258.7" x2="41.5" y2="258.7" stroke="#111" stroke-width="0.8"/>
<text x="34.8" y="261" font-size="6.5" fill="#2656a2" stroke="#2656a2" stroke-width="0.12" text-anchor="end">Ly-III</text>
<circle cx="46.9" cy="190.4" r="2.2" fill="#db5f44" stroke="#c0604a" stroke-width="0.5"/>
<circle cx="52.45" cy="190.4" r="2.2" fill="#db5f44" stroke="#c0604a" stroke-width="0.5"/>
<circle cx="57.99" cy="190.4" r="2.2" fill="#db5f44" stroke="#c0604a" stroke-width="0.5"/>
<circle cx="63.54" cy="190.4" r="2.2" fill="#db5f44" stroke="#c0604a" stroke-width="0.5"/>
<circle cx="69.09" cy="190.4" r="2.2" fill="#db5f44" stroke="#c0604a" stroke-width="0.5"/>
<circle cx="74.63" cy="190.4" r="2.2" fill="#db5f44" stroke="#c0604a" stroke-width="0.5"/>
<circle cx="80.18" cy="190.4" r="0.6" fill="#d0d0d8"/>
<circle cx="85.73" cy="190.4" r="2.0" fill="#e2989a" stroke="#c6868a" stroke-width="0.55"/>
<circle cx="91.28" cy="190.4" r="2.0" fill="#e2989a" stroke="#c6868a" stroke-width="0.55"/>
<circle cx="96.82" cy="190.4" r="0.6" fill="#d0d0d8"/>
<circle cx="102.37" cy="190.4" r="1.95" fill="#f4d4d4" stroke="#d0a0a0" stroke-width="0.6"/>
<circle cx="107.92" cy="190.4" r="1.95" fill="#f4d4d4" stroke="#d0a0a0" stroke-width="0.6"/>
<circle cx="113.46" cy="190.4" r="1.95" fill="#f4d4d4" stroke="#d0a0a0" stroke-width="0.6"/>
<circle cx="119.01" cy="190.4" r="1.95" fill="#f4d4d4" stroke="#d0a0a0" stroke-width="0.6"/>
<circle cx="124.56" cy="190.4" r="1.95" fill="#f4d4d4" stroke="#d0a0a0" stroke-width="0.6"/>
<circle cx="130.1" cy="190.4" r="2.0" fill="#e2989a" stroke="#c6868a" stroke-width="0.55"/>
<circle cx="135.65" cy="190.4" r="1.9" fill="#ffffff" stroke="#c0c0c0" stroke-width="0.55"/>
<circle cx="141.2" cy="190.4" r="1.9" fill="#ffffff" stroke="#c0c0c0" stroke-width="0.55"/>
<circle cx="146.75" cy="190.4" r="1.25" fill="#d6d6de" stroke="#cacad2" stroke-width="0.3"/>
<circle cx="152.29" cy="190.4" r="1.25" fill="#d6d6de" stroke="#cacad2" stroke-width="0.3"/>
<circle cx="157.84" cy="190.4" r="1.95" fill="#f4d4d4" stroke="#d0a0a0" stroke-width="0.6"/>
<circle cx="163.39" cy="190.4" r="1.95" fill="#f4d4d4" stroke="#d0a0a0" stroke-width="0.6"/>
<circle cx="168.93" cy="190.4" r="0.6" fill="#d0d0d8"/>
<circle cx="174.48" cy="190.4" r="1.25" fill="#d6d6de" stroke="#cacad2" stroke-width="0.3"/>
<circle cx="180.03" cy="190.4" r="0.6" fill="#d0d0d8"/>
<circle cx="185.57" cy="190.4" r="1.25" fill="#d6d6de" stroke="#cacad2" stroke-width="0.3"/>
<circle cx="191.12" cy="190.4" r="1.95" fill="#d8d8ee" stroke="#b0b0c8" stroke-width="0.6"/>
<circle cx="196.67" cy="190.4" r="1.25" fill="#d6d6de" stroke="#cacad2" stroke-width="0.3"/>
<circle cx="202.22" cy="190.4" r="0.6" fill="#d0d0d8"/>
<circle cx="207.76" cy="190.4" r="1.25" fill="#d6d6de" stroke="#cacad2" stroke-width="0.3"/>
<circle cx="213.31" cy="190.4" r="1.25" fill="#d6d6de" stroke="#cacad2" stroke-width="0.3"/>
<circle cx="218.86" cy="190.4" r="0.6" fill="#d0d0d8"/>
<circle cx="224.4" cy="190.4" r="1.25" fill="#d6d6de" stroke="#cacad2" stroke-width="0.3"/>
<circle cx="229.95" cy="190.4" r="0.6" fill="#d0d0d8"/>
<circle cx="235.5" cy="190.4" r="1.25" fill="#d6d6de" stroke="#cacad2" stroke-width="0.3"/>
<circle cx="241.04" cy="190.4" r="1.25" fill="#d6d6de" stroke="#cacad2" stroke-width="0.3"/>
<circle cx="246.59" cy="190.4" r="1.95" fill="#d8d8ee" stroke="#b0b0c8" stroke-width="0.6"/>
<circle cx="252.14" cy="190.4" r="1.95" fill="#d8d8ee" stroke="#b0b0c8" stroke-width="0.6"/>
<circle cx="257.69" cy="190.4" r="0.6" fill="#d0d0d8"/>
<circle cx="263.23" cy="190.4" r="1.95" fill="#d8d8ee" stroke="#b0b0c8" stroke-width="0.6"/>
<circle cx="268.78" cy="190.4" r="0.6" fill="#d0d0d8"/>
<circle cx="274.33" cy="190.4" r="1.25" fill="#d6d6de" stroke="#cacad2" stroke-width="0.3"/>
<circle cx="279.87" cy="190.4" r="1.25" fill="#d6d6de" stroke="#cacad2" stroke-width="0.3"/>
<circle cx="285.42" cy="190.4" r="0.6" fill="#d0d0d8"/>
<circle cx="290.97" cy="190.4" r="0.6" fill="#d0d0d8"/>
<circle cx="296.51" cy="190.4" r="1.25" fill="#d6d6de" stroke="#cacad2" stroke-width="0.3"/>
<circle cx="302.06" cy="190.4" r="1.25" fill="#d6d6de" stroke="#cacad2" stroke-width="0.3"/>
<circle cx="307.61" cy="190.4" r="0.6" fill="#d0d0d8"/>
<circle cx="313.16" cy="190.4" r="0.6" fill="#d0d0d8"/>
<circle cx="318.7" cy="190.4" r="0.6" fill="#d0d0d8"/>
<circle cx="324.25" cy="190.4" r="1.25" fill="#d6d6de" stroke="#cacad2" stroke-width="0.3"/>
<circle cx="329.8" cy="190.4" r="1.25" fill="#d6d6de" stroke="#cacad2" stroke-width="0.3"/>
<circle cx="335.34" cy="190.4" r="1.25" fill="#d6d6de" stroke="#cacad2" stroke-width="0.3"/>
<circle cx="340.89" cy="190.4" r="1.25" fill="#d6d6de" stroke="#cacad2" stroke-width="0.3"/>
<circle cx="346.44" cy="190.4" r="0.6" fill="#d0d0d8"/>
<circle cx="351.98" cy="190.4" r="0.6" fill="#d0d0d8"/>
<circle cx="357.53" cy="190.4" r="1.25" fill="#d6d6de" stroke="#cacad2" stroke-width="0.3"/>
<circle cx="363.08" cy="190.4" r="1.25" fill="#d6d6de" stroke="#cacad2" stroke-width="0.3"/>
<circle cx="368.63" cy="190.4" r="1.25" fill="#d6d6de" stroke="#cacad2" stroke-width="0.3"/>
<circle cx="374.17" cy="190.4" r="0.6" fill="#d0d0d8"/>
<circle cx="379.72" cy="190.4" r="1.25" fill="#d6d6de" stroke="#cacad2" stroke-width="0.3"/>
<circle cx="385.27" cy="190.4" r="1.25" fill="#d6d6de" stroke="#cacad2" stroke-width="0.3"/>
<circle cx="390.81" cy="190.4" r="1.25" fill="#d6d6de" stroke="#cacad2" stroke-width="0.3"/>
<circle cx="396.36" cy="190.4" r="1.25" fill="#d6d6de" stroke="#cacad2" stroke-width="0.3"/>
<circle cx="401.91" cy="190.4" r="1.9" fill="#ffffff" stroke="#c0c0c0" stroke-width="0.55"/>
<circle cx="407.45" cy="190.4" r="0.6" fill="#d0d0d8"/>
<circle cx="413" cy="190.4" r="0.6" fill="#d0d0d8"/>
<circle cx="418.55" cy="190.4" r="1.25" fill="#d6d6de" stroke="#cacad2" stroke-width="0.3"/>
<circle cx="424.1" cy="190.4" r="0.6" fill="#d0d0d8"/>
<circle cx="429.64" cy="190.4" r="1.25" fill="#d6d6de" stroke="#cacad2" stroke-width="0.3"/>
<circle cx="435.19" cy="190.4" r="1.95" fill="#f4d4d4" stroke="#d0a0a0" stroke-width="0.6"/>
<circle cx="440.74" cy="190.4" r="1.25" fill="#d6d6de" stroke="#cacad2" stroke-width="0.3"/>
<circle cx="446.28" cy="190.4" r="1.25" fill="#d6d6de" stroke="#cacad2" stroke-width="0.3"/>
<circle cx="451.83" cy="190.4" r="0.6" fill="#d0d0d8"/>
<circle cx="457.38" cy="190.4" r="1.25" fill="#d6d6de" stroke="#cacad2" stroke-width="0.3"/>
<circle cx="462.92" cy="190.4" r="0.6" fill="#d0d0d8"/>
<circle cx="468.47" cy="190.4" r="0.6" fill="#d0d0d8"/>
<circle cx="474.02" cy="190.4" r="0.6" fill="#d0d0d8"/>
<circle cx="479.57" cy="190.4" r="0.6" fill="#d0d0d8"/>
<circle cx="485.11" cy="190.4" r="0.6" fill="#d0d0d8"/>
<circle cx="490.66" cy="190.4" r="1.25" fill="#d6d6de" stroke="#cacad2" stroke-width="0.3"/>
<circle cx="496.21" cy="190.4" r="0.6" fill="#d0d0d8"/>
<circle cx="501.75" cy="190.4" r="0.6" fill="#d0d0d8"/>
<circle cx="507.3" cy="190.4" r="0.6" fill="#d0d0d8"/>
<circle cx="46.9" cy="197.23" r="1.9" fill="#ffffff" stroke="#c0c0c0" stroke-width="0.55"/>
<circle cx="52.45" cy="197.23" r="1.95" fill="#f4d4d4" stroke="#d0a0a0" stroke-width="0.6"/>
<circle cx="57.99" cy="197.23" r="1.25" fill="#d6d6de" stroke="#cacad2" stroke-width="0.3"/>
<circle cx="63.54" cy="197.23" r="1.95" fill="#f4d4d4" stroke="#d0a0a0" stroke-width="0.6"/>
<circle cx="69.09" cy="197.23" r="1.95" fill="#f4d4d4" stroke="#d0a0a0" stroke-width="0.6"/>
<circle cx="74.63" cy="197.23" r="1.95" fill="#f4d4d4" stroke="#d0a0a0" stroke-width="0.6"/>
<circle cx="80.18" cy="197.23" r="0.6" fill="#d0d0d8"/>
<circle cx="85.73" cy="197.23" r="1.9" fill="#ffffff" stroke="#c0c0c0" stroke-width="0.55"/>
<circle cx="91.28" cy="197.23" r="1.95" fill="#f4d4d4" stroke="#d0a0a0" stroke-width="0.6"/>
<circle cx="96.82" cy="197.23" r="1.25" fill="#d6d6de" stroke="#cacad2" stroke-width="0.3"/>
<circle cx="102.37" cy="197.23" r="1.95" fill="#f4d4d4" stroke="#d0a0a0" stroke-width="0.6"/>
<circle cx="107.92" cy="197.23" r="1.95" fill="#f4d4d4" stroke="#d0a0a0" stroke-width="0.6"/>
<circle cx="113.46" cy="197.23" r="1.95" fill="#f4d4d4" stroke="#d0a0a0" stroke-width="0.6"/>
<circle cx="119.01" cy="197.23" r="1.95" fill="#f4d4d4" stroke="#d0a0a0" stroke-width="0.6"/>
<circle cx="124.56" cy="197.23" r="1.95" fill="#f4d4d4" stroke="#d0a0a0" stroke-width="0.6"/>
<circle cx="130.1" cy="197.23" r="1.95" fill="#f4d4d4" stroke="#d0a0a0" stroke-width="0.6"/>
<circle cx="135.65" cy="197.23" r="1.9" fill="#ffffff" stroke="#c0c0c0" stroke-width="0.55"/>
<circle cx="141.2" cy="197.23" r="1.95" fill="#f4d4d4" stroke="#d0a0a0" stroke-width="0.6"/>
<circle cx="146.75" cy="197.23" r="0.6" fill="#d0d0d8"/>
<circle cx="152.29" cy="197.23" r="1.9" fill="#ffffff" stroke="#c0c0c0" stroke-width="0.55"/>
<circle cx="157.84" cy="197.23" r="1.95" fill="#f4d4d4" stroke="#d0a0a0" stroke-width="0.6"/>
<circle cx="163.39" cy="197.23" r="1.95" fill="#f4d4d4" stroke="#d0a0a0" stroke-width="0.6"/>
<circle cx="168.93" cy="197.23" r="0.6" fill="#d0d0d8"/>
<circle cx="174.48" cy="197.23" r="1.25" fill="#d6d6de" stroke="#cacad2" stroke-width="0.3"/>
<circle cx="180.03" cy="197.23" r="0.6" fill="#d0d0d8"/>
<circle cx="185.57" cy="197.23" r="1.25" fill="#d6d6de" stroke="#cacad2" stroke-width="0.3"/>
<circle cx="191.12" cy="197.23" r="1.9" fill="#ffffff" stroke="#c0c0c0" stroke-width="0.55"/>
<circle cx="196.67" cy="197.23" r="1.25" fill="#d6d6de" stroke="#cacad2" stroke-width="0.3"/>
<circle cx="202.22" cy="197.23" r="0.6" fill="#d0d0d8"/>
<circle cx="207.76" cy="197.23" r="1.25" fill="#d6d6de" stroke="#cacad2" stroke-width="0.3"/>
<circle cx="213.31" cy="197.23" r="1.25" fill="#d6d6de" stroke="#cacad2" stroke-width="0.3"/>
<circle cx="218.86" cy="197.23" r="0.6" fill="#d0d0d8"/>
<circle cx="224.4" cy="197.23" r="1.9" fill="#ffffff" stroke="#c0c0c0" stroke-width="0.55"/>
<circle cx="229.95" cy="197.23" r="0.6" fill="#d0d0d8"/>
<circle cx="235.5" cy="197.23" r="1.25" fill="#d6d6de" stroke="#cacad2" stroke-width="0.3"/>
<circle cx="241.04" cy="197.23" r="1.9" fill="#ffffff" stroke="#c0c0c0" stroke-width="0.55"/>
<circle cx="246.59" cy="197.23" r="1.9" fill="#ffffff" stroke="#c0c0c0" stroke-width="0.55"/>
<circle cx="252.14" cy="197.23" r="1.9" fill="#ffffff" stroke="#c0c0c0" stroke-width="0.55"/>
<circle cx="257.69" cy="197.23" r="0.6" fill="#d0d0d8"/>
<circle cx="263.23" cy="197.23" r="1.9" fill="#ffffff" stroke="#c0c0c0" stroke-width="0.55"/>
<circle cx="268.78" cy="197.23" r="0.6" fill="#d0d0d8"/>
<circle cx="274.33" cy="197.23" r="1.25" fill="#d6d6de" stroke="#cacad2" stroke-width="0.3"/>
<circle cx="279.87" cy="197.23" r="1.9" fill="#ffffff" stroke="#c0c0c0" stroke-width="0.55"/>
<circle cx="285.42" cy="197.23" r="0.6" fill="#d0d0d8"/>
<circle cx="290.97" cy="197.23" r="0.6" fill="#d0d0d8"/>
<circle cx="296.51" cy="197.23" r="1.25" fill="#d6d6de" stroke="#cacad2" stroke-width="0.3"/>
<circle cx="302.06" cy="197.23" r="1.25" fill="#d6d6de" stroke="#cacad2" stroke-width="0.3"/>
<circle cx="307.61" cy="197.23" r="0.6" fill="#d0d0d8"/>
<circle cx="313.16" cy="197.23" r="0.6" fill="#d0d0d8"/>
<circle cx="318.7" cy="197.23" r="0.6" fill="#d0d0d8"/>
<circle cx="324.25" cy="197.23" r="1.25" fill="#d6d6de" stroke="#cacad2" stroke-width="0.3"/>
<circle cx="329.8" cy="197.23" r="1.25" fill="#d6d6de" stroke="#cacad2" stroke-width="0.3"/>
<circle cx="335.34" cy="197.23" r="1.25" fill="#d6d6de" stroke="#cacad2" stroke-width="0.3"/>
<circle cx="340.89" cy="197.23" r="1.25" fill="#d6d6de" stroke="#cacad2" stroke-width="0.3"/>
<circle cx="346.44" cy="197.23" r="0.6" fill="#d0d0d8"/>
<circle cx="351.98" cy="197.23" r="0.6" fill="#d0d0d8"/>
<circle cx="357.53" cy="197.23" r="1.25" fill="#d6d6de" stroke="#cacad2" stroke-width="0.3"/>
<circle cx="363.08" cy="197.23" r="1.25" fill="#d6d6de" stroke="#cacad2" stroke-width="0.3"/>
<circle cx="368.63" cy="197.23" r="1.25" fill="#d6d6de" stroke="#cacad2" stroke-width="0.3"/>
<circle cx="374.17" cy="197.23" r="0.6" fill="#d0d0d8"/>
<circle cx="379.72" cy="197.23" r="1.25" fill="#d6d6de" stroke="#cacad2" stroke-width="0.3"/>
<circle cx="385.27" cy="197.23" r="0.6" fill="#d0d0d8"/>
<circle cx="390.81" cy="197.23" r="1.9" fill="#ffffff" stroke="#c0c0c0" stroke-width="0.55"/>
<circle cx="396.36" cy="197.23" r="1.25" fill="#d6d6de" stroke="#cacad2" stroke-width="0.3"/>
<circle cx="401.91" cy="197.23" r="1.9" fill="#ffffff" stroke="#c0c0c0" stroke-width="0.55"/>
<circle cx="407.45" cy="197.23" r="0.6" fill="#d0d0d8"/>
<circle cx="413" cy="197.23" r="0.6" fill="#d0d0d8"/>
<circle cx="418.55" cy="197.23" r="1.9" fill="#ffffff" stroke="#c0c0c0" stroke-width="0.55"/>
<circle cx="424.1" cy="197.23" r="0.6" fill="#d0d0d8"/>
<circle cx="429.64" cy="197.23" r="1.25" fill="#d6d6de" stroke="#cacad2" stroke-width="0.3"/>
<circle cx="435.19" cy="197.23" r="1.25" fill="#d6d6de" stroke="#cacad2" stroke-width="0.3"/>
<circle cx="440.74" cy="197.23" r="1.25" fill="#d6d6de" stroke="#cacad2" stroke-width="0.3"/>
<circle cx="446.28" cy="197.23" r="1.25" fill="#d6d6de" stroke="#cacad2" stroke-width="0.3"/>
<circle cx="451.83" cy="197.23" r="0.6" fill="#d0d0d8"/>
<circle cx="457.38" cy="197.23" r="1.25" fill="#d6d6de" stroke="#cacad2" stroke-width="0.3"/>
<circle cx="462.92" cy="197.23" r="0.6" fill="#d0d0d8"/>
<circle cx="468.47" cy="197.23" r="0.6" fill="#d0d0d8"/>
<circle cx="474.02" cy="197.23" r="0.6" fill="#d0d0d8"/>
<circle cx="479.57" cy="197.23" r="0.6" fill="#d0d0d8"/>
<circle cx="485.11" cy="197.23" r="0.6" fill="#d0d0d8"/>
<circle cx="490.66" cy="197.23" r="1.25" fill="#d6d6de" stroke="#cacad2" stroke-width="0.3"/>
<circle cx="496.21" cy="197.23" r="0.6" fill="#d0d0d8"/>
<circle cx="501.75" cy="197.23" r="1.25" fill="#d6d6de" stroke="#cacad2" stroke-width="0.3"/>
<circle cx="507.3" cy="197.23" r="1.25" fill="#d6d6de" stroke="#cacad2" stroke-width="0.3"/>
<circle cx="46.9" cy="204.06" r="1.9" fill="#ffffff" stroke="#c0c0c0" stroke-width="0.55"/>
<circle cx="52.45" cy="204.06" r="1.9" fill="#ffffff" stroke="#c0c0c0" stroke-width="0.55"/>
<circle cx="57.99" cy="204.06" r="1.25" fill="#d6d6de" stroke="#cacad2" stroke-width="0.3"/>
<circle cx="63.54" cy="204.06" r="1.95" fill="#f4d4d4" stroke="#d0a0a0" stroke-width="0.6"/>
<circle cx="69.09" cy="204.06" r="1.95" fill="#f4d4d4" stroke="#d0a0a0" stroke-width="0.6"/>
<circle cx="74.63" cy="204.06" r="1.9" fill="#ffffff" stroke="#c0c0c0" stroke-width="0.55"/>
<circle cx="80.18" cy="204.06" r="0.6" fill="#d0d0d8"/>
<circle cx="85.73" cy="204.06" r="1.9" fill="#ffffff" stroke="#c0c0c0" stroke-width="0.55"/>
<circle cx="91.28" cy="204.06" r="1.25" fill="#d6d6de" stroke="#cacad2" stroke-width="0.3"/>
<circle cx="96.82" cy="204.06" r="1.25" fill="#d6d6de" stroke="#cacad2" stroke-width="0.3"/>
<circle cx="102.37" cy="204.06" r="1.95" fill="#f4d4d4" stroke="#d0a0a0" stroke-width="0.6"/>
<circle cx="107.92" cy="204.06" r="1.95" fill="#f4d4d4" stroke="#d0a0a0" stroke-width="0.6"/>
<circle cx="113.46" cy="204.06" r="1.9" fill="#ffffff" stroke="#c0c0c0" stroke-width="0.55"/>
<circle cx="119.01" cy="204.06" r="1.95" fill="#f4d4d4" stroke="#d0a0a0" stroke-width="0.6"/>
<circle cx="124.56" cy="204.06" r="1.25" fill="#d6d6de" stroke="#cacad2" stroke-width="0.3"/>
<circle cx="130.1" cy="204.06" r="1.95" fill="#f4d4d4" stroke="#d0a0a0" stroke-width="0.6"/>
<circle cx="135.65" cy="204.06" r="1.95" fill="#f4d4d4" stroke="#d0a0a0" stroke-width="0.6"/>
<circle cx="141.2" cy="204.06" r="1.95" fill="#f4d4d4" stroke="#d0a0a0" stroke-width="0.6"/>
<circle cx="146.75" cy="204.06" r="1.25" fill="#d6d6de" stroke="#cacad2" stroke-width="0.3"/>
<circle cx="152.29" cy="204.06" r="1.9" fill="#ffffff" stroke="#c0c0c0" stroke-width="0.55"/>
<circle cx="157.84" cy="204.06" r="1.95" fill="#f4d4d4" stroke="#d0a0a0" stroke-width="0.6"/>
<circle cx="163.39" cy="204.06" r="1.95" fill="#f4d4d4" stroke="#d0a0a0" stroke-width="0.6"/>
<circle cx="168.93" cy="204.06" r="0.6" fill="#d0d0d8"/>
<circle cx="174.48" cy="204.06" r="1.25" fill="#d6d6de" stroke="#cacad2" stroke-width="0.3"/>
<circle cx="180.03" cy="204.06" r="1.25" fill="#d6d6de" stroke="#cacad2" stroke-width="0.3"/>
<circle cx="185.57" cy="204.06" r="1.25" fill="#d6d6de" stroke="#cacad2" stroke-width="0.3"/>
<circle cx="191.12" cy="204.06" r="1.9" fill="#ffffff" stroke="#c0c0c0" stroke-width="0.55"/>
<circle cx="196.67" cy="204.06" r="1.25" fill="#d6d6de" stroke="#cacad2" stroke-width="0.3"/>
<circle cx="202.22" cy="204.06" r="0.6" fill="#d0d0d8"/>
<circle cx="207.76" cy="204.06" r="1.25" fill="#d6d6de" stroke="#cacad2" stroke-width="0.3"/>
<circle cx="213.31" cy="204.06" r="1.9" fill="#ffffff" stroke="#c0c0c0" stroke-width="0.55"/>
<circle cx="218.86" cy="204.06" r="0.6" fill="#d0d0d8"/>
<circle cx="224.4" cy="204.06" r="1.25" fill="#d6d6de" stroke="#cacad2" stroke-width="0.3"/>
<circle cx="229.95" cy="204.06" r="0.6" fill="#d0d0d8"/>
<circle cx="235.5" cy="204.06" r="1.25" fill="#d6d6de" stroke="#cacad2" stroke-width="0.3"/>
<circle cx="241.04" cy="204.06" r="1.9" fill="#ffffff" stroke="#c0c0c0" stroke-width="0.55"/>
<circle cx="246.59" cy="204.06" r="1.9" fill="#ffffff" stroke="#c0c0c0" stroke-width="0.55"/>
<circle cx="252.14" cy="204.06" r="1.9" fill="#ffffff" stroke="#c0c0c0" stroke-width="0.55"/>
<circle cx="257.69" cy="204.06" r="0.6" fill="#d0d0d8"/>
<circle cx="263.23" cy="204.06" r="1.9" fill="#ffffff" stroke="#c0c0c0" stroke-width="0.55"/>
<circle cx="268.78" cy="204.06" r="1.25" fill="#d6d6de" stroke="#cacad2" stroke-width="0.3"/>
<circle cx="274.33" cy="204.06" r="1.25" fill="#d6d6de" stroke="#cacad2" stroke-width="0.3"/>
<circle cx="279.87" cy="204.06" r="1.9" fill="#ffffff" stroke="#c0c0c0" stroke-width="0.55"/>
<circle cx="285.42" cy="204.06" r="0.6" fill="#d0d0d8"/>
<circle cx="290.97" cy="204.06" r="0.6" fill="#d0d0d8"/>
<circle cx="296.51" cy="204.06" r="1.25" fill="#d6d6de" stroke="#cacad2" stroke-width="0.3"/>
<circle cx="302.06" cy="204.06" r="1.25" fill="#d6d6de" stroke="#cacad2" stroke-width="0.3"/>
<circle cx="307.61" cy="204.06" r="0.6" fill="#d0d0d8"/>
<circle cx="313.16" cy="204.06" r="0.6" fill="#d0d0d8"/>
<circle cx="318.7" cy="204.06" r="0.6" fill="#d0d0d8"/>
<circle cx="324.25" cy="204.06" r="1.25" fill="#d6d6de" stroke="#cacad2" stroke-width="0.3"/>
<circle cx="329.8" cy="204.06" r="1.25" fill="#d6d6de" stroke="#cacad2" stroke-width="0.3"/>
<circle cx="335.34" cy="204.06" r="1.9" fill="#ffffff" stroke="#c0c0c0" stroke-width="0.55"/>
<circle cx="340.89" cy="204.06" r="1.25" fill="#d6d6de" stroke="#cacad2" stroke-width="0.3"/>
<circle cx="346.44" cy="204.06" r="0.6" fill="#d0d0d8"/>
<circle cx="351.98" cy="204.06" r="0.6" fill="#d0d0d8"/>
<circle cx="357.53" cy="204.06" r="1.25" fill="#d6d6de" stroke="#cacad2" stroke-width="0.3"/>
<circle cx="363.08" cy="204.06" r="1.25" fill="#d6d6de" stroke="#cacad2" stroke-width="0.3"/>
<circle cx="368.63" cy="204.06" r="1.9" fill="#ffffff" stroke="#c0c0c0" stroke-width="0.55"/>
<circle cx="374.17" cy="204.06" r="0.6" fill="#d0d0d8"/>
<circle cx="379.72" cy="204.06" r="1.25" fill="#d6d6de" stroke="#cacad2" stroke-width="0.3"/>
<circle cx="385.27" cy="204.06" r="0.6" fill="#d0d0d8"/>
<circle cx="390.81" cy="204.06" r="1.9" fill="#ffffff" stroke="#c0c0c0" stroke-width="0.55"/>
<circle cx="396.36" cy="204.06" r="1.25" fill="#d6d6de" stroke="#cacad2" stroke-width="0.3"/>
<circle cx="401.91" cy="204.06" r="1.9" fill="#ffffff" stroke="#c0c0c0" stroke-width="0.55"/>
<circle cx="407.45" cy="204.06" r="0.6" fill="#d0d0d8"/>
<circle cx="413" cy="204.06" r="0.6" fill="#d0d0d8"/>
<circle cx="418.55" cy="204.06" r="1.25" fill="#d6d6de" stroke="#cacad2" stroke-width="0.3"/>
<circle cx="424.1" cy="204.06" r="0.6" fill="#d0d0d8"/>
<circle cx="429.64" cy="204.06" r="1.25" fill="#d6d6de" stroke="#cacad2" stroke-width="0.3"/>
<circle cx="435.19" cy="204.06" r="1.25" fill="#d6d6de" stroke="#cacad2" stroke-width="0.3"/>
<circle cx="440.74" cy="204.06" r="1.25" fill="#d6d6de" stroke="#cacad2" stroke-width="0.3"/>
<circle cx="446.28" cy="204.06" r="1.25" fill="#d6d6de" stroke="#cacad2" stroke-width="0.3"/>
<circle cx="451.83" cy="204.06" r="0.6" fill="#d0d0d8"/>
<circle cx="457.38" cy="204.06" r="1.25" fill="#d6d6de" stroke="#cacad2" stroke-width="0.3"/>
<circle cx="462.92" cy="204.06" r="0.6" fill="#d0d0d8"/>
<circle cx="468.47" cy="204.06" r="0.6" fill="#d0d0d8"/>
<circle cx="474.02" cy="204.06" r="0.6" fill="#d0d0d8"/>
<circle cx="479.57" cy="204.06" r="0.6" fill="#d0d0d8"/>
<circle cx="485.11" cy="204.06" r="0.6" fill="#d0d0d8"/>
<circle cx="490.66" cy="204.06" r="1.25" fill="#d6d6de" stroke="#cacad2" stroke-width="0.3"/>
<circle cx="496.21" cy="204.06" r="0.6" fill="#d0d0d8"/>
<circle cx="501.75" cy="204.06" r="1.25" fill="#d6d6de" stroke="#cacad2" stroke-width="0.3"/>
<circle cx="507.3" cy="204.06" r="1.25" fill="#d6d6de" stroke="#cacad2" stroke-width="0.3"/>
<circle cx="46.9" cy="210.89" r="1.25" fill="#d6d6de" stroke="#cacad2" stroke-width="0.3"/>
<circle cx="52.45" cy="210.89" r="1.9" fill="#ffffff" stroke="#c0c0c0" stroke-width="0.55"/>
<circle cx="57.99" cy="210.89" r="0.6" fill="#d0d0d8"/>
<circle cx="63.54" cy="210.89" r="1.9" fill="#ffffff" stroke="#c0c0c0" stroke-width="0.55"/>
<circle cx="69.09" cy="210.89" r="1.25" fill="#d6d6de" stroke="#cacad2" stroke-width="0.3"/>
<circle cx="74.63" cy="210.89" r="1.25" fill="#d6d6de" stroke="#cacad2" stroke-width="0.3"/>
<circle cx="80.18" cy="210.89" r="0.6" fill="#d0d0d8"/>
<circle cx="85.73" cy="210.89" r="1.25" fill="#d6d6de" stroke="#cacad2" stroke-width="0.3"/>
<circle cx="91.28" cy="210.89" r="1.25" fill="#d6d6de" stroke="#cacad2" stroke-width="0.3"/>
<circle cx="96.82" cy="210.89" r="1.25" fill="#d6d6de" stroke="#cacad2" stroke-width="0.3"/>
<circle cx="102.37" cy="210.89" r="1.95" fill="#f4d4d4" stroke="#d0a0a0" stroke-width="0.6"/>
<circle cx="107.92" cy="210.89" r="1.95" fill="#f4d4d4" stroke="#d0a0a0" stroke-width="0.6"/>
<circle cx="113.46" cy="210.89" r="1.9" fill="#ffffff" stroke="#c0c0c0" stroke-width="0.55"/>
<circle cx="119.01" cy="210.89" r="1.9" fill="#ffffff" stroke="#c0c0c0" stroke-width="0.55"/>
<circle cx="124.56" cy="210.89" r="1.25" fill="#d6d6de" stroke="#cacad2" stroke-width="0.3"/>
<circle cx="130.1" cy="210.89" r="1.9" fill="#ffffff" stroke="#c0c0c0" stroke-width="0.55"/>
<circle cx="135.65" cy="210.89" r="1.95" fill="#f4d4d4" stroke="#d0a0a0" stroke-width="0.6"/>
<circle cx="141.2" cy="210.89" r="1.25" fill="#d6d6de" stroke="#cacad2" stroke-width="0.3"/>
<circle cx="146.75" cy="210.89" r="0.6" fill="#d0d0d8"/>
<circle cx="152.29" cy="210.89" r="1.9" fill="#ffffff" stroke="#c0c0c0" stroke-width="0.55"/>
<circle cx="157.84" cy="210.89" r="1.9" fill="#ffffff" stroke="#c0c0c0" stroke-width="0.55"/>
<circle cx="163.39" cy="210.89" r="1.9" fill="#ffffff" stroke="#c0c0c0" stroke-width="0.55"/>
<circle cx="168.93" cy="210.89" r="2.0" fill="#e2989a" stroke="#c6868a" stroke-width="0.55"/>
<circle cx="174.48" cy="210.89" r="1.95" fill="#f4d4d4" stroke="#d0a0a0" stroke-width="0.6"/>
<circle cx="180.03" cy="210.89" r="2.0" fill="#e2989a" stroke="#c6868a" stroke-width="0.55"/>
<circle cx="185.57" cy="210.89" r="2.0" fill="#e2989a" stroke="#c6868a" stroke-width="0.55"/>
<circle cx="191.12" cy="210.89" r="2.0" fill="#e2989a" stroke="#c6868a" stroke-width="0.55"/>
<circle cx="196.67" cy="210.89" r="2.0" fill="#e2989a" stroke="#c6868a" stroke-width="0.55"/>
<circle cx="202.22" cy="210.89" r="1.35" fill="#f2cccc" stroke="#e0b0b0" stroke-width="0.3"/>
<circle cx="207.76" cy="210.89" r="1.95" fill="#f4d4d4" stroke="#d0a0a0" stroke-width="0.6"/>
<circle cx="213.31" cy="210.89" r="1.95" fill="#f4d4d4" stroke="#d0a0a0" stroke-width="0.6"/>
<circle cx="218.86" cy="210.89" r="0.6" fill="#d0d0d8"/>
<circle cx="224.4" cy="210.89" r="1.95" fill="#f4d4d4" stroke="#d0a0a0" stroke-width="0.6"/>
<circle cx="229.95" cy="210.89" r="0.6" fill="#d0d0d8"/>
<circle cx="235.5" cy="210.89" r="1.25" fill="#d6d6de" stroke="#cacad2" stroke-width="0.3"/>
<circle cx="241.04" cy="210.89" r="1.25" fill="#d6d6de" stroke="#cacad2" stroke-width="0.3"/>
<circle cx="246.59" cy="210.89" r="1.9" fill="#ffffff" stroke="#c0c0c0" stroke-width="0.55"/>
<circle cx="252.14" cy="210.89" r="1.9" fill="#ffffff" stroke="#c0c0c0" stroke-width="0.55"/>
<circle cx="257.69" cy="210.89" r="0.6" fill="#d0d0d8"/>
<circle cx="263.23" cy="210.89" r="1.25" fill="#d6d6de" stroke="#cacad2" stroke-width="0.3"/>
<circle cx="268.78" cy="210.89" r="0.6" fill="#d0d0d8"/>
<circle cx="274.33" cy="210.89" r="1.25" fill="#d6d6de" stroke="#cacad2" stroke-width="0.3"/>
<circle cx="279.87" cy="210.89" r="1.25" fill="#d6d6de" stroke="#cacad2" stroke-width="0.3"/>
<circle cx="285.42" cy="210.89" r="0.6" fill="#d0d0d8"/>
<circle cx="290.97" cy="210.89" r="1.25" fill="#d6d6de" stroke="#cacad2" stroke-width="0.3"/>
<circle cx="296.51" cy="210.89" r="1.95" fill="#f4d4d4" stroke="#d0a0a0" stroke-width="0.6"/>
<circle cx="302.06" cy="210.89" r="1.95" fill="#f4d4d4" stroke="#d0a0a0" stroke-width="0.6"/>
<circle cx="307.61" cy="210.89" r="0.6" fill="#d0d0d8"/>
<circle cx="313.16" cy="210.89" r="0.6" fill="#d0d0d8"/>
<circle cx="318.7" cy="210.89" r="0.6" fill="#d0d0d8"/>
<circle cx="324.25" cy="210.89" r="1.25" fill="#d6d6de" stroke="#cacad2" stroke-width="0.3"/>
<circle cx="329.8" cy="210.89" r="0.6" fill="#d0d0d8"/>
<circle cx="335.34" cy="210.89" r="1.25" fill="#d6d6de" stroke="#cacad2" stroke-width="0.3"/>
<circle cx="340.89" cy="210.89" r="1.25" fill="#d6d6de" stroke="#cacad2" stroke-width="0.3"/>
<circle cx="346.44" cy="210.89" r="0.6" fill="#d0d0d8"/>
<circle cx="351.98" cy="210.89" r="0.6" fill="#d0d0d8"/>
<circle cx="357.53" cy="210.89" r="1.25" fill="#d6d6de" stroke="#cacad2" stroke-width="0.3"/>
<circle cx="363.08" cy="210.89" r="1.25" fill="#d6d6de" stroke="#cacad2" stroke-width="0.3"/>
<circle cx="368.63" cy="210.89" r="1.25" fill="#d6d6de" stroke="#cacad2" stroke-width="0.3"/>
<circle cx="374.17" cy="210.89" r="0.6" fill="#d0d0d8"/>
<circle cx="379.72" cy="210.89" r="1.25" fill="#d6d6de" stroke="#cacad2" stroke-width="0.3"/>
<circle cx="385.27" cy="210.89" r="0.6" fill="#d0d0d8"/>
<circle cx="390.81" cy="210.89" r="1.9" fill="#ffffff" stroke="#c0c0c0" stroke-width="0.55"/>
<circle cx="396.36" cy="210.89" r="1.25" fill="#d6d6de" stroke="#cacad2" stroke-width="0.3"/>
<circle cx="401.91" cy="210.89" r="1.9" fill="#ffffff" stroke="#c0c0c0" stroke-width="0.55"/>
<circle cx="407.45" cy="210.89" r="0.6" fill="#d0d0d8"/>
<circle cx="413" cy="210.89" r="0.6" fill="#d0d0d8"/>
<circle cx="418.55" cy="210.89" r="1.9" fill="#ffffff" stroke="#c0c0c0" stroke-width="0.55"/>
<circle cx="424.1" cy="210.89" r="0.6" fill="#d0d0d8"/>
<circle cx="429.64" cy="210.89" r="1.25" fill="#d6d6de" stroke="#cacad2" stroke-width="0.3"/>
<circle cx="435.19" cy="210.89" r="1.25" fill="#d6d6de" stroke="#cacad2" stroke-width="0.3"/>
<circle cx="440.74" cy="210.89" r="1.25" fill="#d6d6de" stroke="#cacad2" stroke-width="0.3"/>
<circle cx="446.28" cy="210.89" r="1.25" fill="#d6d6de" stroke="#cacad2" stroke-width="0.3"/>
<circle cx="451.83" cy="210.89" r="0.6" fill="#d0d0d8"/>
<circle cx="457.38" cy="210.89" r="1.25" fill="#d6d6de" stroke="#cacad2" stroke-width="0.3"/>
<circle cx="462.92" cy="210.89" r="0.6" fill="#d0d0d8"/>
<circle cx="468.47" cy="210.89" r="0.6" fill="#d0d0d8"/>
<circle cx="474.02" cy="210.89" r="0.6" fill="#d0d0d8"/>
<circle cx="479.57" cy="210.89" r="0.6" fill="#d0d0d8"/>
<circle cx="485.11" cy="210.89" r="0.6" fill="#d0d0d8"/>
<circle cx="490.66" cy="210.89" r="0.6" fill="#d0d0d8"/>
<circle cx="496.21" cy="210.89" r="0.6" fill="#d0d0d8"/>
<circle cx="501.75" cy="210.89" r="1.25" fill="#d6d6de" stroke="#cacad2" stroke-width="0.3"/>
<circle cx="507.3" cy="210.89" r="1.25" fill="#d6d6de" stroke="#cacad2" stroke-width="0.3"/>
<circle cx="46.9" cy="217.72" r="1.25" fill="#d6d6de" stroke="#cacad2" stroke-width="0.3"/>
<circle cx="52.45" cy="217.72" r="1.95" fill="#d8d8ee" stroke="#b0b0c8" stroke-width="0.6"/>
<circle cx="57.99" cy="217.72" r="0.6" fill="#d0d0d8"/>
<circle cx="63.54" cy="217.72" r="1.9" fill="#ffffff" stroke="#c0c0c0" stroke-width="0.55"/>
<circle cx="69.09" cy="217.72" r="1.25" fill="#d6d6de" stroke="#cacad2" stroke-width="0.3"/>
<circle cx="74.63" cy="217.72" r="1.25" fill="#d6d6de" stroke="#cacad2" stroke-width="0.3"/>
<circle cx="80.18" cy="217.72" r="0.6" fill="#d0d0d8"/>
<circle cx="85.73" cy="217.72" r="0.6" fill="#d0d0d8"/>
<circle cx="91.28" cy="217.72" r="1.25" fill="#d6d6de" stroke="#cacad2" stroke-width="0.3"/>
<circle cx="96.82" cy="217.72" r="1.25" fill="#d6d6de" stroke="#cacad2" stroke-width="0.3"/>
<circle cx="102.37" cy="217.72" r="1.95" fill="#d8d8ee" stroke="#b0b0c8" stroke-width="0.6"/>
<circle cx="107.92" cy="217.72" r="1.95" fill="#d8d8ee" stroke="#b0b0c8" stroke-width="0.6"/>
<circle cx="113.46" cy="217.72" r="1.95" fill="#d8d8ee" stroke="#b0b0c8" stroke-width="0.6"/>
<circle cx="119.01" cy="217.72" r="1.9" fill="#ffffff" stroke="#c0c0c0" stroke-width="0.55"/>
<circle cx="124.56" cy="217.72" r="1.95" fill="#f4d4d4" stroke="#d0a0a0" stroke-width="0.6"/>
<circle cx="130.1" cy="217.72" r="1.9" fill="#ffffff" stroke="#c0c0c0" stroke-width="0.55"/>
<circle cx="135.65" cy="217.72" r="1.9" fill="#ffffff" stroke="#c0c0c0" stroke-width="0.55"/>
<circle cx="141.2" cy="217.72" r="1.25" fill="#d6d6de" stroke="#cacad2" stroke-width="0.3"/>
<circle cx="146.75" cy="217.72" r="0.6" fill="#d0d0d8"/>
<circle cx="152.29" cy="217.72" r="1.25" fill="#d6d6de" stroke="#cacad2" stroke-width="0.3"/>
<circle cx="157.84" cy="217.72" r="1.9" fill="#ffffff" stroke="#c0c0c0" stroke-width="0.55"/>
<circle cx="163.39" cy="217.72" r="1.25" fill="#d6d6de" stroke="#cacad2" stroke-width="0.3"/>
<circle cx="168.93" cy="217.72" r="2.2" fill="#db5f44" stroke="#c0604a" stroke-width="0.5"/>
<circle cx="174.48" cy="217.72" r="2.2" fill="#db5f44" stroke="#c0604a" stroke-width="0.5"/>
<circle cx="180.03" cy="217.72" r="1.95" fill="#f4d4d4" stroke="#d0a0a0" stroke-width="0.6"/>
<circle cx="185.57" cy="217.72" r="1.25" fill="#d6d6de" stroke="#cacad2" stroke-width="0.3"/>
<circle cx="191.12" cy="217.72" r="1.95" fill="#d4674f" stroke="#b86050" stroke-width="0.45"/>
<circle cx="196.67" cy="217.72" r="2.2" fill="#db5f44" stroke="#c0604a" stroke-width="0.5"/>
<circle cx="202.22" cy="217.72" r="2.2" fill="#db5f44" stroke="#c0604a" stroke-width="0.5"/>
<circle cx="207.76" cy="217.72" r="2.2" fill="#db5f44" stroke="#c0604a" stroke-width="0.5"/>
<circle cx="213.31" cy="217.72" r="2.2" fill="#db5f44" stroke="#c0604a" stroke-width="0.5"/>
<circle cx="218.86" cy="217.72" r="2.2" fill="#db5f44" stroke="#c0604a" stroke-width="0.5"/>
<circle cx="224.4" cy="217.72" r="2.2" fill="#db5f44" stroke="#c0604a" stroke-width="0.5"/>
<circle cx="229.95" cy="217.72" r="0.6" fill="#d0d0d8"/>
<circle cx="235.5" cy="217.72" r="1.9" fill="#ffffff" stroke="#c0c0c0" stroke-width="0.55"/>
<circle cx="241.04" cy="217.72" r="1.25" fill="#d6d6de" stroke="#cacad2" stroke-width="0.3"/>
<circle cx="246.59" cy="217.72" r="1.9" fill="#ffffff" stroke="#c0c0c0" stroke-width="0.55"/>
<circle cx="252.14" cy="217.72" r="1.95" fill="#d8d8ee" stroke="#b0b0c8" stroke-width="0.6"/>
<circle cx="257.69" cy="217.72" r="0.6" fill="#d0d0d8"/>
<circle cx="263.23" cy="217.72" r="1.9" fill="#ffffff" stroke="#c0c0c0" stroke-width="0.55"/>
<circle cx="268.78" cy="217.72" r="0.6" fill="#d0d0d8"/>
<circle cx="274.33" cy="217.72" r="1.25" fill="#d6d6de" stroke="#cacad2" stroke-width="0.3"/>
<circle cx="279.87" cy="217.72" r="1.25" fill="#d6d6de" stroke="#cacad2" stroke-width="0.3"/>
<circle cx="285.42" cy="217.72" r="0.6" fill="#d0d0d8"/>
<circle cx="290.97" cy="217.72" r="0.6" fill="#d0d0d8"/>
<circle cx="296.51" cy="217.72" r="1.25" fill="#d6d6de" stroke="#cacad2" stroke-width="0.3"/>
<circle cx="302.06" cy="217.72" r="1.95" fill="#f4d4d4" stroke="#d0a0a0" stroke-width="0.6"/>
<circle cx="307.61" cy="217.72" r="0.6" fill="#d0d0d8"/>
<circle cx="313.16" cy="217.72" r="0.6" fill="#d0d0d8"/>
<circle cx="318.7" cy="217.72" r="0.6" fill="#d0d0d8"/>
<circle cx="324.25" cy="217.72" r="0.6" fill="#d0d0d8"/>
<circle cx="329.8" cy="217.72" r="0.6" fill="#d0d0d8"/>
<circle cx="335.34" cy="217.72" r="1.25" fill="#d6d6de" stroke="#cacad2" stroke-width="0.3"/>
<circle cx="340.89" cy="217.72" r="0.6" fill="#d0d0d8"/>
<circle cx="346.44" cy="217.72" r="0.6" fill="#d0d0d8"/>
<circle cx="351.98" cy="217.72" r="0.6" fill="#d0d0d8"/>
<circle cx="357.53" cy="217.72" r="0.6" fill="#d0d0d8"/>
<circle cx="363.08" cy="217.72" r="1.25" fill="#d6d6de" stroke="#cacad2" stroke-width="0.3"/>
<circle cx="368.63" cy="217.72" r="0.6" fill="#d0d0d8"/>
<circle cx="374.17" cy="217.72" r="0.6" fill="#d0d0d8"/>
<circle cx="379.72" cy="217.72" r="1.95" fill="#f4d4d4" stroke="#d0a0a0" stroke-width="0.6"/>
<circle cx="385.27" cy="217.72" r="0.6" fill="#d0d0d8"/>
<circle cx="390.81" cy="217.72" r="1.95" fill="#f4d4d4" stroke="#d0a0a0" stroke-width="0.6"/>
<circle cx="396.36" cy="217.72" r="1.25" fill="#d6d6de" stroke="#cacad2" stroke-width="0.3"/>
<circle cx="401.91" cy="217.72" r="1.9" fill="#ffffff" stroke="#c0c0c0" stroke-width="0.55"/>
<circle cx="407.45" cy="217.72" r="0.6" fill="#d0d0d8"/>
<circle cx="413" cy="217.72" r="0.6" fill="#d0d0d8"/>
<circle cx="418.55" cy="217.72" r="1.9" fill="#ffffff" stroke="#c0c0c0" stroke-width="0.55"/>
<circle cx="424.1" cy="217.72" r="0.6" fill="#d0d0d8"/>
<circle cx="429.64" cy="217.72" r="1.25" fill="#d6d6de" stroke="#cacad2" stroke-width="0.3"/>
<circle cx="435.19" cy="217.72" r="0.6" fill="#d0d0d8"/>
<circle cx="440.74" cy="217.72" r="1.25" fill="#d6d6de" stroke="#cacad2" stroke-width="0.3"/>
<circle cx="446.28" cy="217.72" r="1.25" fill="#d6d6de" stroke="#cacad2" stroke-width="0.3"/>
<circle cx="451.83" cy="217.72" r="0.6" fill="#d0d0d8"/>
<circle cx="457.38" cy="217.72" r="1.25" fill="#d6d6de" stroke="#cacad2" stroke-width="0.3"/>
<circle cx="462.92" cy="217.72" r="0.6" fill="#d0d0d8"/>
<circle cx="468.47" cy="217.72" r="0.6" fill="#d0d0d8"/>
<circle cx="474.02" cy="217.72" r="0.6" fill="#d0d0d8"/>
<circle cx="479.57" cy="217.72" r="0.6" fill="#d0d0d8"/>
<circle cx="485.11" cy="217.72" r="0.6" fill="#d0d0d8"/>
<circle cx="490.66" cy="217.72" r="0.6" fill="#d0d0d8"/>
<circle cx="496.21" cy="217.72" r="0.6" fill="#d0d0d8"/>
<circle cx="501.75" cy="217.72" r="1.25" fill="#d6d6de" stroke="#cacad2" stroke-width="0.3"/>
<circle cx="507.3" cy="217.72" r="1.95" fill="#f4d4d4" stroke="#d0a0a0" stroke-width="0.6"/>
<circle cx="46.9" cy="224.55" r="1.95" fill="#d8d8ee" stroke="#b0b0c8" stroke-width="0.6"/>
<circle cx="52.45" cy="224.55" r="1.95" fill="#d8d8ee" stroke="#b0b0c8" stroke-width="0.6"/>
<circle cx="57.99" cy="224.55" r="0.6" fill="#d0d0d8"/>
<circle cx="63.54" cy="224.55" r="1.95" fill="#d8d8ee" stroke="#b0b0c8" stroke-width="0.6"/>
<circle cx="69.09" cy="224.55" r="1.9" fill="#ffffff" stroke="#c0c0c0" stroke-width="0.55"/>
<circle cx="74.63" cy="224.55" r="1.9" fill="#ffffff" stroke="#c0c0c0" stroke-width="0.55"/>
<circle cx="80.18" cy="224.55" r="0.6" fill="#d0d0d8"/>
<circle cx="85.73" cy="224.55" r="1.9" fill="#ffffff" stroke="#c0c0c0" stroke-width="0.55"/>
<circle cx="91.28" cy="224.55" r="1.25" fill="#d6d6de" stroke="#cacad2" stroke-width="0.3"/>
<circle cx="96.82" cy="224.55" r="1.25" fill="#d6d6de" stroke="#cacad2" stroke-width="0.3"/>
<circle cx="102.37" cy="224.55" r="1.95" fill="#d8d8ee" stroke="#b0b0c8" stroke-width="0.6"/>
<circle cx="107.92" cy="224.55" r="1.95" fill="#d8d8ee" stroke="#b0b0c8" stroke-width="0.6"/>
<circle cx="113.46" cy="224.55" r="1.95" fill="#d8d8ee" stroke="#b0b0c8" stroke-width="0.6"/>
<circle cx="119.01" cy="224.55" r="1.95" fill="#d8d8ee" stroke="#b0b0c8" stroke-width="0.6"/>
<circle cx="124.56" cy="224.55" r="1.25" fill="#d6d6de" stroke="#cacad2" stroke-width="0.3"/>
<circle cx="130.1" cy="224.55" r="1.95" fill="#d8d8ee" stroke="#b0b0c8" stroke-width="0.6"/>
<circle cx="135.65" cy="224.55" r="1.9" fill="#ffffff" stroke="#c0c0c0" stroke-width="0.55"/>
<circle cx="141.2" cy="224.55" r="1.95" fill="#f4d4d4" stroke="#d0a0a0" stroke-width="0.6"/>
<circle cx="146.75" cy="224.55" r="0.6" fill="#d0d0d8"/>
<circle cx="152.29" cy="224.55" r="1.9" fill="#ffffff" stroke="#c0c0c0" stroke-width="0.55"/>
<circle cx="157.84" cy="224.55" r="1.95" fill="#d8d8ee" stroke="#b0b0c8" stroke-width="0.6"/>
<circle cx="163.39" cy="224.55" r="1.9" fill="#ffffff" stroke="#c0c0c0" stroke-width="0.55"/>
<circle cx="168.93" cy="224.55" r="0.6" fill="#d0d0d8"/>
<circle cx="174.48" cy="224.55" r="1.25" fill="#d6d6de" stroke="#cacad2" stroke-width="0.3"/>
<circle cx="180.03" cy="224.55" r="1.25" fill="#d6d6de" stroke="#cacad2" stroke-width="0.3"/>
<circle cx="185.57" cy="224.55" r="1.25" fill="#d6d6de" stroke="#cacad2" stroke-width="0.3"/>
<circle cx="191.12" cy="224.55" r="1.9" fill="#ffffff" stroke="#c0c0c0" stroke-width="0.55"/>
<circle cx="196.67" cy="224.55" r="1.25" fill="#d6d6de" stroke="#cacad2" stroke-width="0.3"/>
<circle cx="202.22" cy="224.55" r="0.6" fill="#d0d0d8"/>
<circle cx="207.76" cy="224.55" r="1.25" fill="#d6d6de" stroke="#cacad2" stroke-width="0.3"/>
<circle cx="213.31" cy="224.55" r="1.9" fill="#ffffff" stroke="#c0c0c0" stroke-width="0.55"/>
<circle cx="218.86" cy="224.55" r="0.6" fill="#d0d0d8"/>
<circle cx="224.4" cy="224.55" r="1.9" fill="#ffffff" stroke="#c0c0c0" stroke-width="0.55"/>
<circle cx="229.95" cy="224.55" r="0.6" fill="#d0d0d8"/>
<circle cx="235.5" cy="224.55" r="2.1" fill="#d8687a" stroke="#b85868" stroke-width="0.5"/>
<circle cx="241.04" cy="224.55" r="2.0" fill="#e2989a" stroke="#c6868a" stroke-width="0.55"/>
<circle cx="246.59" cy="224.55" r="2.0" fill="#e2989a" stroke="#c6868a" stroke-width="0.55"/>
<circle cx="252.14" cy="224.55" r="2.0" fill="#e2989a" stroke="#c6868a" stroke-width="0.55"/>
<circle cx="257.69" cy="224.55" r="2.0" fill="#e2989a" stroke="#c6868a" stroke-width="0.55"/>
<circle cx="263.23" cy="224.55" r="2.0" fill="#e2989a" stroke="#c6868a" stroke-width="0.55"/>
<circle cx="268.78" cy="224.55" r="1.95" fill="#f4d4d4" stroke="#d0a0a0" stroke-width="0.6"/>
<circle cx="274.33" cy="224.55" r="2.0" fill="#e2989a" stroke="#c6868a" stroke-width="0.55"/>
<circle cx="279.87" cy="224.55" r="2.0" fill="#e2989a" stroke="#c6868a" stroke-width="0.55"/>
<circle cx="285.42" cy="224.55" r="0.6" fill="#d0d0d8"/>
<circle cx="290.97" cy="224.55" r="1.25" fill="#d6d6de" stroke="#cacad2" stroke-width="0.3"/>
<circle cx="296.51" cy="224.55" r="1.25" fill="#d6d6de" stroke="#cacad2" stroke-width="0.3"/>
<circle cx="302.06" cy="224.55" r="1.9" fill="#ffffff" stroke="#c0c0c0" stroke-width="0.55"/>
<circle cx="307.61" cy="224.55" r="0.6" fill="#d0d0d8"/>
<circle cx="313.16" cy="224.55" r="0.6" fill="#d0d0d8"/>
<circle cx="318.7" cy="224.55" r="0.6" fill="#d0d0d8"/>
<circle cx="324.25" cy="224.55" r="1.9" fill="#ffffff" stroke="#c0c0c0" stroke-width="0.55"/>
<circle cx="329.8" cy="224.55" r="0.6" fill="#d0d0d8"/>
<circle cx="335.34" cy="224.55" r="1.9" fill="#ffffff" stroke="#c0c0c0" stroke-width="0.55"/>
<circle cx="340.89" cy="224.55" r="1.25" fill="#d6d6de" stroke="#cacad2" stroke-width="0.3"/>
<circle cx="346.44" cy="224.55" r="0.6" fill="#d0d0d8"/>
<circle cx="351.98" cy="224.55" r="0.6" fill="#d0d0d8"/>
<circle cx="357.53" cy="224.55" r="1.25" fill="#d6d6de" stroke="#cacad2" stroke-width="0.3"/>
<circle cx="363.08" cy="224.55" r="1.9" fill="#ffffff" stroke="#c0c0c0" stroke-width="0.55"/>
<circle cx="368.63" cy="224.55" r="1.9" fill="#ffffff" stroke="#c0c0c0" stroke-width="0.55"/>
<circle cx="374.17" cy="224.55" r="0.6" fill="#d0d0d8"/>
<circle cx="379.72" cy="224.55" r="1.9" fill="#ffffff" stroke="#c0c0c0" stroke-width="0.55"/>
<circle cx="385.27" cy="224.55" r="0.6" fill="#d0d0d8"/>
<circle cx="390.81" cy="224.55" r="1.9" fill="#ffffff" stroke="#c0c0c0" stroke-width="0.55"/>
<circle cx="396.36" cy="224.55" r="1.25" fill="#d6d6de" stroke="#cacad2" stroke-width="0.3"/>
<circle cx="401.91" cy="224.55" r="1.9" fill="#ffffff" stroke="#c0c0c0" stroke-width="0.55"/>
<circle cx="407.45" cy="224.55" r="0.6" fill="#d0d0d8"/>
<circle cx="413" cy="224.55" r="0.6" fill="#d0d0d8"/>
<circle cx="418.55" cy="224.55" r="1.9" fill="#ffffff" stroke="#c0c0c0" stroke-width="0.55"/>
<circle cx="424.1" cy="224.55" r="0.6" fill="#d0d0d8"/>
<circle cx="429.64" cy="224.55" r="1.25" fill="#d6d6de" stroke="#cacad2" stroke-width="0.3"/>
<circle cx="435.19" cy="224.55" r="0.6" fill="#d0d0d8"/>
<circle cx="440.74" cy="224.55" r="0.6" fill="#d0d0d8"/>
<circle cx="446.28" cy="224.55" r="1.25" fill="#d6d6de" stroke="#cacad2" stroke-width="0.3"/>
<circle cx="451.83" cy="224.55" r="0.6" fill="#d0d0d8"/>
<circle cx="457.38" cy="224.55" r="0.6" fill="#d0d0d8"/>
<circle cx="462.92" cy="224.55" r="0.6" fill="#d0d0d8"/>
<circle cx="468.47" cy="224.55" r="0.6" fill="#d0d0d8"/>
<circle cx="474.02" cy="224.55" r="0.6" fill="#d0d0d8"/>
<circle cx="479.57" cy="224.55" r="0.6" fill="#d0d0d8"/>
<circle cx="485.11" cy="224.55" r="0.6" fill="#d0d0d8"/>
<circle cx="490.66" cy="224.55" r="0.6" fill="#d0d0d8"/>
<circle cx="496.21" cy="224.55" r="0.6" fill="#d0d0d8"/>
<circle cx="501.75" cy="224.55" r="0.6" fill="#d0d0d8"/>
<circle cx="507.3" cy="224.55" r="1.25" fill="#d6d6de" stroke="#cacad2" stroke-width="0.3"/>
<circle cx="46.9" cy="231.38" r="1.25" fill="#d6d6de" stroke="#cacad2" stroke-width="0.3"/>
<circle cx="52.45" cy="231.38" r="1.9" fill="#ffffff" stroke="#c0c0c0" stroke-width="0.55"/>
<circle cx="57.99" cy="231.38" r="0.6" fill="#d0d0d8"/>
<circle cx="63.54" cy="231.38" r="1.95" fill="#d8d8ee" stroke="#b0b0c8" stroke-width="0.6"/>
<circle cx="69.09" cy="231.38" r="1.25" fill="#d6d6de" stroke="#cacad2" stroke-width="0.3"/>
<circle cx="74.63" cy="231.38" r="1.95" fill="#d8d8ee" stroke="#b0b0c8" stroke-width="0.6"/>
<circle cx="80.18" cy="231.38" r="0.6" fill="#d0d0d8"/>
<circle cx="85.73" cy="231.38" r="1.9" fill="#ffffff" stroke="#c0c0c0" stroke-width="0.55"/>
<circle cx="91.28" cy="231.38" r="1.9" fill="#ffffff" stroke="#c0c0c0" stroke-width="0.55"/>
<circle cx="96.82" cy="231.38" r="1.25" fill="#d6d6de" stroke="#cacad2" stroke-width="0.3"/>
<circle cx="102.37" cy="231.38" r="1.95" fill="#d8d8ee" stroke="#b0b0c8" stroke-width="0.6"/>
<circle cx="107.92" cy="231.38" r="1.95" fill="#d8d8ee" stroke="#b0b0c8" stroke-width="0.6"/>
<circle cx="113.46" cy="231.38" r="1.95" fill="#d8d8ee" stroke="#b0b0c8" stroke-width="0.6"/>
<circle cx="119.01" cy="231.38" r="1.95" fill="#d8d8ee" stroke="#b0b0c8" stroke-width="0.6"/>
<circle cx="124.56" cy="231.38" r="1.25" fill="#d6d6de" stroke="#cacad2" stroke-width="0.3"/>
<circle cx="130.1" cy="231.38" r="1.95" fill="#d8d8ee" stroke="#b0b0c8" stroke-width="0.6"/>
<circle cx="135.65" cy="231.38" r="1.95" fill="#d8d8ee" stroke="#b0b0c8" stroke-width="0.6"/>
<circle cx="141.2" cy="231.38" r="1.25" fill="#d6d6de" stroke="#cacad2" stroke-width="0.3"/>
<circle cx="146.75" cy="231.38" r="0.6" fill="#d0d0d8"/>
<circle cx="152.29" cy="231.38" r="1.25" fill="#d6d6de" stroke="#cacad2" stroke-width="0.3"/>
<circle cx="157.84" cy="231.38" r="1.95" fill="#d8d8ee" stroke="#b0b0c8" stroke-width="0.6"/>
<circle cx="163.39" cy="231.38" r="1.95" fill="#d8d8ee" stroke="#b0b0c8" stroke-width="0.6"/>
<circle cx="168.93" cy="231.38" r="1.25" fill="#d6d6de" stroke="#cacad2" stroke-width="0.3"/>
<circle cx="174.48" cy="231.38" r="1.25" fill="#d6d6de" stroke="#cacad2" stroke-width="0.3"/>
<circle cx="180.03" cy="231.38" r="2.0" fill="#e2989a" stroke="#c6868a" stroke-width="0.55"/>
<circle cx="185.57" cy="231.38" r="1.25" fill="#d6d6de" stroke="#cacad2" stroke-width="0.3"/>
<circle cx="191.12" cy="231.38" r="2.0" fill="#e2989a" stroke="#c6868a" stroke-width="0.55"/>
<circle cx="196.67" cy="231.38" r="1.25" fill="#d6d6de" stroke="#cacad2" stroke-width="0.3"/>
<circle cx="202.22" cy="231.38" r="0.6" fill="#d0d0d8"/>
<circle cx="207.76" cy="231.38" r="1.25" fill="#d6d6de" stroke="#cacad2" stroke-width="0.3"/>
<circle cx="213.31" cy="231.38" r="1.9" fill="#ffffff" stroke="#c0c0c0" stroke-width="0.55"/>
<circle cx="218.86" cy="231.38" r="0.6" fill="#d0d0d8"/>
<circle cx="224.4" cy="231.38" r="1.9" fill="#ffffff" stroke="#c0c0c0" stroke-width="0.55"/>
<circle cx="229.95" cy="231.38" r="0.6" fill="#d0d0d8"/>
<circle cx="235.5" cy="231.38" r="2.1" fill="#d8687a" stroke="#b85868" stroke-width="0.5"/>
<circle cx="241.04" cy="231.38" r="1.9" fill="#ffffff" stroke="#c0c0c0" stroke-width="0.55"/>
<circle cx="246.59" cy="231.38" r="2.0" fill="#e2989a" stroke="#c6868a" stroke-width="0.55"/>
<circle cx="252.14" cy="231.38" r="1.95" fill="#f4d4d4" stroke="#d0a0a0" stroke-width="0.6"/>
<circle cx="257.69" cy="231.38" r="2.0" fill="#e2989a" stroke="#c6868a" stroke-width="0.55"/>
<circle cx="263.23" cy="231.38" r="1.9" fill="#ffffff" stroke="#c0c0c0" stroke-width="0.55"/>
<circle cx="268.78" cy="231.38" r="1.95" fill="#f4d4d4" stroke="#d0a0a0" stroke-width="0.6"/>
<circle cx="274.33" cy="231.38" r="1.25" fill="#d6d6de" stroke="#cacad2" stroke-width="0.3"/>
<circle cx="279.87" cy="231.38" r="1.95" fill="#f4d4d4" stroke="#d0a0a0" stroke-width="0.6"/>
<circle cx="285.42" cy="231.38" r="1.6" fill="#cf6a52" stroke="#b86050" stroke-width="0.4"/>
<circle cx="290.97" cy="231.38" r="2.2" fill="#db5f44" stroke="#c0604a" stroke-width="0.5"/>
<circle cx="296.51" cy="231.38" r="2.2" fill="#db5f44" stroke="#c0604a" stroke-width="0.5"/>
<circle cx="302.06" cy="231.38" r="2.2" fill="#db5f44" stroke="#c0604a" stroke-width="0.5"/>
<circle cx="307.61" cy="231.38" r="1.6" fill="#cf6a52" stroke="#b86050" stroke-width="0.4"/>
<circle cx="313.16" cy="231.38" r="1.95" fill="#f4d4d4" stroke="#d0a0a0" stroke-width="0.6"/>
<circle cx="318.7" cy="231.38" r="2.0" fill="#e2989a" stroke="#c6868a" stroke-width="0.55"/>
<circle cx="324.25" cy="231.38" r="0.6" fill="#d0d0d8"/>
<circle cx="329.8" cy="231.38" r="0.6" fill="#d0d0d8"/>
<circle cx="335.34" cy="231.38" r="1.9" fill="#ffffff" stroke="#c0c0c0" stroke-width="0.55"/>
<circle cx="340.89" cy="231.38" r="0.6" fill="#d0d0d8"/>
<circle cx="346.44" cy="231.38" r="0.6" fill="#d0d0d8"/>
<circle cx="351.98" cy="231.38" r="0.6" fill="#d0d0d8"/>
<circle cx="357.53" cy="231.38" r="0.6" fill="#d0d0d8"/>
<circle cx="363.08" cy="231.38" r="1.9" fill="#ffffff" stroke="#c0c0c0" stroke-width="0.55"/>
<circle cx="368.63" cy="231.38" r="1.9" fill="#ffffff" stroke="#c0c0c0" stroke-width="0.55"/>
<circle cx="374.17" cy="231.38" r="0.6" fill="#d0d0d8"/>
<circle cx="379.72" cy="231.38" r="1.9" fill="#ffffff" stroke="#c0c0c0" stroke-width="0.55"/>
<circle cx="385.27" cy="231.38" r="0.6" fill="#d0d0d8"/>
<circle cx="390.81" cy="231.38" r="1.9" fill="#ffffff" stroke="#c0c0c0" stroke-width="0.55"/>
<circle cx="396.36" cy="231.38" r="1.25" fill="#d6d6de" stroke="#cacad2" stroke-width="0.3"/>
<circle cx="401.91" cy="231.38" r="1.9" fill="#ffffff" stroke="#c0c0c0" stroke-width="0.55"/>
<circle cx="407.45" cy="231.38" r="0.6" fill="#d0d0d8"/>
<circle cx="413" cy="231.38" r="0.6" fill="#d0d0d8"/>
<circle cx="418.55" cy="231.38" r="1.9" fill="#ffffff" stroke="#c0c0c0" stroke-width="0.55"/>
<circle cx="424.1" cy="231.38" r="0.6" fill="#d0d0d8"/>
<circle cx="429.64" cy="231.38" r="1.95" fill="#f4d4d4" stroke="#d0a0a0" stroke-width="0.6"/>
<circle cx="435.19" cy="231.38" r="1.25" fill="#d6d6de" stroke="#cacad2" stroke-width="0.3"/>
<circle cx="440.74" cy="231.38" r="1.9" fill="#ffffff" stroke="#c0c0c0" stroke-width="0.55"/>
<circle cx="446.28" cy="231.38" r="1.25" fill="#d6d6de" stroke="#cacad2" stroke-width="0.3"/>
<circle cx="451.83" cy="231.38" r="0.6" fill="#d0d0d8"/>
<circle cx="457.38" cy="231.38" r="0.6" fill="#d0d0d8"/>
<circle cx="462.92" cy="231.38" r="0.6" fill="#d0d0d8"/>
<circle cx="468.47" cy="231.38" r="0.6" fill="#d0d0d8"/>
<circle cx="474.02" cy="231.38" r="0.6" fill="#d0d0d8"/>
<circle cx="479.57" cy="231.38" r="0.6" fill="#d0d0d8"/>
<circle cx="485.11" cy="231.38" r="0.6" fill="#d0d0d8"/>
<circle cx="490.66" cy="231.38" r="0.6" fill="#d0d0d8"/>
<circle cx="496.21" cy="231.38" r="0.6" fill="#d0d0d8"/>
<circle cx="501.75" cy="231.38" r="0.6" fill="#d0d0d8"/>
<circle cx="507.3" cy="231.38" r="1.25" fill="#d6d6de" stroke="#cacad2" stroke-width="0.3"/>
<circle cx="46.9" cy="238.21" r="1.9" fill="#ffffff" stroke="#c0c0c0" stroke-width="0.55"/>
<circle cx="52.45" cy="238.21" r="1.95" fill="#d8d8ee" stroke="#b0b0c8" stroke-width="0.6"/>
<circle cx="57.99" cy="238.21" r="1.25" fill="#d6d6de" stroke="#cacad2" stroke-width="0.3"/>
<circle cx="63.54" cy="238.21" r="1.95" fill="#d8d8ee" stroke="#b0b0c8" stroke-width="0.6"/>
<circle cx="69.09" cy="238.21" r="1.9" fill="#ffffff" stroke="#c0c0c0" stroke-width="0.55"/>
<circle cx="74.63" cy="238.21" r="1.95" fill="#d8d8ee" stroke="#b0b0c8" stroke-width="0.6"/>
<circle cx="80.18" cy="238.21" r="1.25" fill="#d6d6de" stroke="#cacad2" stroke-width="0.3"/>
<circle cx="85.73" cy="238.21" r="1.25" fill="#d6d6de" stroke="#cacad2" stroke-width="0.3"/>
<circle cx="91.28" cy="238.21" r="1.25" fill="#d6d6de" stroke="#cacad2" stroke-width="0.3"/>
<circle cx="96.82" cy="238.21" r="1.25" fill="#d6d6de" stroke="#cacad2" stroke-width="0.3"/>
<circle cx="102.37" cy="238.21" r="1.25" fill="#d6d6de" stroke="#cacad2" stroke-width="0.3"/>
<circle cx="107.92" cy="238.21" r="1.25" fill="#d6d6de" stroke="#cacad2" stroke-width="0.3"/>
<circle cx="113.46" cy="238.21" r="1.9" fill="#ffffff" stroke="#c0c0c0" stroke-width="0.55"/>
<circle cx="119.01" cy="238.21" r="1.95" fill="#d8d8ee" stroke="#b0b0c8" stroke-width="0.6"/>
<circle cx="124.56" cy="238.21" r="1.25" fill="#d6d6de" stroke="#cacad2" stroke-width="0.3"/>
<circle cx="130.1" cy="238.21" r="1.95" fill="#d8d8ee" stroke="#b0b0c8" stroke-width="0.6"/>
<circle cx="135.65" cy="238.21" r="1.95" fill="#d8d8ee" stroke="#b0b0c8" stroke-width="0.6"/>
<circle cx="141.2" cy="238.21" r="1.9" fill="#ffffff" stroke="#c0c0c0" stroke-width="0.55"/>
<circle cx="146.75" cy="238.21" r="0.6" fill="#d0d0d8"/>
<circle cx="152.29" cy="238.21" r="1.25" fill="#d6d6de" stroke="#cacad2" stroke-width="0.3"/>
<circle cx="157.84" cy="238.21" r="1.95" fill="#d8d8ee" stroke="#b0b0c8" stroke-width="0.6"/>
<circle cx="163.39" cy="238.21" r="1.9" fill="#ffffff" stroke="#c0c0c0" stroke-width="0.55"/>
<circle cx="168.93" cy="238.21" r="0.6" fill="#d0d0d8"/>
<circle cx="174.48" cy="238.21" r="1.25" fill="#d6d6de" stroke="#cacad2" stroke-width="0.3"/>
<circle cx="180.03" cy="238.21" r="0.6" fill="#d0d0d8"/>
<circle cx="185.57" cy="238.21" r="1.25" fill="#d6d6de" stroke="#cacad2" stroke-width="0.3"/>
<circle cx="191.12" cy="238.21" r="1.95" fill="#d8d8ee" stroke="#b0b0c8" stroke-width="0.6"/>
<circle cx="196.67" cy="238.21" r="1.25" fill="#d6d6de" stroke="#cacad2" stroke-width="0.3"/>
<circle cx="202.22" cy="238.21" r="0.6" fill="#d0d0d8"/>
<circle cx="207.76" cy="238.21" r="1.25" fill="#d6d6de" stroke="#cacad2" stroke-width="0.3"/>
<circle cx="213.31" cy="238.21" r="1.25" fill="#d6d6de" stroke="#cacad2" stroke-width="0.3"/>
<circle cx="218.86" cy="238.21" r="0.6" fill="#d0d0d8"/>
<circle cx="224.4" cy="238.21" r="1.95" fill="#d8d8ee" stroke="#b0b0c8" stroke-width="0.6"/>
<circle cx="229.95" cy="238.21" r="0.6" fill="#d0d0d8"/>
<circle cx="235.5" cy="238.21" r="1.25" fill="#d6d6de" stroke="#cacad2" stroke-width="0.3"/>
<circle cx="241.04" cy="238.21" r="1.9" fill="#ffffff" stroke="#c0c0c0" stroke-width="0.55"/>
<circle cx="246.59" cy="238.21" r="1.9" fill="#ffffff" stroke="#c0c0c0" stroke-width="0.55"/>
<circle cx="252.14" cy="238.21" r="1.9" fill="#ffffff" stroke="#c0c0c0" stroke-width="0.55"/>
<circle cx="257.69" cy="238.21" r="1.25" fill="#d6d6de" stroke="#cacad2" stroke-width="0.3"/>
<circle cx="263.23" cy="238.21" r="1.95" fill="#f4d4d4" stroke="#d0a0a0" stroke-width="0.6"/>
<circle cx="268.78" cy="238.21" r="1.25" fill="#d6d6de" stroke="#cacad2" stroke-width="0.3"/>
<circle cx="274.33" cy="238.21" r="1.95" fill="#f4d4d4" stroke="#d0a0a0" stroke-width="0.6"/>
<circle cx="279.87" cy="238.21" r="1.25" fill="#d6d6de" stroke="#cacad2" stroke-width="0.3"/>
<circle cx="285.42" cy="238.21" r="0.6" fill="#d0d0d8"/>
<circle cx="290.97" cy="238.21" r="0.6" fill="#d0d0d8"/>
<circle cx="296.51" cy="238.21" r="0.6" fill="#d0d0d8"/>
<circle cx="302.06" cy="238.21" r="1.25" fill="#d6d6de" stroke="#cacad2" stroke-width="0.3"/>
<circle cx="307.61" cy="238.21" r="0.6" fill="#d0d0d8"/>
<circle cx="313.16" cy="238.21" r="0.6" fill="#d0d0d8"/>
<circle cx="318.7" cy="238.21" r="0.6" fill="#d0d0d8"/>
<circle cx="324.25" cy="238.21" r="2.2" fill="#db5f44" stroke="#c0604a" stroke-width="0.5"/>
<circle cx="329.8" cy="238.21" r="2.2" fill="#db5f44" stroke="#c0604a" stroke-width="0.5"/>
<circle cx="335.34" cy="238.21" r="2.2" fill="#db5f44" stroke="#c0604a" stroke-width="0.5"/>
<circle cx="340.89" cy="238.21" r="2.2" fill="#db5f44" stroke="#c0604a" stroke-width="0.5"/>
<circle cx="346.44" cy="238.21" r="2.2" fill="#db5f44" stroke="#c0604a" stroke-width="0.5"/>
<circle cx="351.98" cy="238.21" r="1.6" fill="#cf6a52" stroke="#b86050" stroke-width="0.4"/>
<circle cx="357.53" cy="238.21" r="2.2" fill="#db5f44" stroke="#c0604a" stroke-width="0.5"/>
<circle cx="363.08" cy="238.21" r="2.2" fill="#db5f44" stroke="#c0604a" stroke-width="0.5"/>
<circle cx="368.63" cy="238.21" r="2.2" fill="#db5f44" stroke="#c0604a" stroke-width="0.5"/>
<circle cx="374.17" cy="238.21" r="1.95" fill="#d4674f" stroke="#b86050" stroke-width="0.45"/>
<circle cx="379.72" cy="238.21" r="1.9" fill="#ffffff" stroke="#c0c0c0" stroke-width="0.55"/>
<circle cx="385.27" cy="238.21" r="1.25" fill="#d6d6de" stroke="#cacad2" stroke-width="0.3"/>
<circle cx="390.81" cy="238.21" r="1.9" fill="#ffffff" stroke="#c0c0c0" stroke-width="0.55"/>
<circle cx="396.36" cy="238.21" r="1.25" fill="#d6d6de" stroke="#cacad2" stroke-width="0.3"/>
<circle cx="401.91" cy="238.21" r="1.95" fill="#f4d4d4" stroke="#d0a0a0" stroke-width="0.6"/>
<circle cx="407.45" cy="238.21" r="0.6" fill="#d0d0d8"/>
<circle cx="413" cy="238.21" r="0.6" fill="#d0d0d8"/>
<circle cx="418.55" cy="238.21" r="1.25" fill="#d6d6de" stroke="#cacad2" stroke-width="0.3"/>
<circle cx="424.1" cy="238.21" r="0.6" fill="#d0d0d8"/>
<circle cx="429.64" cy="238.21" r="1.25" fill="#d6d6de" stroke="#cacad2" stroke-width="0.3"/>
<circle cx="435.19" cy="238.21" r="1.25" fill="#d6d6de" stroke="#cacad2" stroke-width="0.3"/>
<circle cx="440.74" cy="238.21" r="0.6" fill="#d0d0d8"/>
<circle cx="446.28" cy="238.21" r="1.9" fill="#ffffff" stroke="#c0c0c0" stroke-width="0.55"/>
<circle cx="451.83" cy="238.21" r="0.6" fill="#d0d0d8"/>
<circle cx="457.38" cy="238.21" r="0.6" fill="#d0d0d8"/>
<circle cx="462.92" cy="238.21" r="0.6" fill="#d0d0d8"/>
<circle cx="468.47" cy="238.21" r="0.6" fill="#d0d0d8"/>
<circle cx="474.02" cy="238.21" r="1.25" fill="#d6d6de" stroke="#cacad2" stroke-width="0.3"/>
<circle cx="479.57" cy="238.21" r="1.25" fill="#d6d6de" stroke="#cacad2" stroke-width="0.3"/>
<circle cx="485.11" cy="238.21" r="0.6" fill="#d0d0d8"/>
<circle cx="490.66" cy="238.21" r="0.6" fill="#d0d0d8"/>
<circle cx="496.21" cy="238.21" r="0.6" fill="#d0d0d8"/>
<circle cx="501.75" cy="238.21" r="0.6" fill="#d0d0d8"/>
<circle cx="507.3" cy="238.21" r="0.6" fill="#d0d0d8"/>
<circle cx="46.9" cy="245.04" r="1.9" fill="#ffffff" stroke="#c0c0c0" stroke-width="0.55"/>
<circle cx="52.45" cy="245.04" r="1.9" fill="#ffffff" stroke="#c0c0c0" stroke-width="0.55"/>
<circle cx="57.99" cy="245.04" r="1.25" fill="#d6d6de" stroke="#cacad2" stroke-width="0.3"/>
<circle cx="63.54" cy="245.04" r="1.9" fill="#ffffff" stroke="#c0c0c0" stroke-width="0.55"/>
<circle cx="69.09" cy="245.04" r="1.9" fill="#ffffff" stroke="#c0c0c0" stroke-width="0.55"/>
<circle cx="74.63" cy="245.04" r="1.9" fill="#ffffff" stroke="#c0c0c0" stroke-width="0.55"/>
<circle cx="80.18" cy="245.04" r="0.6" fill="#d0d0d8"/>
<circle cx="85.73" cy="245.04" r="1.9" fill="#ffffff" stroke="#c0c0c0" stroke-width="0.55"/>
<circle cx="91.28" cy="245.04" r="1.25" fill="#d6d6de" stroke="#cacad2" stroke-width="0.3"/>
<circle cx="96.82" cy="245.04" r="0.6" fill="#d0d0d8"/>
<circle cx="102.37" cy="245.04" r="1.9" fill="#ffffff" stroke="#c0c0c0" stroke-width="0.55"/>
<circle cx="107.92" cy="245.04" r="1.9" fill="#ffffff" stroke="#c0c0c0" stroke-width="0.55"/>
<circle cx="113.46" cy="245.04" r="1.95" fill="#d8d8ee" stroke="#b0b0c8" stroke-width="0.6"/>
<circle cx="119.01" cy="245.04" r="1.95" fill="#d8d8ee" stroke="#b0b0c8" stroke-width="0.6"/>
<circle cx="124.56" cy="245.04" r="1.25" fill="#d6d6de" stroke="#cacad2" stroke-width="0.3"/>
<circle cx="130.1" cy="245.04" r="1.9" fill="#ffffff" stroke="#c0c0c0" stroke-width="0.55"/>
<circle cx="135.65" cy="245.04" r="1.95" fill="#f4d4d4" stroke="#d0a0a0" stroke-width="0.6"/>
<circle cx="141.2" cy="245.04" r="1.95" fill="#f4d4d4" stroke="#d0a0a0" stroke-width="0.6"/>
<circle cx="146.75" cy="245.04" r="1.25" fill="#d6d6de" stroke="#cacad2" stroke-width="0.3"/>
<circle cx="152.29" cy="245.04" r="1.9" fill="#ffffff" stroke="#c0c0c0" stroke-width="0.55"/>
<circle cx="157.84" cy="245.04" r="1.95" fill="#f4d4d4" stroke="#d0a0a0" stroke-width="0.6"/>
<circle cx="163.39" cy="245.04" r="1.9" fill="#ffffff" stroke="#c0c0c0" stroke-width="0.55"/>
<circle cx="168.93" cy="245.04" r="1.25" fill="#d6d6de" stroke="#cacad2" stroke-width="0.3"/>
<circle cx="174.48" cy="245.04" r="1.25" fill="#d6d6de" stroke="#cacad2" stroke-width="0.3"/>
<circle cx="180.03" cy="245.04" r="1.25" fill="#d6d6de" stroke="#cacad2" stroke-width="0.3"/>
<circle cx="185.57" cy="245.04" r="1.25" fill="#d6d6de" stroke="#cacad2" stroke-width="0.3"/>
<circle cx="191.12" cy="245.04" r="1.9" fill="#ffffff" stroke="#c0c0c0" stroke-width="0.55"/>
<circle cx="196.67" cy="245.04" r="1.25" fill="#d6d6de" stroke="#cacad2" stroke-width="0.3"/>
<circle cx="202.22" cy="245.04" r="0.6" fill="#d0d0d8"/>
<circle cx="207.76" cy="245.04" r="1.25" fill="#d6d6de" stroke="#cacad2" stroke-width="0.3"/>
<circle cx="213.31" cy="245.04" r="1.95" fill="#f4d4d4" stroke="#d0a0a0" stroke-width="0.6"/>
<circle cx="218.86" cy="245.04" r="0.6" fill="#d0d0d8"/>
<circle cx="224.4" cy="245.04" r="1.25" fill="#d6d6de" stroke="#cacad2" stroke-width="0.3"/>
<circle cx="229.95" cy="245.04" r="0.6" fill="#d0d0d8"/>
<circle cx="235.5" cy="245.04" r="1.9" fill="#ffffff" stroke="#c0c0c0" stroke-width="0.55"/>
<circle cx="241.04" cy="245.04" r="1.9" fill="#ffffff" stroke="#c0c0c0" stroke-width="0.55"/>
<circle cx="246.59" cy="245.04" r="1.9" fill="#ffffff" stroke="#c0c0c0" stroke-width="0.55"/>
<circle cx="252.14" cy="245.04" r="1.9" fill="#ffffff" stroke="#c0c0c0" stroke-width="0.55"/>
<circle cx="257.69" cy="245.04" r="0.6" fill="#d0d0d8"/>
<circle cx="263.23" cy="245.04" r="1.9" fill="#ffffff" stroke="#c0c0c0" stroke-width="0.55"/>
<circle cx="268.78" cy="245.04" r="0.6" fill="#d0d0d8"/>
<circle cx="274.33" cy="245.04" r="1.25" fill="#d6d6de" stroke="#cacad2" stroke-width="0.3"/>
<circle cx="279.87" cy="245.04" r="1.9" fill="#ffffff" stroke="#c0c0c0" stroke-width="0.55"/>
<circle cx="285.42" cy="245.04" r="0.6" fill="#d0d0d8"/>
<circle cx="290.97" cy="245.04" r="1.25" fill="#d6d6de" stroke="#cacad2" stroke-width="0.3"/>
<circle cx="296.51" cy="245.04" r="1.25" fill="#d6d6de" stroke="#cacad2" stroke-width="0.3"/>
<circle cx="302.06" cy="245.04" r="1.25" fill="#d6d6de" stroke="#cacad2" stroke-width="0.3"/>
<circle cx="307.61" cy="245.04" r="0.6" fill="#d0d0d8"/>
<circle cx="313.16" cy="245.04" r="0.6" fill="#d0d0d8"/>
<circle cx="318.7" cy="245.04" r="0.6" fill="#d0d0d8"/>
<circle cx="324.25" cy="245.04" r="1.25" fill="#d6d6de" stroke="#cacad2" stroke-width="0.3"/>
<circle cx="329.8" cy="245.04" r="0.6" fill="#d0d0d8"/>
<circle cx="335.34" cy="245.04" r="1.9" fill="#ffffff" stroke="#c0c0c0" stroke-width="0.55"/>
<circle cx="340.89" cy="245.04" r="1.25" fill="#d6d6de" stroke="#cacad2" stroke-width="0.3"/>
<circle cx="346.44" cy="245.04" r="0.6" fill="#d0d0d8"/>
<circle cx="351.98" cy="245.04" r="0.6" fill="#d0d0d8"/>
<circle cx="357.53" cy="245.04" r="1.25" fill="#d6d6de" stroke="#cacad2" stroke-width="0.3"/>
<circle cx="363.08" cy="245.04" r="1.9" fill="#ffffff" stroke="#c0c0c0" stroke-width="0.55"/>
<circle cx="368.63" cy="245.04" r="1.9" fill="#ffffff" stroke="#c0c0c0" stroke-width="0.55"/>
<circle cx="374.17" cy="245.04" r="0.6" fill="#d0d0d8"/>
<circle cx="379.72" cy="245.04" r="2.0" fill="#e2989a" stroke="#c6868a" stroke-width="0.55"/>
<circle cx="385.27" cy="245.04" r="1.6" fill="#cf6a52" stroke="#b86050" stroke-width="0.4"/>
<circle cx="390.81" cy="245.04" r="2.0" fill="#e2989a" stroke="#c6868a" stroke-width="0.55"/>
<circle cx="396.36" cy="245.04" r="2.0" fill="#e2989a" stroke="#c6868a" stroke-width="0.55"/>
<circle cx="401.91" cy="245.04" r="1.95" fill="#f4d4d4" stroke="#d0a0a0" stroke-width="0.6"/>
<circle cx="407.45" cy="245.04" r="0.6" fill="#d0d0d8"/>
<circle cx="413" cy="245.04" r="0.6" fill="#d0d0d8"/>
<circle cx="418.55" cy="245.04" r="1.25" fill="#d6d6de" stroke="#cacad2" stroke-width="0.3"/>
<circle cx="424.1" cy="245.04" r="0.6" fill="#d0d0d8"/>
<circle cx="429.64" cy="245.04" r="1.25" fill="#d6d6de" stroke="#cacad2" stroke-width="0.3"/>
<circle cx="435.19" cy="245.04" r="1.35" fill="#f2cccc" stroke="#e0b0b0" stroke-width="0.3"/>
<circle cx="440.74" cy="245.04" r="1.35" fill="#f2cccc" stroke="#e0b0b0" stroke-width="0.3"/>
<circle cx="446.28" cy="245.04" r="1.35" fill="#f2cccc" stroke="#e0b0b0" stroke-width="0.3"/>
<circle cx="451.83" cy="245.04" r="0.6" fill="#d0d0d8"/>
<circle cx="457.38" cy="245.04" r="1.35" fill="#f2cccc" stroke="#e0b0b0" stroke-width="0.3"/>
<circle cx="462.92" cy="245.04" r="0.6" fill="#d0d0d8"/>
<circle cx="468.47" cy="245.04" r="0.6" fill="#d0d0d8"/>
<circle cx="474.02" cy="245.04" r="0.6" fill="#d0d0d8"/>
<circle cx="479.57" cy="245.04" r="0.6" fill="#d0d0d8"/>
<circle cx="485.11" cy="245.04" r="0.6" fill="#d0d0d8"/>
<circle cx="490.66" cy="245.04" r="1.25" fill="#d6d6de" stroke="#cacad2" stroke-width="0.3"/>
<circle cx="496.21" cy="245.04" r="0.6" fill="#d0d0d8"/>
<circle cx="501.75" cy="245.04" r="0.6" fill="#d0d0d8"/>
<circle cx="507.3" cy="245.04" r="1.25" fill="#d6d6de" stroke="#cacad2" stroke-width="0.3"/>
<circle cx="46.9" cy="251.87" r="1.95" fill="#d8d8ee" stroke="#b0b0c8" stroke-width="0.6"/>
<circle cx="52.45" cy="251.87" r="2.0" fill="#e2989a" stroke="#c6868a" stroke-width="0.55"/>
<circle cx="57.99" cy="251.87" r="0.6" fill="#d0d0d8"/>
<circle cx="63.54" cy="251.87" r="1.95" fill="#f4d4d4" stroke="#d0a0a0" stroke-width="0.6"/>
<circle cx="69.09" cy="251.87" r="1.25" fill="#d6d6de" stroke="#cacad2" stroke-width="0.3"/>
<circle cx="74.63" cy="251.87" r="1.95" fill="#d8d8ee" stroke="#b0b0c8" stroke-width="0.6"/>
<circle cx="80.18" cy="251.87" r="0.6" fill="#d0d0d8"/>
<circle cx="85.73" cy="251.87" r="0.6" fill="#d0d0d8"/>
<circle cx="91.28" cy="251.87" r="2.2" fill="#db5f44" stroke="#c0604a" stroke-width="0.5"/>
<circle cx="96.82" cy="251.87" r="0.6" fill="#d0d0d8"/>
<circle cx="102.37" cy="251.87" r="1.95" fill="#d8d8ee" stroke="#b0b0c8" stroke-width="0.6"/>
<circle cx="107.92" cy="251.87" r="1.95" fill="#d8d8ee" stroke="#b0b0c8" stroke-width="0.6"/>
<circle cx="113.46" cy="251.87" r="1.95" fill="#d8d8ee" stroke="#b0b0c8" stroke-width="0.6"/>
<circle cx="119.01" cy="251.87" r="1.95" fill="#d8d8ee" stroke="#b0b0c8" stroke-width="0.6"/>
<circle cx="124.56" cy="251.87" r="1.25" fill="#d6d6de" stroke="#cacad2" stroke-width="0.3"/>
<circle cx="130.1" cy="251.87" r="1.25" fill="#d6d6de" stroke="#cacad2" stroke-width="0.3"/>
<circle cx="135.65" cy="251.87" r="1.9" fill="#ffffff" stroke="#c0c0c0" stroke-width="0.55"/>
<circle cx="141.2" cy="251.87" r="1.25" fill="#d6d6de" stroke="#cacad2" stroke-width="0.3"/>
<circle cx="146.75" cy="251.87" r="0.6" fill="#d0d0d8"/>
<circle cx="152.29" cy="251.87" r="0.6" fill="#d0d0d8"/>
<circle cx="157.84" cy="251.87" r="1.9" fill="#ffffff" stroke="#c0c0c0" stroke-width="0.55"/>
<circle cx="163.39" cy="251.87" r="1.9" fill="#ffffff" stroke="#c0c0c0" stroke-width="0.55"/>
<circle cx="168.93" cy="251.87" r="1.9" fill="#ffffff" stroke="#c0c0c0" stroke-width="0.55"/>
<circle cx="174.48" cy="251.87" r="1.95" fill="#f4d4d4" stroke="#d0a0a0" stroke-width="0.6"/>
<circle cx="180.03" cy="251.87" r="2.0" fill="#e2989a" stroke="#c6868a" stroke-width="0.55"/>
<circle cx="185.57" cy="251.87" r="1.25" fill="#d6d6de" stroke="#cacad2" stroke-width="0.3"/>
<circle cx="191.12" cy="251.87" r="2.0" fill="#e2989a" stroke="#c6868a" stroke-width="0.55"/>
<circle cx="196.67" cy="251.87" r="1.25" fill="#d6d6de" stroke="#cacad2" stroke-width="0.3"/>
<circle cx="202.22" cy="251.87" r="1.25" fill="#d6d6de" stroke="#cacad2" stroke-width="0.3"/>
<circle cx="207.76" cy="251.87" r="1.25" fill="#d6d6de" stroke="#cacad2" stroke-width="0.3"/>
<circle cx="213.31" cy="251.87" r="1.95" fill="#f4d4d4" stroke="#d0a0a0" stroke-width="0.6"/>
<circle cx="218.86" cy="251.87" r="0.6" fill="#d0d0d8"/>
<circle cx="224.4" cy="251.87" r="1.95" fill="#f4d4d4" stroke="#d0a0a0" stroke-width="0.6"/>
<circle cx="229.95" cy="251.87" r="0.6" fill="#d0d0d8"/>
<circle cx="235.5" cy="251.87" r="1.9" fill="#ffffff" stroke="#c0c0c0" stroke-width="0.55"/>
<circle cx="241.04" cy="251.87" r="1.9" fill="#ffffff" stroke="#c0c0c0" stroke-width="0.55"/>
<circle cx="246.59" cy="251.87" r="1.9" fill="#ffffff" stroke="#c0c0c0" stroke-width="0.55"/>
<circle cx="252.14" cy="251.87" r="1.9" fill="#ffffff" stroke="#c0c0c0" stroke-width="0.55"/>
<circle cx="257.69" cy="251.87" r="0.6" fill="#d0d0d8"/>
<circle cx="263.23" cy="251.87" r="1.9" fill="#ffffff" stroke="#c0c0c0" stroke-width="0.55"/>
<circle cx="268.78" cy="251.87" r="0.6" fill="#d0d0d8"/>
<circle cx="274.33" cy="251.87" r="1.25" fill="#d6d6de" stroke="#cacad2" stroke-width="0.3"/>
<circle cx="279.87" cy="251.87" r="1.9" fill="#ffffff" stroke="#c0c0c0" stroke-width="0.55"/>
<circle cx="285.42" cy="251.87" r="0.6" fill="#d0d0d8"/>
<circle cx="290.97" cy="251.87" r="2.0" fill="#e2989a" stroke="#c6868a" stroke-width="0.55"/>
<circle cx="296.51" cy="251.87" r="1.95" fill="#f4d4d4" stroke="#d0a0a0" stroke-width="0.6"/>
<circle cx="302.06" cy="251.87" r="2.2" fill="#db5f44" stroke="#c0604a" stroke-width="0.5"/>
<circle cx="307.61" cy="251.87" r="0.6" fill="#d0d0d8"/>
<circle cx="313.16" cy="251.87" r="0.6" fill="#d0d0d8"/>
<circle cx="318.7" cy="251.87" r="0.6" fill="#d0d0d8"/>
<circle cx="324.25" cy="251.87" r="1.25" fill="#d6d6de" stroke="#cacad2" stroke-width="0.3"/>
<circle cx="329.8" cy="251.87" r="0.6" fill="#d0d0d8"/>
<circle cx="335.34" cy="251.87" r="1.25" fill="#d6d6de" stroke="#cacad2" stroke-width="0.3"/>
<circle cx="340.89" cy="251.87" r="1.25" fill="#d6d6de" stroke="#cacad2" stroke-width="0.3"/>
<circle cx="346.44" cy="251.87" r="0.6" fill="#d0d0d8"/>
<circle cx="351.98" cy="251.87" r="0.6" fill="#d0d0d8"/>
<circle cx="357.53" cy="251.87" r="0.6" fill="#d0d0d8"/>
<circle cx="363.08" cy="251.87" r="1.9" fill="#ffffff" stroke="#c0c0c0" stroke-width="0.55"/>
<circle cx="368.63" cy="251.87" r="1.25" fill="#d6d6de" stroke="#cacad2" stroke-width="0.3"/>
<circle cx="374.17" cy="251.87" r="0.6" fill="#d0d0d8"/>
<circle cx="379.72" cy="251.87" r="1.9" fill="#ffffff" stroke="#c0c0c0" stroke-width="0.55"/>
<circle cx="385.27" cy="251.87" r="0.6" fill="#d0d0d8"/>
<circle cx="390.81" cy="251.87" r="1.95" fill="#f4d4d4" stroke="#d0a0a0" stroke-width="0.6"/>
<circle cx="396.36" cy="251.87" r="1.35" fill="#f2cccc" stroke="#e0b0b0" stroke-width="0.3"/>
<circle cx="401.91" cy="251.87" r="1.9" fill="#ffffff" stroke="#c0c0c0" stroke-width="0.55"/>
<circle cx="407.45" cy="251.87" r="2.2" fill="#db5f44" stroke="#c0604a" stroke-width="0.5"/>
<circle cx="413" cy="251.87" r="1.6" fill="#cf6a52" stroke="#b86050" stroke-width="0.4"/>
<circle cx="418.55" cy="251.87" r="2.2" fill="#db5f44" stroke="#c0604a" stroke-width="0.5"/>
<circle cx="424.1" cy="251.87" r="1.95" fill="#d4674f" stroke="#b86050" stroke-width="0.45"/>
<circle cx="429.64" cy="251.87" r="2.2" fill="#db5f44" stroke="#c0604a" stroke-width="0.5"/>
<circle cx="435.19" cy="251.87" r="2.2" fill="#db5f44" stroke="#c0604a" stroke-width="0.5"/>
<circle cx="440.74" cy="251.87" r="2.2" fill="#db5f44" stroke="#c0604a" stroke-width="0.5"/>
<circle cx="446.28" cy="251.87" r="2.2" fill="#db5f44" stroke="#c0604a" stroke-width="0.5"/>
<circle cx="451.83" cy="251.87" r="1.6" fill="#cf6a52" stroke="#b86050" stroke-width="0.4"/>
<circle cx="457.38" cy="251.87" r="2.2" fill="#db5f44" stroke="#c0604a" stroke-width="0.5"/>
<circle cx="462.92" cy="251.87" r="0.6" fill="#d0d0d8"/>
<circle cx="468.47" cy="251.87" r="0.6" fill="#d0d0d8"/>
<circle cx="474.02" cy="251.87" r="0.6" fill="#d0d0d8"/>
<circle cx="479.57" cy="251.87" r="0.6" fill="#d0d0d8"/>
<circle cx="485.11" cy="251.87" r="0.6" fill="#d0d0d8"/>
<circle cx="490.66" cy="251.87" r="1.25" fill="#d6d6de" stroke="#cacad2" stroke-width="0.3"/>
<circle cx="496.21" cy="251.87" r="0.6" fill="#d0d0d8"/>
<circle cx="501.75" cy="251.87" r="1.25" fill="#d6d6de" stroke="#cacad2" stroke-width="0.3"/>
<circle cx="507.3" cy="251.87" r="1.25" fill="#d6d6de" stroke="#cacad2" stroke-width="0.3"/>
<circle cx="46.9" cy="258.7" r="0.6" fill="#d0d0d8"/>
<circle cx="52.45" cy="258.7" r="1.25" fill="#d6d6de" stroke="#cacad2" stroke-width="0.3"/>
<circle cx="57.99" cy="258.7" r="0.6" fill="#d0d0d8"/>
<circle cx="63.54" cy="258.7" r="1.95" fill="#d8d8ee" stroke="#b0b0c8" stroke-width="0.6"/>
<circle cx="69.09" cy="258.7" r="0.6" fill="#d0d0d8"/>
<circle cx="74.63" cy="258.7" r="1.25" fill="#d6d6de" stroke="#cacad2" stroke-width="0.3"/>
<circle cx="80.18" cy="258.7" r="0.6" fill="#d0d0d8"/>
<circle cx="85.73" cy="258.7" r="0.6" fill="#d0d0d8"/>
<circle cx="91.28" cy="258.7" r="0.6" fill="#d0d0d8"/>
<circle cx="96.82" cy="258.7" r="0.6" fill="#d0d0d8"/>
<circle cx="102.37" cy="258.7" r="1.25" fill="#d6d6de" stroke="#cacad2" stroke-width="0.3"/>
<circle cx="107.92" cy="258.7" r="1.95" fill="#d8d8ee" stroke="#b0b0c8" stroke-width="0.6"/>
<circle cx="113.46" cy="258.7" r="1.95" fill="#d8d8ee" stroke="#b0b0c8" stroke-width="0.6"/>
<circle cx="119.01" cy="258.7" r="1.95" fill="#d8d8ee" stroke="#b0b0c8" stroke-width="0.6"/>
<circle cx="124.56" cy="258.7" r="0.6" fill="#d0d0d8"/>
<circle cx="130.1" cy="258.7" r="0.6" fill="#d0d0d8"/>
<circle cx="135.65" cy="258.7" r="2.2" fill="#db5f44" stroke="#c0604a" stroke-width="0.5"/>
<circle cx="141.2" cy="258.7" r="1.25" fill="#d6d6de" stroke="#cacad2" stroke-width="0.3"/>
<circle cx="146.75" cy="258.7" r="0.6" fill="#d0d0d8"/>
<circle cx="152.29" cy="258.7" r="0.6" fill="#d0d0d8"/>
<circle cx="157.84" cy="258.7" r="1.25" fill="#d6d6de" stroke="#cacad2" stroke-width="0.3"/>
<circle cx="163.39" cy="258.7" r="0.6" fill="#d0d0d8"/>
<circle cx="168.93" cy="258.7" r="1.9" fill="#ffffff" stroke="#c0c0c0" stroke-width="0.55"/>
<circle cx="174.48" cy="258.7" r="1.9" fill="#ffffff" stroke="#c0c0c0" stroke-width="0.55"/>
<circle cx="180.03" cy="258.7" r="0.6" fill="#d0d0d8"/>
<circle cx="185.57" cy="258.7" r="1.95" fill="#f4d4d4" stroke="#d0a0a0" stroke-width="0.6"/>
<circle cx="191.12" cy="258.7" r="1.9" fill="#ffffff" stroke="#c0c0c0" stroke-width="0.55"/>
<circle cx="196.67" cy="258.7" r="1.95" fill="#d4674f" stroke="#b86050" stroke-width="0.45"/>
<circle cx="202.22" cy="258.7" r="0.6" fill="#d0d0d8"/>
<circle cx="207.76" cy="258.7" r="1.25" fill="#d6d6de" stroke="#cacad2" stroke-width="0.3"/>
<circle cx="213.31" cy="258.7" r="1.95" fill="#d4674f" stroke="#b86050" stroke-width="0.45"/>
<circle cx="218.86" cy="258.7" r="0.6" fill="#d0d0d8"/>
<circle cx="224.4" cy="258.7" r="1.25" fill="#d6d6de" stroke="#cacad2" stroke-width="0.3"/>
<circle cx="229.95" cy="258.7" r="0.6" fill="#d0d0d8"/>
<circle cx="235.5" cy="258.7" r="1.25" fill="#d6d6de" stroke="#cacad2" stroke-width="0.3"/>
<circle cx="241.04" cy="258.7" r="0.6" fill="#d0d0d8"/>
<circle cx="246.59" cy="258.7" r="1.9" fill="#ffffff" stroke="#c0c0c0" stroke-width="0.55"/>
<circle cx="252.14" cy="258.7" r="1.9" fill="#ffffff" stroke="#c0c0c0" stroke-width="0.55"/>
<circle cx="257.69" cy="258.7" r="0.6" fill="#d0d0d8"/>
<circle cx="263.23" cy="258.7" r="1.25" fill="#d6d6de" stroke="#cacad2" stroke-width="0.3"/>
<circle cx="268.78" cy="258.7" r="0.6" fill="#d0d0d8"/>
<circle cx="274.33" cy="258.7" r="1.25" fill="#d6d6de" stroke="#cacad2" stroke-width="0.3"/>
<circle cx="279.87" cy="258.7" r="1.25" fill="#d6d6de" stroke="#cacad2" stroke-width="0.3"/>
<circle cx="285.42" cy="258.7" r="0.6" fill="#d0d0d8"/>
<circle cx="290.97" cy="258.7" r="0.6" fill="#d0d0d8"/>
<circle cx="296.51" cy="258.7" r="1.25" fill="#d6d6de" stroke="#cacad2" stroke-width="0.3"/>
<circle cx="302.06" cy="258.7" r="1.25" fill="#d6d6de" stroke="#cacad2" stroke-width="0.3"/>
<circle cx="307.61" cy="258.7" r="0.6" fill="#d0d0d8"/>
<circle cx="313.16" cy="258.7" r="0.6" fill="#d0d0d8"/>
<circle cx="318.7" cy="258.7" r="0.6" fill="#d0d0d8"/>
<circle cx="324.25" cy="258.7" r="1.25" fill="#d6d6de" stroke="#cacad2" stroke-width="0.3"/>
<circle cx="329.8" cy="258.7" r="0.6" fill="#d0d0d8"/>
<circle cx="335.34" cy="258.7" r="1.25" fill="#d6d6de" stroke="#cacad2" stroke-width="0.3"/>
<circle cx="340.89" cy="258.7" r="1.25" fill="#d6d6de" stroke="#cacad2" stroke-width="0.3"/>
<circle cx="346.44" cy="258.7" r="0.6" fill="#d0d0d8"/>
<circle cx="351.98" cy="258.7" r="0.6" fill="#d0d0d8"/>
<circle cx="357.53" cy="258.7" r="0.6" fill="#d0d0d8"/>
<circle cx="363.08" cy="258.7" r="2.0" fill="#e2989a" stroke="#c6868a" stroke-width="0.55"/>
<circle cx="368.63" cy="258.7" r="1.25" fill="#d6d6de" stroke="#cacad2" stroke-width="0.3"/>
<circle cx="374.17" cy="258.7" r="0.6" fill="#d0d0d8"/>
<circle cx="379.72" cy="258.7" r="1.25" fill="#d6d6de" stroke="#cacad2" stroke-width="0.3"/>
<circle cx="385.27" cy="258.7" r="0.6" fill="#d0d0d8"/>
<circle cx="390.81" cy="258.7" r="1.9" fill="#ffffff" stroke="#c0c0c0" stroke-width="0.55"/>
<circle cx="396.36" cy="258.7" r="1.6" fill="#cf6a52" stroke="#b86050" stroke-width="0.4"/>
<circle cx="401.91" cy="258.7" r="1.95" fill="#f4d4d4" stroke="#d0a0a0" stroke-width="0.6"/>
<circle cx="407.45" cy="258.7" r="0.6" fill="#d0d0d8"/>
<circle cx="413" cy="258.7" r="0.6" fill="#d0d0d8"/>
<circle cx="418.55" cy="258.7" r="1.25" fill="#d6d6de" stroke="#cacad2" stroke-width="0.3"/>
<circle cx="424.1" cy="258.7" r="0.6" fill="#d0d0d8"/>
<circle cx="429.64" cy="258.7" r="1.25" fill="#d6d6de" stroke="#cacad2" stroke-width="0.3"/>
<circle cx="435.19" cy="258.7" r="1.95" fill="#d4674f" stroke="#b86050" stroke-width="0.45"/>
<circle cx="440.74" cy="258.7" r="0.6" fill="#d0d0d8"/>
<circle cx="446.28" cy="258.7" r="1.95" fill="#d4674f" stroke="#b86050" stroke-width="0.45"/>
<circle cx="451.83" cy="258.7" r="0.6" fill="#d0d0d8"/>
<circle cx="457.38" cy="258.7" r="0.6" fill="#d0d0d8"/>
<circle cx="462.92" cy="258.7" r="1.95" fill="#d4674f" stroke="#b86050" stroke-width="0.45"/>
<circle cx="468.47" cy="258.7" r="0.85" fill="#d86a52"/>
<circle cx="474.02" cy="258.7" r="2.2" fill="#db5f44" stroke="#c0604a" stroke-width="0.5"/>
<circle cx="479.57" cy="258.7" r="1.6" fill="#cf6a52" stroke="#b86050" stroke-width="0.4"/>
<circle cx="485.11" cy="258.7" r="0.85" fill="#d86a52"/>
<circle cx="490.66" cy="258.7" r="2.2" fill="#db5f44" stroke="#c0604a" stroke-width="0.5"/>
<circle cx="496.21" cy="258.7" r="2.2" fill="#db5f44" stroke="#c0604a" stroke-width="0.5"/>
<circle cx="501.75" cy="258.7" r="2.2" fill="#db5f44" stroke="#c0604a" stroke-width="0.5"/>
<circle cx="507.3" cy="258.7" r="2.2" fill="#db5f44" stroke="#c0604a" stroke-width="0.5"/>
<line x1="46.9" y1="265" x2="46.9" y2="268.2" stroke="#111" stroke-width="0.8"/>
<text transform="translate(48.9,272.1) rotate(-85)" font-size="6.8" font-style="italic" fill="#262626" text-anchor="end">MLLT3</text>
<line x1="52.45" y1="265" x2="52.45" y2="268.2" stroke="#111" stroke-width="0.8"/>
<text transform="translate(54.45,272.1) rotate(-85)" font-size="6.8" font-style="italic" fill="#262626" text-anchor="end">BST2</text>
<line x1="57.99" y1="265" x2="57.99" y2="268.2" stroke="#111" stroke-width="0.8"/>
<text transform="translate(59.99,272.1) rotate(-85)" font-size="6.8" font-style="italic" fill="#262626" text-anchor="end">ALDH1A1</text>
<line x1="63.54" y1="265" x2="63.54" y2="268.2" stroke="#111" stroke-width="0.8"/>
<text transform="translate(65.54,272.1) rotate(-85)" font-size="6.8" font-style="italic" fill="#262626" text-anchor="end">NRIP1</text>
<line x1="69.09" y1="265" x2="69.09" y2="268.2" stroke="#111" stroke-width="0.8"/>
<text transform="translate(71.09,272.1) rotate(-85)" font-size="6.8" font-style="italic" fill="#262626" text-anchor="end">NPR3</text>
<line x1="74.63" y1="265" x2="74.63" y2="268.2" stroke="#111" stroke-width="0.8"/>
<text transform="translate(76.63,272.1) rotate(-85)" font-size="6.8" font-style="italic" fill="#262626" text-anchor="end">HMGA2</text>
<line x1="80.18" y1="265" x2="80.18" y2="268.2" stroke="#111" stroke-width="0.8"/>
<text transform="translate(82.18,272.1) rotate(-85)" font-size="6.8" font-style="italic" fill="#262626" text-anchor="end">MYCT1</text>
<line x1="85.73" y1="265" x2="85.73" y2="268.2" stroke="#111" stroke-width="0.8"/>
<text transform="translate(87.73,272.1) rotate(-85)" font-size="6.8" font-style="italic" fill="#262626" text-anchor="end">TNFSF10</text>
<line x1="91.28" y1="265" x2="91.28" y2="268.2" stroke="#111" stroke-width="0.8"/>
<text transform="translate(93.28,272.1) rotate(-85)" font-size="6.8" font-style="italic" fill="#262626" text-anchor="end">IFITM3</text>
<line x1="96.82" y1="265" x2="96.82" y2="268.2" stroke="#111" stroke-width="0.8"/>
<text transform="translate(98.82,272.1) rotate(-85)" font-size="6.8" font-style="italic" fill="#262626" text-anchor="end">HLA-DRB5</text>
<line x1="102.37" y1="265" x2="102.37" y2="268.2" stroke="#111" stroke-width="0.8"/>
<text transform="translate(104.37,272.1) rotate(-85)" font-size="6.8" font-style="italic" fill="#262626" text-anchor="end">HOPX</text>
<line x1="107.92" y1="265" x2="107.92" y2="268.2" stroke="#111" stroke-width="0.8"/>
<text transform="translate(109.92,272.1) rotate(-85)" font-size="6.8" font-style="italic" fill="#262626" text-anchor="end">CD52</text>
<line x1="113.46" y1="265" x2="113.46" y2="268.2" stroke="#111" stroke-width="0.8"/>
<text transform="translate(115.46,272.1) rotate(-85)" font-size="6.8" font-style="italic" fill="#262626" text-anchor="end">CYTL1</text>
<line x1="119.01" y1="265" x2="119.01" y2="268.2" stroke="#111" stroke-width="0.8"/>
<text transform="translate(121.01,272.1) rotate(-85)" font-size="6.8" font-style="italic" fill="#262626" text-anchor="end">MDK</text>
<line x1="124.56" y1="265" x2="124.56" y2="268.2" stroke="#111" stroke-width="0.8"/>
<text transform="translate(126.56,272.1) rotate(-85)" font-size="6.8" font-style="italic" fill="#262626" text-anchor="end">TPM2</text>
<line x1="130.1" y1="265" x2="130.1" y2="268.2" stroke="#111" stroke-width="0.8"/>
<text transform="translate(132.1,272.1) rotate(-85)" font-size="6.8" font-style="italic" fill="#262626" text-anchor="end">GNA11</text>
<line x1="135.65" y1="265" x2="135.65" y2="268.2" stroke="#111" stroke-width="0.8"/>
<text transform="translate(137.65,272.1) rotate(-85)" font-size="6.8" font-style="italic" fill="#262626" text-anchor="end">SELL</text>
<line x1="141.2" y1="265" x2="141.2" y2="268.2" stroke="#111" stroke-width="0.8"/>
<text transform="translate(143.2,272.1) rotate(-85)" font-size="6.8" font-style="italic" fill="#262626" text-anchor="end">MEG3</text>
<line x1="146.75" y1="265" x2="146.75" y2="268.2" stroke="#111" stroke-width="0.8"/>
<text transform="translate(148.75,272.1) rotate(-85)" font-size="6.8" font-style="italic" fill="#262626" text-anchor="end">ABCB1</text>
<line x1="152.29" y1="265" x2="152.29" y2="268.2" stroke="#111" stroke-width="0.8"/>
<text transform="translate(154.29,272.1) rotate(-85)" font-size="6.8" font-style="italic" fill="#262626" text-anchor="end">FAM43A</text>
<line x1="157.84" y1="265" x2="157.84" y2="268.2" stroke="#111" stroke-width="0.8"/>
<text transform="translate(159.84,272.1) rotate(-85)" font-size="6.8" font-style="italic" fill="#262626" text-anchor="end">GNG11</text>
<line x1="163.39" y1="265" x2="163.39" y2="268.2" stroke="#111" stroke-width="0.8"/>
<text transform="translate(165.39,272.1) rotate(-85)" font-size="6.8" font-style="italic" fill="#262626" text-anchor="end">ANGPT1</text>
<line x1="168.93" y1="265" x2="168.93" y2="268.2" stroke="#111" stroke-width="0.8"/>
<text transform="translate(170.93,272.1) rotate(-85)" font-size="6.8" font-style="italic" fill="#262626" text-anchor="end">JCHAIN</text>
<line x1="174.48" y1="265" x2="174.48" y2="268.2" stroke="#111" stroke-width="0.8"/>
<text transform="translate(176.48,272.1) rotate(-85)" font-size="6.8" font-style="italic" fill="#262626" text-anchor="end">LTB</text>
<line x1="180.03" y1="265" x2="180.03" y2="268.2" stroke="#111" stroke-width="0.8"/>
<text transform="translate(182.03,272.1) rotate(-85)" font-size="6.8" font-style="italic" fill="#262626" text-anchor="end">ACY3</text>
<line x1="185.57" y1="265" x2="185.57" y2="268.2" stroke="#111" stroke-width="0.8"/>
<text transform="translate(187.57,272.1) rotate(-85)" font-size="6.8" font-style="italic" fill="#262626" text-anchor="end">MZB1</text>
<line x1="191.12" y1="265" x2="191.12" y2="268.2" stroke="#111" stroke-width="0.8"/>
<text transform="translate(193.12,272.1) rotate(-85)" font-size="6.8" font-style="italic" fill="#262626" text-anchor="end">LSP1</text>
<line x1="196.67" y1="265" x2="196.67" y2="268.2" stroke="#111" stroke-width="0.8"/>
<text transform="translate(198.67,272.1) rotate(-85)" font-size="6.8" font-style="italic" fill="#262626" text-anchor="end">TRBC2</text>
<line x1="202.22" y1="265" x2="202.22" y2="268.2" stroke="#111" stroke-width="0.8"/>
<text transform="translate(204.22,272.1) rotate(-85)" font-size="6.8" font-style="italic" fill="#262626" text-anchor="end">IL7R</text>
<line x1="207.76" y1="265" x2="207.76" y2="268.2" stroke="#111" stroke-width="0.8"/>
<text transform="translate(209.76,272.1) rotate(-85)" font-size="6.8" font-style="italic" fill="#262626" text-anchor="end">VPREB1</text>
<line x1="213.31" y1="265" x2="213.31" y2="268.2" stroke="#111" stroke-width="0.8"/>
<text transform="translate(215.31,272.1) rotate(-85)" font-size="6.8" font-style="italic" fill="#262626" text-anchor="end">IGLL1</text>
<line x1="218.86" y1="265" x2="218.86" y2="268.2" stroke="#111" stroke-width="0.8"/>
<text transform="translate(220.86,272.1) rotate(-85)" font-size="6.8" font-style="italic" fill="#262626" text-anchor="end">CYGB</text>
<line x1="224.4" y1="265" x2="224.4" y2="268.2" stroke="#111" stroke-width="0.8"/>
<text transform="translate(226.4,272.1) rotate(-85)" font-size="6.8" font-style="italic" fill="#262626" text-anchor="end">UHRF1</text>
<line x1="229.95" y1="265" x2="229.95" y2="268.2" stroke="#111" stroke-width="0.8"/>
<text transform="translate(231.95,272.1) rotate(-85)" font-size="6.8" font-style="italic" fill="#262626" text-anchor="end">POU2AF1</text>
<line x1="235.5" y1="265" x2="235.5" y2="268.2" stroke="#111" stroke-width="0.8"/>
<text transform="translate(237.5,272.1) rotate(-85)" font-size="6.8" font-style="italic" fill="#262626" text-anchor="end">MPO</text>
<line x1="241.04" y1="265" x2="241.04" y2="268.2" stroke="#111" stroke-width="0.8"/>
<text transform="translate(243.04,272.1) rotate(-85)" font-size="6.8" font-style="italic" fill="#262626" text-anchor="end">DLK1</text>
<line x1="246.59" y1="265" x2="246.59" y2="268.2" stroke="#111" stroke-width="0.8"/>
<text transform="translate(248.59,272.1) rotate(-85)" font-size="6.8" font-style="italic" fill="#262626" text-anchor="end">CLEC11A</text>
<line x1="252.14" y1="265" x2="252.14" y2="268.2" stroke="#111" stroke-width="0.8"/>
<text transform="translate(254.14,272.1) rotate(-85)" font-size="6.8" font-style="italic" fill="#262626" text-anchor="end">PRSS57</text>
<line x1="257.69" y1="265" x2="257.69" y2="268.2" stroke="#111" stroke-width="0.8"/>
<text transform="translate(259.69,272.1) rotate(-85)" font-size="6.8" font-style="italic" fill="#262626" text-anchor="end">CEBPD</text>
<line x1="263.23" y1="265" x2="263.23" y2="268.2" stroke="#111" stroke-width="0.8"/>
<text transform="translate(265.23,272.1) rotate(-85)" font-size="6.8" font-style="italic" fill="#262626" text-anchor="end">MYC</text>
<line x1="268.78" y1="265" x2="268.78" y2="268.2" stroke="#111" stroke-width="0.8"/>
<text transform="translate(270.78,272.1) rotate(-85)" font-size="6.8" font-style="italic" fill="#262626" text-anchor="end">MS4A3</text>
<line x1="274.33" y1="265" x2="274.33" y2="268.2" stroke="#111" stroke-width="0.8"/>
<text transform="translate(276.33,272.1) rotate(-85)" font-size="6.8" font-style="italic" fill="#262626" text-anchor="end">RHEX</text>
<line x1="279.87" y1="265" x2="279.87" y2="268.2" stroke="#111" stroke-width="0.8"/>
<text transform="translate(281.87,272.1) rotate(-85)" font-size="6.8" font-style="italic" fill="#262626" text-anchor="end">TRH</text>
<line x1="285.42" y1="265" x2="285.42" y2="268.2" stroke="#111" stroke-width="0.8"/>
<text transform="translate(287.42,272.1) rotate(-85)" font-size="6.8" font-style="italic" fill="#262626" text-anchor="end">CLEC10A</text>
<line x1="290.97" y1="265" x2="290.97" y2="268.2" stroke="#111" stroke-width="0.8"/>
<text transform="translate(292.97,272.1) rotate(-85)" font-size="6.8" font-style="italic" fill="#262626" text-anchor="end">KCNE5</text>
<line x1="296.51" y1="265" x2="296.51" y2="268.2" stroke="#111" stroke-width="0.8"/>
<text transform="translate(298.51,272.1) rotate(-85)" font-size="6.8" font-style="italic" fill="#262626" text-anchor="end">IRF8</text>
<line x1="302.06" y1="265" x2="302.06" y2="268.2" stroke="#111" stroke-width="0.8"/>
<text transform="translate(304.06,272.1) rotate(-85)" font-size="6.8" font-style="italic" fill="#262626" text-anchor="end">C1ORF21</text>
<line x1="307.61" y1="265" x2="307.61" y2="268.2" stroke="#111" stroke-width="0.8"/>
<text transform="translate(309.61,272.1) rotate(-85)" font-size="6.8" font-style="italic" fill="#262626" text-anchor="end">MPEG1</text>
<line x1="313.16" y1="265" x2="313.16" y2="268.2" stroke="#111" stroke-width="0.8"/>
<text transform="translate(315.16,272.1) rotate(-85)" font-size="6.8" font-style="italic" fill="#262626" text-anchor="end">ANXA1</text>
<line x1="318.7" y1="265" x2="318.7" y2="268.2" stroke="#111" stroke-width="0.8"/>
<text transform="translate(320.7,272.1) rotate(-85)" font-size="6.8" font-style="italic" fill="#262626" text-anchor="end">SAMHD1</text>
<line x1="324.25" y1="265" x2="324.25" y2="268.2" stroke="#111" stroke-width="0.8"/>
<text transform="translate(326.25,272.1) rotate(-85)" font-size="6.8" font-style="italic" fill="#262626" text-anchor="end">GATA2</text>
<line x1="329.8" y1="265" x2="329.8" y2="268.2" stroke="#111" stroke-width="0.8"/>
<text transform="translate(331.8,272.1) rotate(-85)" font-size="6.8" font-style="italic" fill="#262626" text-anchor="end">CNRIP1</text>
<line x1="335.34" y1="265" x2="335.34" y2="268.2" stroke="#111" stroke-width="0.8"/>
<text transform="translate(337.34,272.1) rotate(-85)" font-size="6.8" font-style="italic" fill="#262626" text-anchor="end">CTNNBL1</text>
<line x1="340.89" y1="265" x2="340.89" y2="268.2" stroke="#111" stroke-width="0.8"/>
<text transform="translate(342.89,272.1) rotate(-85)" font-size="6.8" font-style="italic" fill="#262626" text-anchor="end">SLC40A1</text>
<line x1="346.44" y1="265" x2="346.44" y2="268.2" stroke="#111" stroke-width="0.8"/>
<text transform="translate(348.44,272.1) rotate(-85)" font-size="6.8" font-style="italic" fill="#262626" text-anchor="end">GATA1</text>
<line x1="351.98" y1="265" x2="351.98" y2="268.2" stroke="#111" stroke-width="0.8"/>
<text transform="translate(353.98,272.1) rotate(-85)" font-size="6.8" font-style="italic" fill="#262626" text-anchor="end">KCNH2</text>
<line x1="357.53" y1="265" x2="357.53" y2="268.2" stroke="#111" stroke-width="0.8"/>
<text transform="translate(359.53,272.1) rotate(-85)" font-size="6.8" font-style="italic" fill="#262626" text-anchor="end">TIMP3</text>
<line x1="363.08" y1="265" x2="363.08" y2="268.2" stroke="#111" stroke-width="0.8"/>
<text transform="translate(365.08,272.1) rotate(-85)" font-size="6.8" font-style="italic" fill="#262626" text-anchor="end">CITED2</text>
<line x1="368.63" y1="265" x2="368.63" y2="268.2" stroke="#111" stroke-width="0.8"/>
<text transform="translate(370.63,272.1) rotate(-85)" font-size="6.8" font-style="italic" fill="#262626" text-anchor="end">HPGDS</text>
<line x1="374.17" y1="265" x2="374.17" y2="268.2" stroke="#111" stroke-width="0.8"/>
<text transform="translate(376.17,272.1) rotate(-85)" font-size="6.8" font-style="italic" fill="#262626" text-anchor="end">KLF1</text>
<line x1="379.72" y1="265" x2="379.72" y2="268.2" stroke="#111" stroke-width="0.8"/>
<text transform="translate(381.72,272.1) rotate(-85)" font-size="6.8" font-style="italic" fill="#262626" text-anchor="end">CENPF</text>
<line x1="385.27" y1="265" x2="385.27" y2="268.2" stroke="#111" stroke-width="0.8"/>
<text transform="translate(387.27,272.1) rotate(-85)" font-size="6.8" font-style="italic" fill="#262626" text-anchor="end">PTMS</text>
<line x1="390.81" y1="265" x2="390.81" y2="268.2" stroke="#111" stroke-width="0.8"/>
<text transform="translate(392.81,272.1) rotate(-85)" font-size="6.8" font-style="italic" fill="#262626" text-anchor="end">PTTG1</text>
<line x1="396.36" y1="265" x2="396.36" y2="268.2" stroke="#111" stroke-width="0.8"/>
<text transform="translate(398.36,272.1) rotate(-85)" font-size="6.8" font-style="italic" fill="#262626" text-anchor="end">HIST1H2AC</text>
<line x1="401.91" y1="265" x2="401.91" y2="268.2" stroke="#111" stroke-width="0.8"/>
<text transform="translate(403.91,272.1) rotate(-85)" font-size="6.8" font-style="italic" fill="#262626" text-anchor="end">HMGB3</text>
<line x1="407.45" y1="265" x2="407.45" y2="268.2" stroke="#111" stroke-width="0.8"/>
<text transform="translate(409.45,272.1) rotate(-85)" font-size="6.8" font-style="italic" fill="#262626" text-anchor="end">MX1</text>
<line x1="413" y1="265" x2="413" y2="268.2" stroke="#111" stroke-width="0.8"/>
<text transform="translate(415,272.1) rotate(-85)" font-size="6.8" font-style="italic" fill="#262626" text-anchor="end">OASL</text>
<line x1="418.55" y1="265" x2="418.55" y2="268.2" stroke="#111" stroke-width="0.8"/>
<text transform="translate(420.55,272.1) rotate(-85)" font-size="6.8" font-style="italic" fill="#262626" text-anchor="end">ISG15</text>
<line x1="424.1" y1="265" x2="424.1" y2="268.2" stroke="#111" stroke-width="0.8"/>
<text transform="translate(426.1,272.1) rotate(-85)" font-size="6.8" font-style="italic" fill="#262626" text-anchor="end">IFI44L</text>
<line x1="429.64" y1="265" x2="429.64" y2="268.2" stroke="#111" stroke-width="0.8"/>
<text transform="translate(431.64,272.1) rotate(-85)" font-size="6.8" font-style="italic" fill="#262626" text-anchor="end">IFI6</text>
<line x1="435.19" y1="265" x2="435.19" y2="268.2" stroke="#111" stroke-width="0.8"/>
<text transform="translate(437.19,272.1) rotate(-85)" font-size="6.8" font-style="italic" fill="#262626" text-anchor="end">EPSTI1</text>
<line x1="440.74" y1="265" x2="440.74" y2="268.2" stroke="#111" stroke-width="0.8"/>
<text transform="translate(442.74,272.1) rotate(-85)" font-size="6.8" font-style="italic" fill="#262626" text-anchor="end">IRF7</text>
<line x1="446.28" y1="265" x2="446.28" y2="268.2" stroke="#111" stroke-width="0.8"/>
<text transform="translate(448.28,272.1) rotate(-85)" font-size="6.8" font-style="italic" fill="#262626" text-anchor="end">CMPK2</text>
<line x1="451.83" y1="265" x2="451.83" y2="268.2" stroke="#111" stroke-width="0.8"/>
<text transform="translate(453.83,272.1) rotate(-85)" font-size="6.8" font-style="italic" fill="#262626" text-anchor="end">MX2</text>
<line x1="457.38" y1="265" x2="457.38" y2="268.2" stroke="#111" stroke-width="0.8"/>
<text transform="translate(459.38,272.1) rotate(-85)" font-size="6.8" font-style="italic" fill="#262626" text-anchor="end">XAF1</text>
<line x1="462.92" y1="265" x2="462.92" y2="268.2" stroke="#111" stroke-width="0.8"/>
<text transform="translate(464.92,272.1) rotate(-85)" font-size="6.8" font-style="italic" fill="#262626" text-anchor="end">CHI3L2</text>
<line x1="468.47" y1="265" x2="468.47" y2="268.2" stroke="#111" stroke-width="0.8"/>
<text transform="translate(470.47,272.1) rotate(-85)" font-size="6.8" font-style="italic" fill="#262626" text-anchor="end">PRSS2</text>
<line x1="474.02" y1="265" x2="474.02" y2="268.2" stroke="#111" stroke-width="0.8"/>
<text transform="translate(476.02,272.1) rotate(-85)" font-size="6.8" font-style="italic" fill="#262626" text-anchor="end">TRDC</text>
<line x1="479.57" y1="265" x2="479.57" y2="268.2" stroke="#111" stroke-width="0.8"/>
<text transform="translate(481.57,272.1) rotate(-85)" font-size="6.8" font-style="italic" fill="#262626" text-anchor="end">TRBC1</text>
<line x1="485.11" y1="265" x2="485.11" y2="268.2" stroke="#111" stroke-width="0.8"/>
<text transform="translate(487.11,272.1) rotate(-85)" font-size="6.8" font-style="italic" fill="#262626" text-anchor="end">KLRC1</text>
<line x1="490.66" y1="265" x2="490.66" y2="268.2" stroke="#111" stroke-width="0.8"/>
<text transform="translate(492.66,272.1) rotate(-85)" font-size="6.8" font-style="italic" fill="#262626" text-anchor="end">GATA3</text>
<line x1="496.21" y1="265" x2="496.21" y2="268.2" stroke="#111" stroke-width="0.8"/>
<text transform="translate(498.21,272.1) rotate(-85)" font-size="6.8" font-style="italic" fill="#262626" text-anchor="end">CD247</text>
<line x1="501.75" y1="265" x2="501.75" y2="268.2" stroke="#111" stroke-width="0.8"/>
<text transform="translate(503.75,272.1) rotate(-85)" font-size="6.8" font-style="italic" fill="#262626" text-anchor="end">LCK</text>
<line x1="507.3" y1="265" x2="507.3" y2="268.2" stroke="#111" stroke-width="0.8"/>
<text transform="translate(509.3,272.1) rotate(-85)" font-size="6.8" font-style="italic" fill="#262626" text-anchor="end">CD3D</text>
<rect x="85" y="339.3" width="148.7" height="149.09999999999997" fill="none" stroke="#111" stroke-width="1.15"/>
<line x1="100.8" y1="488.4" x2="100.8" y2="491.0" stroke="#111" stroke-width="0.8"/>
<text x="100.8" y="501.0" font-size="6.4" fill="#2a2a2a" text-anchor="middle">−10</text>
<line x1="137.2" y1="488.4" x2="137.2" y2="491.0" stroke="#111" stroke-width="0.8"/>
<text x="137.2" y="501.0" font-size="6.4" fill="#2a2a2a" text-anchor="middle">0</text>
<line x1="173.6" y1="488.4" x2="173.6" y2="491.0" stroke="#111" stroke-width="0.8"/>
<text x="173.6" y="501.0" font-size="6.4" fill="#2a2a2a" text-anchor="middle">10</text>
<line x1="210" y1="488.4" x2="210" y2="491.0" stroke="#111" stroke-width="0.8"/>
<text x="210" y="501.0" font-size="6.4" fill="#2a2a2a" text-anchor="middle">20</text>
<line x1="82" y1="475.5" x2="85" y2="475.5" stroke="#111" stroke-width="0.8"/>
<text x="78.4" y="477.8" font-size="6.4" fill="#2a2a2a" text-anchor="end">−10</text>
<line x1="82" y1="428.6" x2="85" y2="428.6" stroke="#111" stroke-width="0.8"/>
<text x="78.4" y="430.9" font-size="6.4" fill="#2a2a2a" text-anchor="end">0</text>
<line x1="82" y1="381.7" x2="85" y2="381.7" stroke="#111" stroke-width="0.8"/>
<text x="78.4" y="384" font-size="6.4" fill="#2a2a2a" text-anchor="end">10</text>
<circle cx="154.5" cy="345.4" r="2.3" fill="#40b4b0" stroke="#1c5050" stroke-width="0.8"/>
<circle cx="159.8" cy="348.2" r="2.3" fill="#40b4b0" stroke="#1c5050" stroke-width="0.8"/>
<circle cx="156.3" cy="349.3" r="2.3" fill="#40b4b0" stroke="#1c5050" stroke-width="0.8"/>
<circle cx="164" cy="352.8" r="2.3" fill="#40b4b0" stroke="#1c5050" stroke-width="0.8"/>
<circle cx="120.8" cy="387.9" r="2.3" fill="#4a46a0" stroke="#262250" stroke-width="0.8"/>
<circle cx="121.7" cy="391.2" r="2.3" fill="#4a46a0" stroke="#262250" stroke-width="0.8"/>
<circle cx="124.5" cy="392.5" r="2.3" fill="#4a46a0" stroke="#262250" stroke-width="0.8"/>
<circle cx="92.6" cy="408.2" r="2.3" fill="#e04040" stroke="#6a1e1e" stroke-width="0.8"/>
<circle cx="95.4" cy="410.6" r="2.3" fill="#e04040" stroke="#6a1e1e" stroke-width="0.8"/>
<circle cx="91.3" cy="415.6" r="2.3" fill="#e04040" stroke="#6a1e1e" stroke-width="0.8"/>
<circle cx="94.4" cy="416.2" r="2.3" fill="#e04040" stroke="#6a1e1e" stroke-width="0.8"/>
<circle cx="123.6" cy="428.2" r="2.3" fill="#ffffff" stroke="#444" stroke-width="0.8"/>
<circle cx="121.5" cy="432.5" r="2.3" fill="#ffffff" stroke="#444" stroke-width="0.8"/>
<circle cx="174" cy="439.3" r="2.3" fill="#d09ad4" stroke="#5a3a60" stroke-width="0.8"/>
<circle cx="179.4" cy="440.5" r="2.3" fill="#d09ad4" stroke="#5a3a60" stroke-width="0.8"/>
<circle cx="181.6" cy="445.8" r="2.3" fill="#d09ad4" stroke="#5a3a60" stroke-width="0.8"/>
<circle cx="178.9" cy="448" r="2.3" fill="#d09ad4" stroke="#5a3a60" stroke-width="0.8"/>
<circle cx="222.3" cy="449.5" r="2.3" fill="#a0308c" stroke="#4a1840" stroke-width="0.8"/>
<circle cx="221" cy="455.3" r="2.3" fill="#a0308c" stroke="#4a1840" stroke-width="0.8"/>
<circle cx="226.3" cy="459.3" r="2.3" fill="#a0308c" stroke="#4a1840" stroke-width="0.8"/>
<circle cx="227.6" cy="458.6" r="2.3" fill="#a0308c" stroke="#4a1840" stroke-width="0.8"/>
<circle cx="120.1" cy="443.4" r="2.3" fill="#b4daec" stroke="#2c5464" stroke-width="0.8"/>
<circle cx="120.2" cy="449.2" r="2.3" fill="#b4daec" stroke="#2c5464" stroke-width="0.8"/>
<circle cx="123.7" cy="451.1" r="2.3" fill="#b4daec" stroke="#2c5464" stroke-width="0.8"/>
<circle cx="113.2" cy="451" r="2.3" fill="#f2b8b6" stroke="#6a4444" stroke-width="0.8"/>
<circle cx="115" cy="453.2" r="2.3" fill="#f2b8b6" stroke="#6a4444" stroke-width="0.8"/>
<circle cx="117.1" cy="455.2" r="2.3" fill="#f2b8b6" stroke="#6a4444" stroke-width="0.8"/>
<circle cx="98.6" cy="470.7" r="2.3" fill="#f0e630" stroke="#5a5410" stroke-width="0.8"/>
<circle cx="99.6" cy="472.2" r="2.3" fill="#f0e630" stroke="#5a5410" stroke-width="0.8"/>
<circle cx="103.6" cy="472.3" r="2.3" fill="#f0e630" stroke="#5a5410" stroke-width="0.8"/>
<circle cx="98" cy="481.5" r="2.3" fill="#f0e630" stroke="#5a5410" stroke-width="0.8"/>
<text x="159.9" y="513.8" font-size="8.8" fill="#222" stroke="#222" stroke-width="0.3" text-anchor="middle" textLength="57.8" lengthAdjust="spacingAndGlyphs">PC1: 39% variance</text>
<text transform="translate(61,414) rotate(-90)" font-size="8.8" fill="#222" stroke="#222" stroke-width="0.3" text-anchor="middle" textLength="58" lengthAdjust="spacingAndGlyphs">PC2: 20% variance</text>
<rect x="278.5" y="338.5" width="151.89999999999998" height="151.3" fill="none" stroke="#111" stroke-width="1.15"/>
<line x1="291.1" y1="489.8" x2="291.1" y2="492.40000000000003" stroke="#111" stroke-width="0.8"/>
<text x="291.1" y="502.40000000000003" font-size="6.4" fill="#2a2a2a" text-anchor="middle">−10</text>
<line x1="338.8" y1="489.8" x2="338.8" y2="492.40000000000003" stroke="#111" stroke-width="0.8"/>
<text x="338.8" y="502.40000000000003" font-size="6.4" fill="#2a2a2a" text-anchor="middle">0</text>
<line x1="386.5" y1="489.8" x2="386.5" y2="492.40000000000003" stroke="#111" stroke-width="0.8"/>
<text x="386.5" y="502.40000000000003" font-size="6.4" fill="#2a2a2a" text-anchor="middle">10</text>
<line x1="275.5" y1="444.3" x2="278.5" y2="444.3" stroke="#111" stroke-width="0.8"/>
<text x="271.9" y="446.6" font-size="6.4" fill="#2a2a2a" text-anchor="end">0</text>
<line x1="275.5" y1="388.6" x2="278.5" y2="388.6" stroke="#111" stroke-width="0.8"/>
<text x="271.9" y="390.9" font-size="6.4" fill="#2a2a2a" text-anchor="end">10</text>
<circle cx="351.7" cy="345.4" r="2.3" fill="#e04040" stroke="#6a1e1e" stroke-width="0.8"/>
<circle cx="357" cy="353.8" r="2.3" fill="#e04040" stroke="#6a1e1e" stroke-width="0.8"/>
<circle cx="359.6" cy="353.3" r="2.3" fill="#e04040" stroke="#6a1e1e" stroke-width="0.8"/>
<circle cx="307.6" cy="407.2" r="2.3" fill="#a0308c" stroke="#4a1840" stroke-width="0.8"/>
<circle cx="308.6" cy="409.8" r="2.3" fill="#a0308c" stroke="#4a1840" stroke-width="0.8"/>
<circle cx="311.5" cy="411.7" r="2.3" fill="#a0308c" stroke="#4a1840" stroke-width="0.8"/>
<circle cx="317.7" cy="411.4" r="2.3" fill="#a0308c" stroke="#4a1840" stroke-width="0.8"/>
<circle cx="285" cy="469" r="2.3" fill="#f0e630" stroke="#5a5410" stroke-width="0.8"/>
<circle cx="294.5" cy="474.5" r="2.3" fill="#f0e630" stroke="#5a5410" stroke-width="0.8"/>
<circle cx="296.2" cy="479.2" r="2.3" fill="#f0e630" stroke="#5a5410" stroke-width="0.8"/>
<circle cx="294.5" cy="483" r="2.3" fill="#f0e630" stroke="#5a5410" stroke-width="0.8"/>
<circle cx="312.3" cy="461.3" r="2.3" fill="#f2b8b6" stroke="#6a4444" stroke-width="0.8"/>
<circle cx="316.3" cy="466.9" r="2.3" fill="#f2b8b6" stroke="#6a4444" stroke-width="0.8"/>
<circle cx="315.2" cy="465" r="2.3" fill="#f2b8b6" stroke="#6a4444" stroke-width="0.8"/>
<circle cx="320.4" cy="452.3" r="2.3" fill="#d09ad4" stroke="#5a3a60" stroke-width="0.8"/>
<circle cx="327.9" cy="461.2" r="2.3" fill="#d09ad4" stroke="#5a3a60" stroke-width="0.8"/>
<circle cx="326.5" cy="460" r="2.3" fill="#d09ad4" stroke="#5a3a60" stroke-width="0.8"/>
<circle cx="315.9" cy="454.2" r="2.3" fill="#b4daec" stroke="#2c5464" stroke-width="0.8"/>
<circle cx="317.8" cy="461.6" r="2.3" fill="#b4daec" stroke="#2c5464" stroke-width="0.8"/>
<circle cx="323.6" cy="459.2" r="2.3" fill="#b4daec" stroke="#2c5464" stroke-width="0.8"/>
<circle cx="338.5" cy="456.5" r="2.3" fill="#ffffff" stroke="#444" stroke-width="0.8"/>
<circle cx="334.8" cy="462.6" r="2.3" fill="#ffffff" stroke="#444" stroke-width="0.8"/>
<circle cx="339.4" cy="462.1" r="2.3" fill="#ffffff" stroke="#444" stroke-width="0.8"/>
<circle cx="375.6" cy="454.2" r="2.3" fill="#4a46a0" stroke="#262250" stroke-width="0.8"/>
<circle cx="379.8" cy="455.2" r="2.3" fill="#4a46a0" stroke="#262250" stroke-width="0.8"/>
<circle cx="380.5" cy="458.1" r="2.3" fill="#4a46a0" stroke="#262250" stroke-width="0.8"/>
<circle cx="416.1" cy="471.2" r="2.3" fill="#40b4b0" stroke="#1c5050" stroke-width="0.8"/>
<circle cx="420.7" cy="470.9" r="2.3" fill="#40b4b0" stroke="#1c5050" stroke-width="0.8"/>
<circle cx="419.1" cy="479.7" r="2.3" fill="#40b4b0" stroke="#1c5050" stroke-width="0.8"/>
<circle cx="423" cy="480.7" r="2.3" fill="#40b4b0" stroke="#1c5050" stroke-width="0.8"/>
<text x="353.8" y="514.8" font-size="8.8" fill="#222" stroke="#222" stroke-width="0.3" text-anchor="middle" textLength="57.8" lengthAdjust="spacingAndGlyphs">PC2: 20% variance</text>
<text transform="translate(260.5,414) rotate(-90)" font-size="8.8" fill="#222" stroke="#222" stroke-width="0.3" text-anchor="middle" textLength="58" lengthAdjust="spacingAndGlyphs">PC3: 15% variance</text>
<text x="433" y="373.4" font-size="6.4" fill="#2e2e2e" stroke="#2e2e2e" stroke-width="0.15">FL clusters</text>
<circle cx="436.3" cy="381" r="2.95" fill="#f0e630" stroke="#5a5410" stroke-width="0.95"/>
<text x="442.2" y="383.2" font-size="6.4" fill="#4a7cbc" stroke="#4a7cbc" stroke-width="0.1">HSC</text>
<circle cx="436.3" cy="390.5" r="2.95" fill="#f2b8b6" stroke="#6a4444" stroke-width="0.95"/>
<text x="442.2" y="392.7" font-size="6.4" fill="#4a7cbc" stroke="#4a7cbc" stroke-width="0.1">MPP-I</text>
<circle cx="436.3" cy="400" r="2.95" fill="#b4daec" stroke="#2c5464" stroke-width="0.95"/>
<text x="442.2" y="402.2" font-size="6.4" fill="#4a7cbc" stroke="#4a7cbc" stroke-width="0.1">MPP-II</text>
<circle cx="436.3" cy="409.5" r="2.95" fill="#ffffff" stroke="#444" stroke-width="0.95"/>
<text x="442.2" y="411.7" font-size="6.4" fill="#4a7cbc" stroke="#4a7cbc" stroke-width="0.1">Cyc</text>
<circle cx="436.3" cy="419" r="2.95" fill="#d09ad4" stroke="#5a3a60" stroke-width="0.95"/>
<text x="442.2" y="421.2" font-size="6.4" fill="#4a7cbc" stroke="#4a7cbc" stroke-width="0.1">Ly-I</text>
<circle cx="436.3" cy="428.5" r="2.95" fill="#a0308c" stroke="#4a1840" stroke-width="0.95"/>
<text x="442.2" y="430.7" font-size="6.4" fill="#4a7cbc" stroke="#4a7cbc" stroke-width="0.1">Ly-II</text>
<circle cx="436.3" cy="438" r="2.95" fill="#40b4b0" stroke="#1c5050" stroke-width="0.95"/>
<text x="442.2" y="440.2" font-size="6.4" fill="#4a7cbc" stroke="#4a7cbc" stroke-width="0.1">DC-Mono</text>
<circle cx="436.3" cy="447.5" r="2.95" fill="#4a46a0" stroke="#262250" stroke-width="0.95"/>
<text x="442.2" y="449.7" font-size="6.4" fill="#4a7cbc" stroke="#4a7cbc" stroke-width="0.1">GMP</text>
<circle cx="436.3" cy="457" r="2.95" fill="#e04040" stroke="#6a1e1e" stroke-width="0.95"/>
<text x="442.2" y="459.2" font-size="6.4" fill="#4a7cbc" stroke="#4a7cbc" stroke-width="0.1">MEP</text>
</svg>
</body></html>
